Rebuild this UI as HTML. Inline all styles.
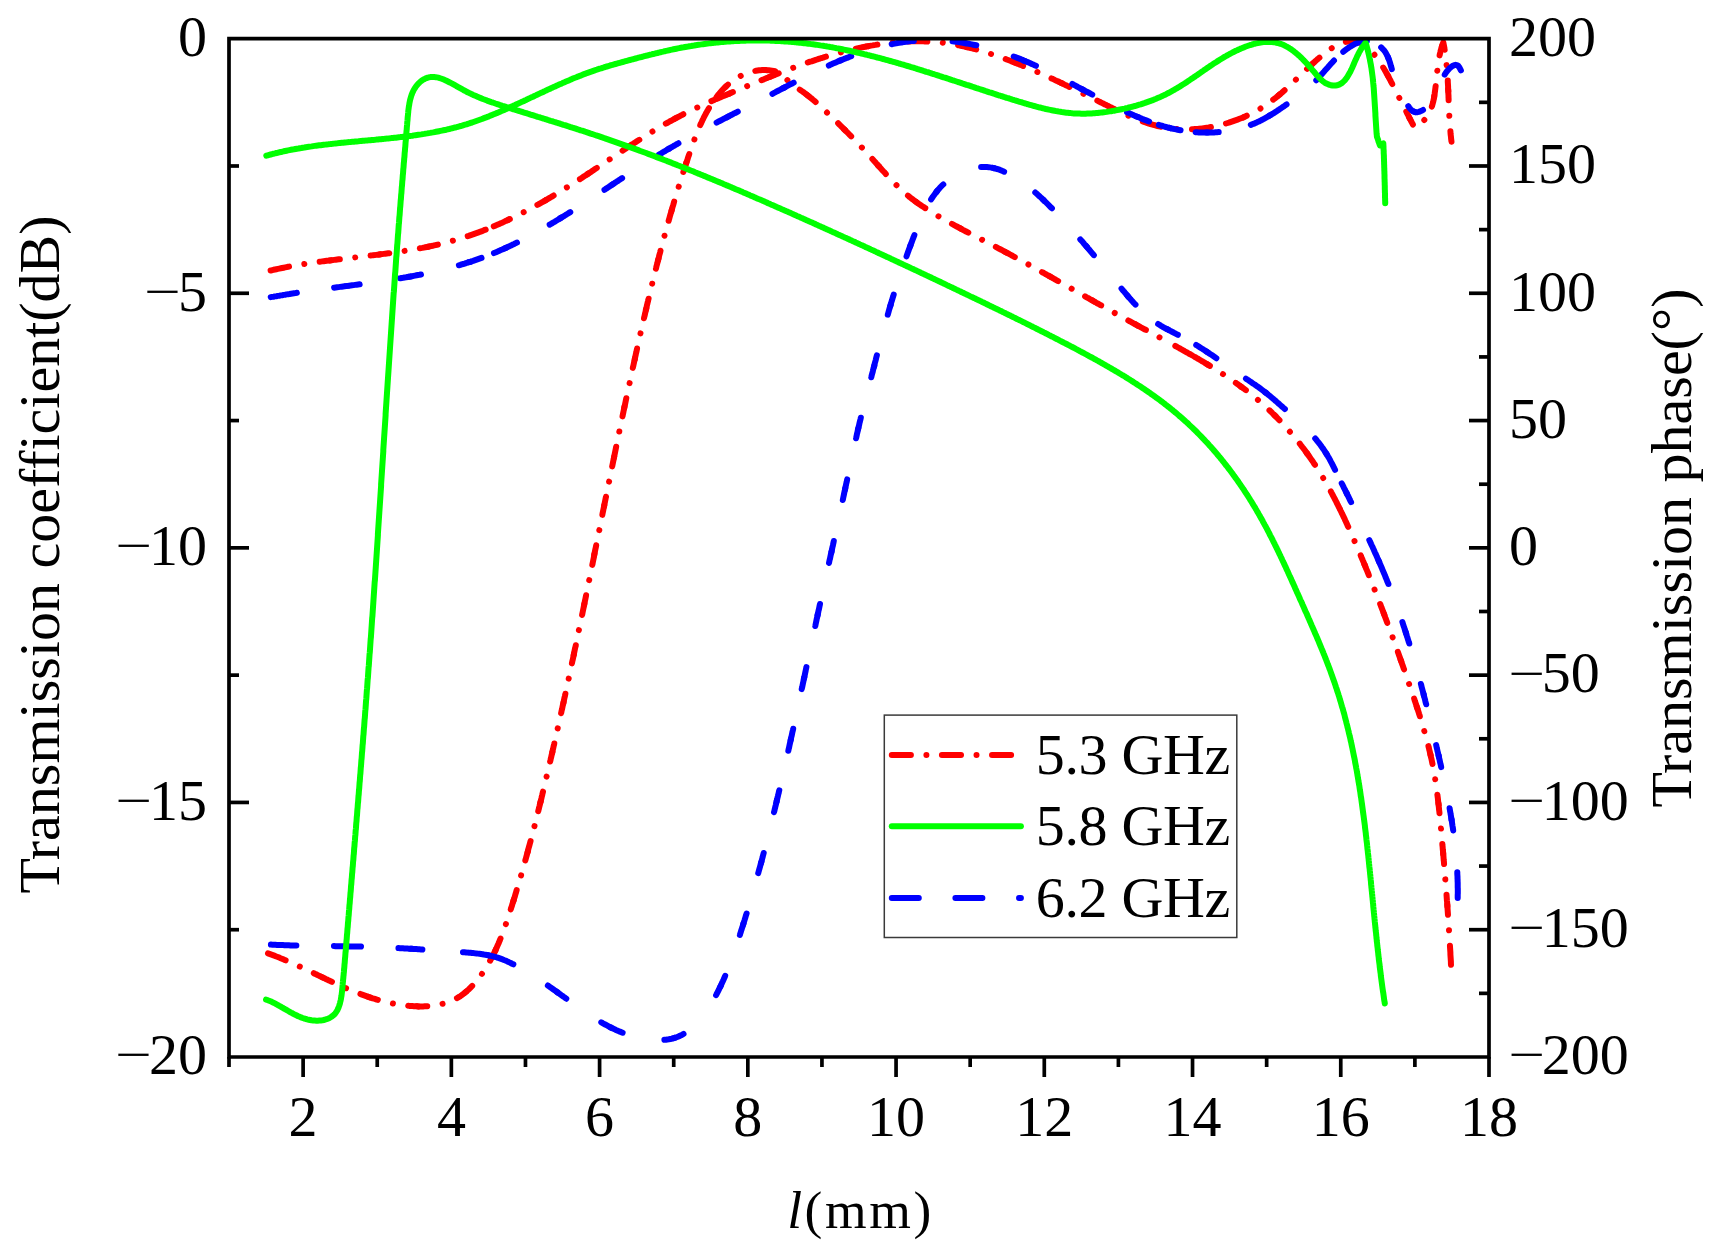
<!DOCTYPE html>
<html><head><meta charset="utf-8"><title>Transmission</title>
<style>html,body{margin:0;padding:0;background:#fff;}svg{display:block;}</style>
</head><body>
<svg width="1722" height="1257" viewBox="0 0 1722 1257" font-family="'Liberation Serif','Times New Roman',serif">
<rect width="1722" height="1257" fill="#fff"/>
<g fill="none" stroke-width="6" stroke-linecap="round" stroke-linejoin="round">
<path d="M270.6,270.5 L272.0,270.2 L273.5,269.8 L275.0,269.5 L276.4,269.2 L277.9,268.9 L279.3,268.6 L280.8,268.3 L282.2,268.0 L283.7,267.7 L285.2,267.4 L286.6,267.1 L288.1,266.8 L289.6,266.5 L291.0,266.3 L292.5,266.0 L294.0,265.7 L295.5,265.5 L296.9,265.2 L298.4,265.0 L299.9,264.7 L301.4,264.5 L302.9,264.2 L304.3,264.0 L305.8,263.8 L307.3,263.5 L308.8,263.3 L310.3,263.1 L311.8,262.9 L313.2,262.7 L314.7,262.4 L316.2,262.2 L317.7,262.0 L319.2,261.8 L320.7,261.6 L322.2,261.4 L323.7,261.2 L325.2,261.0 L326.7,260.8 L328.2,260.6 L329.7,260.4 L331.2,260.3" stroke="#ff0000" stroke-dasharray="19.1 15.5 0.01 15.5" stroke-dashoffset="0.24"/>
<path d="M329.7,260.4 L331.2,260.3 L332.7,260.1 L334.2,259.9 L335.7,259.7 L337.2,259.5 L338.7,259.3 L340.2,259.2 L341.7,259.0 L343.2,258.8 L344.7,258.6 L346.2,258.4 L347.7,258.3 L349.2,258.1 L350.7,257.9 L352.2,257.7 L353.7,257.6 L355.2,257.4 L356.7,257.2 L358.2,257.0 L359.7,256.9 L361.2,256.7 L362.7,256.5 L364.2,256.3 L365.7,256.1 L367.2,256.0 L368.7,255.8 L370.2,255.6 L371.7,255.4 L373.2,255.2 L374.7,255.1 L376.2,254.9 L377.7,254.7 L379.2,254.5 L380.7,254.3" stroke="#ff0000" stroke-dasharray="19.1 15.5 0.01 15.5" stroke-dashoffset="8.92"/>
<path d="M379.2,254.5 L380.7,254.3 L382.2,254.1 L383.7,253.9 L385.2,253.7 L386.7,253.5 L388.2,253.3 L389.7,253.1 L391.2,252.9 L392.7,252.7 L394.1,252.5 L395.6,252.3 L397.1,252.1 L398.6,251.8 L400.1,251.6 L401.6,251.4 L403.1,251.2 L404.6,250.9 L406.1,250.7 L407.5,250.5 L409.0,250.2 L410.5,250.0 L412.0,249.7 L413.5,249.5 L415.0,249.2 L416.4,248.9 L417.9,248.7 L419.4,248.4 L420.9,248.1 L422.3,247.9 L423.8,247.6 L425.3,247.3 L426.8,247.0 L428.2,246.7 L429.7,246.4" stroke="#ff0000" stroke-dasharray="19.1 15.5 0.01 15.5" stroke-dashoffset="8.96"/>
<path d="M428.2,246.7 L429.7,246.4 L431.2,246.1 L432.6,245.8 L434.1,245.4 L435.5,245.1 L437.0,244.8 L438.5,244.4 L439.9,244.1 L441.4,243.7 L442.8,243.4 L444.3,243.0 L445.7,242.7 L447.2,242.3 L448.6,241.9 L450.1,241.5 L451.5,241.1 L452.9,240.7 L454.4,240.3 L455.8,239.9 L457.2,239.5 L458.7,239.0 L460.1,238.6 L461.5,238.2 L462.9,237.7 L464.4,237.3 L465.8,236.8 L467.2,236.3 L468.6,235.9 L470.0,235.4 L471.5,234.9 L472.9,234.4 L474.3,233.9 L475.7,233.4 L477.1,232.9 L478.5,232.4 L479.9,231.8 L481.3,231.3 L482.7,230.8 L484.1,230.2 L485.5,229.7 L486.9,229.1 L488.3,228.6 L489.6,228.0 L491.0,227.4" stroke="#ff0000" stroke-dasharray="19.1 15.5 0.01 15.5" stroke-dashoffset="9.18"/>
<path d="M489.6,228.0 L491.0,227.4 L492.4,226.9 L493.8,226.3 L495.2,225.7 L496.6,225.1 L497.9,224.5 L499.3,223.9 L500.7,223.3 L502.1,222.7 L503.4,222.1 L504.8,221.4 L506.1,220.8 L507.5,220.2 L508.9,219.5" stroke="#ff0000" stroke-dasharray="19.1 15.5 0.01 15.5" stroke-dashoffset="45.60"/>
<path d="M507.5,220.2 L508.9,219.5 L510.2,218.9 L511.6,218.2 L512.9,217.6 L514.3,216.9 L515.6,216.3 L517.0,215.6 L518.3,214.9 L519.7,214.3 L521.0,213.6 L522.4,212.9 L523.7,212.2 L525.1,211.5 L526.4,210.8 L527.7,210.1 L529.1,209.4 L530.4,208.7 L531.7,208.0 L533.0,207.3 L534.4,206.6 L535.7,205.8 L537.0,205.1 L538.3,204.4 L539.7,203.6 L541.0,202.9 L542.3,202.2 L543.6,201.4 L544.9,200.7 L546.2,199.9" stroke="#ff0000" stroke-dasharray="19.1 15.5 0.01 15.5" stroke-dashoffset="16.54"/>
<path d="M544.9,200.7 L546.2,199.9 L547.5,199.2 L548.8,198.4 L550.1,197.6 L551.4,196.9 L552.7,196.1 L554.0,195.3 L555.3,194.5 L556.6,193.8 L557.9,193.0 L559.2,192.2 L560.5,191.4 L561.8,190.6 L563.1,189.8 L564.3,189.0 L565.6,188.2 L566.9,187.4 L568.2,186.6 L569.5,185.8 L570.7,185.0 L572.0,184.2 L573.3,183.4 L574.5,182.6 L575.8,181.8 L577.1,181.0 L578.3,180.1 L579.6,179.3 L580.9,178.5 L582.1,177.7 L583.4,176.8 L584.6,176.0 L585.9,175.2 L587.2,174.4 L588.4,173.5" stroke="#ff0000" stroke-dasharray="19.1 15.5 0.01 15.5" stroke-dashoffset="8.93"/>
<path d="M587.2,174.4 L588.4,173.5 L589.7,172.7 L590.9,171.9 L592.2,171.0 L593.4,170.2 L594.7,169.3 L595.9,168.5 L597.2,167.7 L598.4,166.8 L599.7,166.0 L600.9,165.2 L602.2,164.3 L603.4,163.5 L604.7,162.6 L605.9,161.8 L607.2,161.0 L608.4,160.1 L609.7,159.3 L610.9,158.4 L612.2,157.6 L613.4,156.8 L614.7,155.9 L615.9,155.1 L617.2,154.3 L618.4,153.4 L619.7,152.6 L620.9,151.8 L622.2,150.9 L623.4,150.1 L624.7,149.3 L625.9,148.5 L627.2,147.6 L628.4,146.8 L629.7,146.0 L630.9,145.2" stroke="#ff0000" stroke-dasharray="19.1 15.5 0.01 15.5" stroke-dashoffset="7.51"/>
<path d="M629.7,146.0 L630.9,145.2 L632.2,144.3 L633.5,143.5 L634.7,142.7 L636.0,141.9 L637.2,141.1 L638.5,140.3 L639.8,139.5 L641.0,138.7 L642.3,137.9 L643.6,137.1 L644.8,136.3 L646.1,135.5 L647.4,134.7 L648.6,133.9 L649.9,133.1 L651.2,132.3 L652.5,131.5 L653.7,130.8 L655.0,130.0 L656.3,129.2 L657.6,128.5 L658.9,127.7 L660.2,126.9 L661.5,126.2 L662.8,125.4 L664.1,124.7 L665.3,123.9 L666.6,123.2 L668.0,122.5 L669.3,121.7 L670.6,121.0 L671.9,120.3 L673.2,119.6 L674.5,118.9 L675.8,118.2" stroke="#ff0000" stroke-dasharray="19.1 15.5 0.01 15.5" stroke-dashoffset="7.63"/>
<path d="M674.5,118.9 L675.8,118.2 L677.1,117.5 L678.5,116.8 L679.8,116.1 L681.1,115.4 L682.5,114.7 L683.8,114.0 L685.1,113.3 L686.5,112.7 L687.8,112.0 L689.2,111.3 L690.5,110.7 L691.9,110.0 L693.2,109.4 L694.6,108.8 L695.9,108.1 L697.3,107.5 L698.7,106.9 L700.0,106.2 L701.4,105.6 L702.8,105.0 L704.1,104.4 L705.5,103.8 L706.9,103.2 L708.3,102.6 L709.6,102.0 L711.0,101.3 L712.4,100.7 L713.8,100.2" stroke="#ff0000" stroke-dasharray="19.1 15.5 0.01 15.5" stroke-dashoffset="9.12"/>
<path d="M712.4,100.7 L713.8,100.2 L715.2,99.6 L716.6,99.0 L717.9,98.4 L719.3,97.8 L720.7,97.2 L722.1,96.6 L723.5,96.0 L724.9,95.4 L726.3,94.9 L727.7,94.3 L729.1,93.7 L730.4,93.1" stroke="#ff0000" stroke-dasharray="19.1 15.5 0.01 15.5" stroke-dashoffset="45.59"/>
<path d="M729.1,93.7 L730.4,93.1 L731.8,92.5 L733.2,91.9 L734.6,91.4 L736.0,90.8 L737.4,90.2 L738.8,89.6 L740.2,89.0 L741.6,88.5 L743.0,87.9 L744.3,87.3 L745.7,86.7 L747.1,86.1 L748.5,85.6 L749.9,85.0 L751.3,84.4 L752.7,83.8 L754.1,83.3 L755.5,82.7 L756.9,82.1 L758.3,81.5 L759.6,81.0 L761.0,80.4 L762.4,79.8 L763.8,79.3 L765.2,78.7 L766.6,78.1 L768.0,77.6 L769.4,77.0 L770.8,76.4" stroke="#ff0000" stroke-dasharray="19.1 15.5 0.01 15.5" stroke-dashoffset="15.01"/>
<path d="M769.4,77.0 L770.8,76.4 L772.2,75.9 L773.6,75.3 L775.0,74.8 L776.4,74.2 L777.8,73.7 L779.2,73.1 L780.6,72.6 L782.0,72.0 L783.4,71.5 L784.8,71.0 L786.2,70.4 L787.6,69.9 L789.0,69.4 L790.4,68.8 L791.8,68.3 L793.2,67.8 L794.6,67.3 L796.0,66.7 L797.4,66.2 L798.8,65.7 L800.2,65.2 L801.7,64.7 L803.1,64.2 L804.5,63.7 L805.9,63.2 L807.3,62.7 L808.7,62.2 L810.1,61.7 L811.6,61.3 L813.0,60.8 L814.4,60.3 L815.8,59.8 L817.3,59.4 L818.7,58.9 L820.1,58.5 L821.5,58.0 L823.0,57.6 L824.4,57.1 L825.8,56.7 L827.3,56.2 L828.7,55.8 L830.1,55.4 L831.6,55.0 L833.0,54.5 L834.5,54.1 L835.9,53.7 L837.4,53.3 L838.8,52.9 L840.3,52.5 L841.7,52.2 L843.2,51.8 L844.6,51.4 L846.1,51.0 L847.5,50.7 L849.0,50.3 L850.4,49.9 L851.9,49.6 L853.4,49.3 L854.8,48.9 L856.3,48.6 L857.8,48.3 L859.3,47.9 L860.7,47.6 L862.2,47.3 L863.7,47.0 L865.2,46.7 L866.6,46.4 L868.1,46.2" stroke="#ff0000" stroke-dasharray="19.1 15.5 0.01 15.5" stroke-dashoffset="9.07"/>
<path d="M866.6,46.4 L868.1,46.2 L869.6,45.9 L871.1,45.6 L872.6,45.4 L874.1,45.1 L875.5,44.9 L877.0,44.6 L878.5,44.4 L880.0,44.2 L881.5,43.9 L883.0,43.7 L884.5,43.5 L886.0,43.3 L887.5,43.2 L889.0,43.0 L890.5,42.8 L892.0,42.7 L893.5,42.5 L895.0,42.4 L896.5,42.2 L898.0,42.1 L899.5,42.0 L901.0,41.9 L902.5,41.8 L904.0,41.7 L905.5,41.6 L907.0,41.5 L908.5,41.4 L910.0,41.4 L911.5,41.3 L913.0,41.3 L914.5,41.3 L916.0,41.3 L917.5,41.3 L919.0,41.3 L920.5,41.3 L921.9,41.3 L923.4,41.3 L924.9,41.4 L926.4,41.4 L927.9,41.5 L929.4,41.6 L930.9,41.7 L932.4,41.8 L933.9,41.9 L935.4,42.0 L936.9,42.1 L938.4,42.2 L939.9,42.4 L941.4,42.6 L942.8,42.7 L944.3,42.9 L945.8,43.1 L947.3,43.3 L948.8,43.5 L950.2,43.8 L951.7,44.0 L953.2,44.3 L954.7,44.5 L956.2,44.8 L957.6,45.1 L959.1,45.4 L960.6,45.7 L962.0,46.0 L963.5,46.3 L965.0,46.6 L966.4,47.0 L967.9,47.3" stroke="#ff0000" stroke-dasharray="19.1 15.5 0.01 15.5" stroke-dashoffset="8.10"/>
<path d="M966.4,47.0 L967.9,47.3 L969.4,47.7 L970.8,48.0 L972.3,48.4 L973.7,48.8 L975.2,49.2 L976.6,49.6 L978.1,50.0 L979.5,50.4 L981.0,50.8 L982.4,51.2 L983.9,51.7 L985.3,52.1 L986.8,52.6 L988.2,53.0 L989.6,53.5 L991.1,54.0 L992.5,54.4 L993.9,54.9 L995.4,55.4 L996.8,55.9 L998.2,56.4 L999.6,56.9 L1001.1,57.4 L1002.5,57.9 L1003.9,58.4 L1005.3,58.9 L1006.7,59.5 L1008.1,60.0 L1009.6,60.5 L1011.0,61.1 L1012.4,61.6 L1013.8,62.2 L1015.2,62.7" stroke="#ff0000" stroke-dasharray="19.1 15.5 0.01 15.5" stroke-dashoffset="8.98"/>
<path d="M1013.8,62.2 L1015.2,62.7 L1016.6,63.3 L1018.0,63.8 L1019.4,64.4 L1020.8,65.0 L1022.2,65.5 L1023.5,66.1 L1024.9,66.7 L1026.3,67.3 L1027.7,67.8 L1029.1,68.4 L1030.5,69.0 L1031.8,69.6 L1033.2,70.2 L1034.6,70.8 L1036.0,71.4 L1037.4,72.0 L1038.7,72.6 L1040.1,73.2 L1041.5,73.8 L1042.8,74.4 L1044.2,75.1 L1045.6,75.7 L1046.9,76.3 L1048.3,76.9 L1049.7,77.5 L1051.0,78.2 L1052.4,78.8 L1053.7,79.4 L1055.1,80.1 L1056.4,80.7 L1057.8,81.3 L1059.2,82.0 L1060.5,82.6 L1061.9,83.3" stroke="#ff0000" stroke-dasharray="19.1 15.5 0.01 15.5" stroke-dashoffset="9.05"/>
<path d="M1060.5,82.6 L1061.9,83.3 L1063.2,83.9 L1064.6,84.6 L1065.9,85.2 L1067.3,85.9 L1068.6,86.5 L1070.0,87.2 L1071.3,87.8 L1072.7,88.5 L1074.0,89.1 L1075.4,89.8 L1076.7,90.4 L1078.1,91.1 L1079.4,91.8 L1080.8,92.4 L1082.1,93.1 L1083.4,93.8 L1084.8,94.4 L1086.1,95.1 L1087.5,95.8 L1088.8,96.4 L1090.2,97.1 L1091.5,97.8 L1092.9,98.4 L1094.2,99.1 L1095.6,99.8 L1096.9,100.4 L1098.3,101.1 L1099.6,101.8 L1101.0,102.5 L1102.3,103.1 L1103.7,103.8 L1105.0,104.5 L1106.4,105.1 L1107.7,105.8 L1109.1,106.5 L1110.4,107.1 L1111.8,107.8 L1113.1,108.5 L1114.5,109.1 L1115.8,109.8 L1117.2,110.5 L1118.5,111.1 L1119.9,111.8 L1121.3,112.4 L1122.6,113.0 L1124.0,113.7 L1125.4,114.3 L1126.7,114.9 L1128.1,115.5 L1129.5,116.1 L1130.8,116.7 L1132.2,117.3 L1133.6,117.9 L1135.0,118.5 L1136.4,119.0 L1137.8,119.6 L1139.2,120.1 L1140.6,120.6 L1141.9,121.2 L1143.3,121.7 L1144.8,122.2 L1146.2,122.6 L1147.6,123.1 L1149.0,123.6 L1150.4,124.0 L1151.8,124.4 L1153.3,124.8 L1154.7,125.2 L1156.1,125.6 L1157.6,126.0 L1159.0,126.3 L1160.5,126.6 L1161.9,126.9 L1163.4,127.2 L1164.8,127.5 L1166.3,127.7 L1167.8,128.0 L1169.2,128.2 L1170.7,128.4 L1172.2,128.5 L1173.7,128.7 L1175.2,128.8 L1176.7,129.0 L1178.1,129.1 L1179.6,129.2 L1181.1,129.2 L1182.6,129.3 L1184.1,129.3 L1185.6,129.3 L1187.1,129.3 L1188.7,129.3 L1190.2,129.3 L1191.7,129.2 L1193.2,129.2 L1194.7,129.1 L1196.2,129.0 L1197.7,128.9 L1199.2,128.7 L1200.7,128.6 L1202.2,128.4 L1203.7,128.2 L1205.2,128.0 L1206.7,127.8 L1208.2,127.6 L1209.7,127.3 L1211.2,127.0 L1212.7,126.8 L1214.2,126.5 L1215.7,126.2 L1217.2,125.8 L1218.6,125.5 L1220.1,125.1 L1221.6,124.8 L1223.1,124.4 L1224.5,124.0 L1226.0,123.5" stroke="#ff0000" stroke-dasharray="19.1 15.5 0.01 15.5" stroke-dashoffset="9.10"/>
<path d="M1224.5,124.0 L1226.0,123.5 L1227.4,123.1 L1228.9,122.7 L1230.3,122.2 L1231.8,121.7 L1233.2,121.2 L1234.6,120.7 L1236.1,120.2 L1237.5,119.7 L1238.9,119.1 L1240.3,118.5 L1241.7,118.0 L1243.1,117.4 L1244.5,116.8" stroke="#ff0000" stroke-dasharray="19.1 15.5 0.01 15.5" stroke-dashoffset="45.58"/>
<path d="M1243.1,117.4 L1244.5,116.8 L1245.9,116.2 L1247.2,115.5 L1248.6,114.9 L1249.9,114.2 L1251.3,113.5 L1252.6,112.8 L1254.0,112.1 L1255.3,111.4 L1256.6,110.7 L1257.9,110.0 L1259.2,109.2 L1260.5,108.5 L1261.7,107.7 L1263.0,106.9 L1264.2,106.1 L1265.5,105.3 L1266.7,104.4 L1267.9,103.6 L1269.1,102.7 L1270.3,101.9 L1271.5,101.0 L1272.7,100.1 L1273.8,99.2 L1275.0,98.3 L1276.2,97.4 L1277.3,96.5 L1278.4,95.5 L1279.5,94.6" stroke="#ff0000" stroke-dasharray="19.1 15.5 0.01 15.5" stroke-dashoffset="15.07"/>
<path d="M1278.4,95.5 L1279.5,94.6 L1280.7,93.6 L1281.8,92.7 L1282.9,91.7 L1284.0,90.7 L1285.1,89.7 L1286.2,88.8 L1287.3,87.8 L1288.4,86.8 L1289.4,85.7 L1290.5,84.7 L1291.6,83.7 L1292.7,82.7 L1293.8,81.7 L1294.8,80.6 L1295.9,79.6 L1297.0,78.6 L1298.1,77.5 L1299.1,76.5 L1300.2,75.4 L1301.3,74.4 L1302.4,73.3 L1303.5,72.3 L1304.6,71.2 L1305.7,70.2 L1306.8,69.1 L1307.9,68.1 L1309.0,67.0 L1310.1,66.0 L1311.2,64.9 L1312.4,63.9 L1313.5,62.9" stroke="#ff0000" stroke-dasharray="19.1 15.5 0.01 15.5" stroke-dashoffset="10.94"/>
<path d="M1312.4,63.9 L1313.5,62.9 L1314.7,61.8 L1315.8,60.8 L1317.0,59.8 L1318.1,58.7 L1319.3,57.7 L1320.5,56.7 L1321.7,55.7 L1322.9,54.7 L1324.2,53.7 L1325.4,52.7 L1326.7,51.8 L1327.9,50.8 L1329.2,49.9 L1330.4,49.1 L1331.7,48.2 L1333.0,47.4 L1334.3,46.6 L1335.6,45.9 L1336.9,45.2 L1338.2,44.6 L1339.5,44.0 L1340.9,43.4 L1342.2,42.9 L1343.6,42.5 L1344.9,42.1 L1346.3,41.8 L1347.6,41.5 L1349.0,41.3 L1350.4,41.2 L1351.7,41.2 L1353.1,41.2 L1354.5,41.4 L1355.9,41.6" stroke="#ff0000" stroke-dasharray="19.1 15.5 0.01 15.5" stroke-dashoffset="9.66"/>
<path d="M1354.5,41.4 L1355.9,41.6 L1357.3,41.9 L1358.6,42.2 L1360.0,42.7 L1361.3,43.2 L1362.6,43.8 L1363.8,44.5 L1365.0,45.3 L1366.2,46.2 L1367.3,47.1 L1368.4,48.0 L1369.5,49.1 L1370.5,50.2 L1371.6,51.3 L1372.5,52.4 L1373.5,53.6 L1374.5,54.8 L1375.4,55.9 L1376.3,57.2 L1377.2,58.4 L1378.1,59.6 L1378.9,60.9 L1379.8,62.1 L1380.6,63.4 L1381.4,64.7 L1382.2,65.9 L1383.0,67.2 L1383.8,68.5 L1384.6,69.8 L1385.3,71.1 L1386.1,72.5 L1386.8,73.8 L1387.6,75.1 L1388.3,76.4" stroke="#ff0000" stroke-dasharray="19.1 15.5 0.01 15.5" stroke-dashoffset="9.84"/>
<path d="M1387.6,75.1 L1388.3,76.4 L1389.0,77.8 L1389.7,79.1 L1390.4,80.4 L1391.1,81.8 L1391.8,83.1 L1392.5,84.5 L1393.2,85.8 L1393.9,87.1 L1394.6,88.5 L1395.3,89.8 L1395.9,91.1 L1396.6,92.5 L1397.3,93.8 L1398.0,95.1 L1398.6,96.5 L1399.3,97.8 L1400.0,99.1 L1400.7,100.5 L1401.3,101.8 L1402.0,103.1 L1402.7,104.4 L1403.3,105.8 L1404.0,107.1 L1404.7,108.4 L1405.4,109.8 L1406.0,111.1 L1406.7,112.4 L1407.4,113.8 L1408.1,115.1 L1408.7,116.4 L1409.4,117.8 L1410.1,119.1" stroke="#ff0000" stroke-dasharray="19.1 15.5 0.01 15.5" stroke-dashoffset="9.05"/>
<path d="M1409.4,117.8 L1410.1,119.1 L1410.8,120.5 L1411.5,121.8 L1412.2,123.2 L1412.9,124.5 L1413.6,125.8 L1414.3,127.2 L1415.8,126.5 L1417.2,125.7 L1418.6,124.8 L1419.9,124.0 L1421.1,123.0 L1422.3,122.1 L1423.3,121.1 L1424.3,120.0 L1425.3,118.9 L1426.2,117.8 L1427.0,116.6 L1427.8,115.4 L1428.5,114.2 L1429.2,112.9 L1429.9,111.6 L1430.4,110.3 L1431.0,108.9 L1431.5,107.5 L1432.0,106.1 L1432.4,104.7 L1432.8,103.3 L1433.2,101.8 L1433.5,100.3 L1433.8,98.8 L1434.1,97.3 L1434.3,95.8" stroke="#ff0000" stroke-dasharray="19.1 15.5 0.01 15.5" stroke-dashoffset="11.55"/>
<path d="M1434.1,97.3 L1434.3,95.8 L1434.6,94.2 L1434.8,92.7 L1435.0,91.1 L1435.2,89.6 L1435.4,88.0 L1435.6,86.4 L1435.8,84.9 L1435.9,83.3 L1436.1,81.7 L1436.3,80.1 L1436.4,78.6 L1436.6,77.0 L1436.8,75.4 L1436.9,73.8 L1437.1,72.3 L1437.3,70.7 L1437.5,69.1 L1437.7,67.6 L1437.9,66.0 L1438.1,64.5 L1438.3,63.0 L1438.5,61.4 L1438.8,59.9 L1439.0,58.4 L1439.3,56.9 L1439.6,55.4 L1439.9,53.9 L1440.3,52.4 L1440.6,50.9 L1441.0,49.5 L1441.4,48.0 L1441.9,46.6 L1442.3,45.2" stroke="#ff0000" stroke-dasharray="19.1 15.5 0.01 15.5" stroke-dashoffset="7.81"/>
<path d="M1441.9,46.6 L1442.3,45.2 L1442.8,43.8 L1443.3,42.4 L1443.6,43.9 L1443.9,45.4 L1444.2,46.9 L1444.4,48.4 L1444.7,49.9 L1444.9,51.4 L1445.1,53.0 L1445.4,54.5 L1445.6,56.0 L1445.8,57.5 L1446.0,59.0 L1446.1,60.5 L1446.3,62.1 L1446.5,63.6 L1446.6,65.1 L1446.8,66.6 L1446.9,68.2 L1447.0,69.7 L1447.1,71.2 L1447.3,72.7 L1447.4,74.3 L1447.5,75.8 L1447.6,77.3 L1447.7,78.9 L1447.8,80.4 L1447.8,81.9 L1447.9,83.5 L1448.0,85.0 L1448.1,86.5 L1448.1,88.1 L1448.2,89.6 L1448.3,91.1" stroke="#ff0000" stroke-dasharray="19.1 15.5 0.01 15.5" stroke-dashoffset="7.20"/>
<path d="M1448.2,89.6 L1448.3,91.1 L1448.3,92.7 L1448.4,94.2 L1448.5,95.7 L1448.5,97.3 L1448.6,98.8 L1448.6,100.4 L1448.7,101.9 L1448.8,103.4 L1448.8,105.0 L1448.9,106.5 L1448.9,108.0 L1449.0,109.6 L1449.1,111.1 L1449.2,112.6 L1449.2,114.2 L1449.3,115.7 L1449.4,117.3 L1449.5,118.8 L1449.6,120.3 L1449.7,121.9 L1449.8,123.4 L1449.9,124.9 L1450.0,126.4 L1450.1,128.0 L1450.2,129.5 L1450.4,131.0 L1450.5,132.6 L1450.6,134.1 L1450.8,135.6 L1451.0,137.1 L1451.1,138.7 L1451.3,140.2 L1451.5,141.7" stroke="#ff0000" stroke-dasharray="19.1 15.5 0.01 15.5" stroke-dashoffset="8.46"/>
<path d="M268.0,953.3 L269.4,953.8 L270.8,954.3 L272.2,954.9 L273.6,955.4 L275.0,955.9 L276.4,956.5 L277.8,957.0 L279.2,957.6 L280.6,958.2 L281.9,958.7 L283.3,959.3 L284.7,959.9 L286.1,960.5 L287.5,961.1 L288.8,961.7 L290.2,962.3 L291.6,962.9 L292.9,963.5 L294.3,964.1 L295.7,964.7 L297.0,965.4 L298.4,966.0 L299.8,966.6 L301.1,967.3 L302.5,967.9 L303.9,968.5 L305.2,969.2 L306.6,969.8 L308.0,970.5 L309.3,971.1 L310.7,971.8 L312.0,972.4 L313.4,973.0 L314.8,973.7 L316.1,974.3 L317.5,975.0 L318.8,975.6 L320.2,976.3 L321.5,976.9 L322.9,977.6" stroke="#ff0000" stroke-dasharray="19.1 15.5 0.01 15.5" stroke-dashoffset="0.13"/>
<path d="M321.5,976.9 L322.9,977.6 L324.3,978.2 L325.6,978.9 L327.0,979.5 L328.3,980.2 L329.7,980.8 L331.1,981.4 L332.4,982.1 L333.8,982.7 L335.2,983.3 L336.5,983.9 L337.9,984.6 L339.3,985.2 L340.6,985.8 L342.0,986.4 L343.4,987.0 L344.8,987.6 L346.1,988.2 L347.5,988.8 L348.9,989.4 L350.3,990.0 L351.6,990.5 L353.0,991.1 L354.4,991.7 L355.8,992.2 L357.2,992.8 L358.6,993.3 L360.0,993.8 L361.4,994.4 L362.8,994.9 L364.2,995.4 L365.6,995.9 L367.0,996.4 L368.4,996.9 L369.8,997.3" stroke="#ff0000" stroke-dasharray="19.1 15.5 0.01 15.5" stroke-dashoffset="7.56"/>
<path d="M368.4,996.9 L369.8,997.3 L371.2,997.8 L372.7,998.3 L374.1,998.7 L375.5,999.1 L376.9,999.6 L378.4,1000.0 L379.8,1000.4 L381.2,1000.8 L382.7,1001.2 L384.1,1001.5 L385.6,1001.9 L387.0,1002.2 L388.5,1002.6 L390.0,1002.9 L391.4,1003.2 L392.9,1003.5 L394.4,1003.8 L395.8,1004.1 L397.3,1004.3 L398.8,1004.6 L400.3,1004.8 L401.8,1005.0 L403.3,1005.2 L404.8,1005.4 L406.3,1005.6 L407.8,1005.7 L409.3,1005.9 L410.9,1006.0 L412.4,1006.1 L413.9,1006.2 L415.5,1006.3 L417.0,1006.3 L418.5,1006.4" stroke="#ff0000" stroke-dasharray="19.1 15.5 0.01 15.5" stroke-dashoffset="9.21"/>
<path d="M417.0,1006.3 L418.5,1006.4 L420.1,1006.4 L421.6,1006.4 L423.1,1006.4 L424.7,1006.3 L426.2,1006.3 L427.7,1006.2 L429.2,1006.0 L430.7,1005.9 L432.2,1005.7 L433.7,1005.5 L435.2,1005.3 L436.7,1005.1 L438.2,1004.8 L439.7,1004.5 L441.1,1004.2 L442.6,1003.8 L444.0,1003.4 L445.4,1003.0 L446.8,1002.6 L448.2,1002.1 L449.6,1001.6 L451.0,1001.0 L452.3,1000.5 L453.7,999.9 L455.0,999.2 L456.3,998.5 L457.6,997.8 L458.8,997.0 L460.1,996.3 L461.3,995.4 L462.5,994.6 L463.7,993.7 L464.8,992.8 L466.0,991.8" stroke="#ff0000" stroke-dasharray="19.1 15.5 0.01 15.5" stroke-dashoffset="8.81"/>
<path d="M464.8,992.8 L466.0,991.8 L467.1,990.9 L468.2,989.9 L469.3,988.8 L470.4,987.8 L471.4,986.7 L472.5,985.6 L473.5,984.5 L474.5,983.4 L475.5,982.2 L476.5,981.1 L477.4,979.9 L478.4,978.7 L479.3,977.5 L480.2,976.3 L481.1,975.1 L482.0,973.8 L482.8,972.6 L483.7,971.4 L484.5,970.1 L485.3,968.8 L486.1,967.6 L486.9,966.3 L487.7,965.0 L488.4,963.7 L489.2,962.4 L489.9,961.1 L490.6,959.8 L491.4,958.5 L492.1,957.2 L492.7,955.8 L493.4,954.5 L494.1,953.2 L494.7,951.8 L495.4,950.5 L496.0,949.1" stroke="#ff0000" stroke-dasharray="19.1 15.5 0.01 15.5" stroke-dashoffset="8.98"/>
<path d="M495.4,950.5 L496.0,949.1 L496.6,947.8 L497.2,946.4 L497.8,945.0 L498.4,943.7 L499.0,942.3 L499.6,940.9 L500.1,939.5 L500.7,938.1 L501.3,936.7 L501.8,935.3 L502.3,933.9 L502.9,932.5 L503.4,931.1 L503.9,929.7 L504.4,928.3 L504.9,926.9 L505.4,925.5 L505.9,924.1 L506.4,922.6 L506.9,921.2 L507.4,919.8 L507.8,918.4 L508.3,916.9 L508.8,915.5 L509.2,914.1 L509.7,912.6 L510.2,911.2 L510.6,909.8 L511.1,908.3 L511.5,906.9 L512.0,905.5 L512.4,904.0 L512.9,902.6 L513.3,901.2 L513.8,899.7" stroke="#ff0000" stroke-dasharray="19.1 15.5 0.01 15.5" stroke-dashoffset="6.14"/>
<path d="M513.3,901.2 L513.8,899.7 L514.2,898.3 L514.7,896.9 L515.1,895.4 L515.5,894.0 L516.0,892.6 L516.4,891.1 L516.8,889.7 L517.3,888.2 L517.7,886.8 L518.1,885.4 L518.6,883.9 L519.0,882.5 L519.4,881.0 L519.8,879.6 L520.2,878.2 L520.7,876.7 L521.1,875.3 L521.5,873.8 L521.9,872.4 L522.3,871.0 L522.7,869.5 L523.1,868.1 L523.5,866.6 L524.0,865.2 L524.4,863.7 L524.8,862.3 L525.2,860.8 L525.6,859.4 L526.0,858.0 L526.4,856.5 L526.8,855.1 L527.2,853.6 L527.6,852.2 L528.0,850.7" stroke="#ff0000" stroke-dasharray="19.1 15.5 0.01 15.5" stroke-dashoffset="7.57"/>
<path d="M527.6,852.2 L528.0,850.7 L528.3,849.3 L528.7,847.8 L529.1,846.4 L529.5,844.9 L529.9,843.5 L530.3,842.0 L530.7,840.6 L531.1,839.1 L531.4,837.7 L531.8,836.2 L532.2,834.8 L532.6,833.3 L533.0,831.9 L533.3,830.4 L533.7,829.0 L534.1,827.5 L534.5,826.1 L534.8,824.6 L535.2,823.2 L535.6,821.7 L535.9,820.3 L536.3,818.8 L536.7,817.4 L537.0,815.9 L537.4,814.4 L537.8,813.0 L538.1,811.5 L538.5,810.1 L538.9,808.6 L539.2,807.2 L539.6,805.7 L539.9,804.3 L540.3,802.8 L540.7,801.4" stroke="#ff0000" stroke-dasharray="19.1 15.5 0.01 15.5" stroke-dashoffset="7.61"/>
<path d="M540.3,802.8 L540.7,801.4 L541.0,799.9 L541.4,798.4 L541.7,797.0 L542.1,795.5 L542.4,794.1 L542.8,792.6 L543.1,791.2 L543.5,789.7 L543.8,788.2 L544.2,786.8 L544.5,785.3 L544.9,783.9 L545.2,782.4 L545.6,781.0 L545.9,779.5 L546.3,778.0 L546.6,776.6 L547.0,775.1 L547.3,773.7 L547.7,772.2 L548.0,770.7 L548.3,769.3 L548.7,767.8 L549.0,766.4 L549.4,764.9 L549.7,763.4 L550.0,762.0 L550.4,760.5 L550.7,759.1 L551.1,757.6 L551.4,756.1 L551.7,754.7 L552.1,753.2 L552.4,751.8" stroke="#ff0000" stroke-dasharray="19.1 15.5 0.01 15.5" stroke-dashoffset="7.62"/>
<path d="M552.1,753.2 L552.4,751.8 L552.7,750.3 L553.1,748.8 L553.4,747.4 L553.7,745.9 L554.1,744.4 L554.4,743.0 L554.7,741.5 L555.1,740.1 L555.4,738.6 L555.7,737.1 L556.1,735.7 L556.4,734.2 L556.7,732.8 L557.1,731.3 L557.4,729.8 L557.7,728.4 L558.1,726.9 L558.4,725.4 L558.7,724.0 L559.0,722.5 L559.4,721.0 L559.7,719.6 L560.0,718.1 L560.3,716.7 L560.7,715.2 L561.0,713.7 L561.3,712.3 L561.6,710.8 L562.0,709.3 L562.3,707.9 L562.6,706.4 L562.9,704.9 L563.3,703.5 L563.6,702.0" stroke="#ff0000" stroke-dasharray="19.1 15.5 0.01 15.5" stroke-dashoffset="9.11"/>
<path d="M563.3,703.5 L563.6,702.0 L563.9,700.5 L564.2,699.1 L564.5,697.6 L564.9,696.2 L565.2,694.7 L565.5,693.2 L565.8,691.8 L566.1,690.3 L566.5,688.8 L566.8,687.4 L567.1,685.9 L567.4,684.4 L567.7,683.0 L568.0,681.5 L568.4,680.0 L568.7,678.6 L569.0,677.1 L569.3,675.6 L569.6,674.2 L569.9,672.7 L570.3,671.2 L570.6,669.8 L570.9,668.3 L571.2,666.8 L571.5,665.4 L571.8,663.9 L572.1,662.4 L572.4,661.0 L572.8,659.5 L573.1,658.0 L573.4,656.6 L573.7,655.1 L574.0,653.6" stroke="#ff0000" stroke-dasharray="19.1 15.5 0.01 15.5" stroke-dashoffset="9.10"/>
<path d="M573.7,655.1 L574.0,653.6 L574.3,652.2 L574.6,650.7 L574.9,649.2 L575.2,647.7 L575.6,646.3 L575.9,644.8 L576.2,643.3 L576.5,641.9 L576.8,640.4 L577.1,638.9 L577.4,637.5 L577.7,636.0 L578.0,634.5 L578.3,633.1 L578.6,631.6 L578.9,630.1 L579.2,628.7 L579.5,627.2 L579.8,625.7 L580.2,624.2 L580.5,622.8 L580.8,621.3 L581.1,619.8 L581.4,618.4 L581.7,616.9 L582.0,615.4 L582.3,614.0 L582.6,612.5 L582.9,611.0 L583.2,609.5 L583.5,608.1 L583.8,606.6 L584.1,605.1 L584.4,603.7" stroke="#ff0000" stroke-dasharray="19.1 15.5 0.01 15.5" stroke-dashoffset="9.09"/>
<path d="M584.1,605.1 L584.4,603.7 L584.7,602.2 L585.0,600.7 L585.3,599.3 L585.6,597.8 L585.9,596.3 L586.2,594.8 L586.5,593.4 L586.8,591.9 L587.1,590.4 L587.4,589.0 L587.7,587.5 L588.0,586.0 L588.3,584.5 L588.6,583.1 L588.9,581.6 L589.2,580.1 L589.5,578.7 L589.8,577.2 L590.1,575.7 L590.4,574.3 L590.7,572.8 L591.0,571.3 L591.3,569.8 L591.6,568.4 L591.9,566.9 L592.2,565.4 L592.5,564.0 L592.8,562.5 L593.1,561.0 L593.4,559.5 L593.7,558.1 L594.0,556.6 L594.2,555.1 L594.5,553.7" stroke="#ff0000" stroke-dasharray="19.1 15.5 0.01 15.5" stroke-dashoffset="9.08"/>
<path d="M594.2,555.1 L594.5,553.7 L594.8,552.2 L595.1,550.7 L595.4,549.2 L595.7,547.8 L596.0,546.3 L596.3,544.8 L596.6,543.3 L596.9,541.9 L597.2,540.4 L597.5,538.9 L597.8,537.5 L598.1,536.0 L598.4,534.5 L598.7,533.0 L599.0,531.6 L599.3,530.1 L599.6,528.6 L599.9,527.2 L600.2,525.7 L600.5,524.2 L600.8,522.7 L601.1,521.3 L601.4,519.8 L601.7,518.3 L602.0,516.9 L602.3,515.4 L602.5,513.9 L602.8,512.4 L603.1,511.0 L603.4,509.5 L603.7,508.0 L604.0,506.6 L604.3,505.1" stroke="#ff0000" stroke-dasharray="19.1 15.5 0.01 15.5" stroke-dashoffset="9.08"/>
<path d="M604.0,506.6 L604.3,505.1 L604.6,503.6 L604.9,502.1 L605.2,500.7 L605.5,499.2 L605.8,497.7 L606.1,496.3 L606.4,494.8 L606.7,493.3 L607.0,491.8 L607.3,490.4 L607.6,488.9 L607.9,487.4 L608.2,486.0 L608.5,484.5 L608.8,483.0 L609.1,481.5 L609.4,480.1 L609.7,478.6 L610.0,477.1 L610.3,475.7 L610.6,474.2 L610.9,472.7 L611.2,471.2 L611.5,469.8 L611.8,468.3 L612.1,466.8 L612.4,465.4 L612.7,463.9 L613.0,462.4 L613.3,460.9 L613.6,459.5 L613.9,458.0 L614.2,456.5" stroke="#ff0000" stroke-dasharray="19.1 15.5 0.01 15.5" stroke-dashoffset="9.08"/>
<path d="M613.9,458.0 L614.2,456.5 L614.5,455.1 L614.8,453.6 L615.1,452.1 L615.4,450.7 L615.7,449.2 L616.0,447.7 L616.3,446.2 L616.6,444.8 L616.9,443.3 L617.2,441.8 L617.5,440.4 L617.8,438.9 L618.1,437.4 L618.4,436.0 L618.7,434.5 L619.0,433.0 L619.3,431.5 L619.6,430.1 L619.9,428.6 L620.2,427.1 L620.5,425.7 L620.9,424.2 L621.2,422.7 L621.5,421.3 L621.8,419.8 L622.1,418.3 L622.4,416.9 L622.7,415.4 L623.0,413.9 L623.3,412.5 L623.6,411.0 L623.9,409.5 L624.2,408.0 L624.5,406.6" stroke="#ff0000" stroke-dasharray="19.1 15.5 0.01 15.5" stroke-dashoffset="7.58"/>
<path d="M624.2,408.0 L624.5,406.6 L624.9,405.1 L625.2,403.6 L625.5,402.2 L625.8,400.7 L626.1,399.2 L626.4,397.8 L626.7,396.3 L627.0,394.8 L627.4,393.4 L627.7,391.9 L628.0,390.4 L628.3,389.0 L628.6,387.5 L628.9,386.0 L629.2,384.6 L629.6,383.1 L629.9,381.6 L630.2,380.2 L630.5,378.7 L630.8,377.2 L631.1,375.8 L631.5,374.3 L631.8,372.8 L632.1,371.4 L632.4,369.9 L632.7,368.4 L633.0,367.0 L633.4,365.5 L633.7,364.0 L634.0,362.6 L634.3,361.1 L634.7,359.7 L635.0,358.2" stroke="#ff0000" stroke-dasharray="19.1 15.5 0.01 15.5" stroke-dashoffset="9.10"/>
<path d="M634.7,359.7 L635.0,358.2 L635.3,356.7 L635.6,355.3 L635.9,353.8 L636.3,352.3 L636.6,350.9 L636.9,349.4 L637.2,347.9 L637.6,346.5 L637.9,345.0 L638.2,343.6 L638.6,342.1 L638.9,340.6 L639.2,339.2 L639.5,337.7 L639.9,336.2 L640.2,334.8 L640.5,333.3 L640.9,331.9 L641.2,330.4 L641.5,328.9 L641.9,327.5 L642.2,326.0 L642.5,324.5 L642.9,323.1 L643.2,321.6 L643.5,320.2 L643.9,318.7 L644.2,317.2 L644.6,315.8 L644.9,314.3 L645.2,312.9 L645.6,311.4 L645.9,309.9 L646.3,308.5" stroke="#ff0000" stroke-dasharray="19.1 15.5 0.01 15.5" stroke-dashoffset="7.61"/>
<path d="M645.9,309.9 L646.3,308.5 L646.6,307.0 L646.9,305.6 L647.3,304.1 L647.6,302.6 L648.0,301.2 L648.3,299.7 L648.7,298.3 L649.0,296.8 L649.4,295.4 L649.7,293.9 L650.1,292.4 L650.4,291.0 L650.8,289.5 L651.1,288.1 L651.5,286.6 L651.8,285.2 L652.2,283.7 L652.5,282.2 L652.9,280.8 L653.3,279.3 L653.6,277.9 L654.0,276.4 L654.3,275.0 L654.7,273.5 L655.1,272.1 L655.4,270.6 L655.8,269.1 L656.2,267.7 L656.5,266.2 L656.9,264.8 L657.3,263.3 L657.6,261.9 L658.0,260.4 L658.4,259.0" stroke="#ff0000" stroke-dasharray="19.1 15.5 0.01 15.5" stroke-dashoffset="7.62"/>
<path d="M658.0,260.4 L658.4,259.0 L658.8,257.5 L659.1,256.1 L659.5,254.6 L659.9,253.2 L660.3,251.7 L660.6,250.3 L661.0,248.8 L661.4,247.4 L661.8,245.9 L662.2,244.5 L662.6,243.0 L662.9,241.6 L663.3,240.1 L663.7,238.7 L664.1,237.2 L664.5,235.8 L664.9,234.3 L665.3,232.9 L665.7,231.4 L666.1,230.0 L666.5,228.5 L666.9,227.1 L667.3,225.6 L667.7,224.2 L668.1,222.8 L668.5,221.3 L668.9,219.9 L669.3,218.4 L669.7,217.0 L670.1,215.5 L670.5,214.1 L671.0,212.6 L671.4,211.2 L671.8,209.8" stroke="#ff0000" stroke-dasharray="19.1 15.5 0.01 15.5" stroke-dashoffset="9.10"/>
<path d="M671.4,211.2 L671.8,209.8 L672.2,208.3 L672.6,206.9 L673.1,205.4 L673.5,204.0 L673.9,202.5 L674.3,201.1 L674.8,199.7 L675.2,198.2 L675.6,196.8 L676.1,195.3 L676.5,193.9 L676.9,192.5 L677.4,191.0 L677.8,189.6 L678.2,188.1 L678.7,186.7 L679.1,185.3 L679.6,183.8 L680.0,182.4 L680.5,181.0 L680.9,179.5 L681.4,178.1 L681.8,176.7 L682.3,175.2 L682.8,173.8 L683.2,172.3 L683.7,170.9 L684.1,169.5 L684.6,168.0 L685.1,166.6 L685.6,165.2 L686.0,163.7 L686.5,162.3" stroke="#ff0000" stroke-dasharray="19.1 15.5 0.01 15.5" stroke-dashoffset="9.04"/>
<path d="M686.0,163.7 L686.5,162.3 L687.0,160.9 L687.5,159.5 L687.9,158.0 L688.4,156.6 L688.9,155.2 L689.4,153.7 L689.9,152.3 L690.4,150.9 L690.9,149.4 L691.3,148.0 L691.8,146.6 L692.4,145.2 L692.9,143.8 L693.4,142.3 L693.9,140.9 L694.4,139.5 L694.9,138.1 L695.5,136.7 L696.0,135.3 L696.6,133.9 L697.1,132.5 L697.7,131.1 L698.3,129.7 L698.8,128.3 L699.4,126.9 L700.0,125.6 L700.6,124.2 L701.3,122.8 L701.9,121.5 L702.5,120.1 L703.2,118.8 L703.8,117.5 L704.5,116.1 L705.2,114.8 L705.9,113.5 L706.6,112.2 L707.4,110.9 L708.1,109.6 L708.9,108.3 L709.6,107.0 L710.4,105.8 L711.2,104.5 L712.0,103.3 L712.9,102.0 L713.7,100.8 L714.6,99.6" stroke="#ff0000" stroke-dasharray="19.1 15.5 0.01 15.5" stroke-dashoffset="8.94"/>
<path d="M713.7,100.8 L714.6,99.6 L715.5,98.4 L716.4,97.2 L717.3,96.0 L718.2,94.8 L719.2,93.7 L720.1,92.6 L721.1,91.4 L722.1,90.3 L723.2,89.2 L724.2,88.2 L725.3,87.1 L726.3,86.1" stroke="#ff0000" stroke-dasharray="19.1 15.5 0.01 15.5" stroke-dashoffset="45.61"/>
<path d="M725.3,87.1 L726.3,86.1 L727.4,85.1 L728.5,84.1 L729.7,83.2 L730.8,82.3 L732.0,81.4 L733.2,80.5 L734.4,79.6 L735.6,78.8 L736.8,78.0 L738.1,77.3 L739.4,76.6 L740.7,75.9 L742.0,75.2 L743.3,74.6 L744.6,74.0 L746.0,73.5 L747.4,72.9 L748.8,72.5 L750.2,72.0 L751.6,71.6 L753.1,71.3 L754.6,71.0 L756.1,70.7 L757.6,70.5 L759.1,70.3 L760.7,70.2 L762.2,70.1 L763.8,70.1 L765.4,70.1" stroke="#ff0000" stroke-dasharray="19.1 15.5 0.01 15.5" stroke-dashoffset="15.46"/>
<path d="M763.8,70.1 L765.4,70.1 L767.1,70.2 L768.7,70.3 L770.4,70.5 L772.0,70.7 L773.6,71.0 L775.2,71.3 L776.8,71.8 L778.2,72.3 L779.6,72.9 L780.9,73.6 L782.0,74.4 L783.0,75.2 L784.0,76.2 L784.8,77.2 L785.7,78.2 L786.5,79.2 L787.4,80.2 L788.4,81.2 L789.4,82.2 L790.5,83.1 L791.7,84.0 L792.9,84.9 L794.2,85.8 L795.5,86.7 L796.7,87.6 L798.0,88.4 L799.3,89.3 L800.6,90.2 L801.9,91.1 L803.2,92.0 L804.4,92.9 L805.6,93.8 L806.8,94.7 L808.0,95.7" stroke="#ff0000" stroke-dasharray="19.1 15.5 0.01 15.5" stroke-dashoffset="7.62"/>
<path d="M806.8,94.7 L808.0,95.7 L809.2,96.6 L810.4,97.6 L811.6,98.5 L812.7,99.5 L813.9,100.5 L815.0,101.4 L816.1,102.4 L817.2,103.4 L818.3,104.4 L819.4,105.4 L820.5,106.4 L821.6,107.4 L822.7,108.5 L823.8,109.5 L824.9,110.5 L826.0,111.5 L827.0,112.5 L828.1,113.6 L829.2,114.6 L830.3,115.6 L831.3,116.7 L832.4,117.7 L833.5,118.8 L834.6,119.8 L835.6,120.8 L836.7,121.9 L837.8,122.9 L838.8,124.0 L839.9,125.0 L841.0,126.1 L842.0,127.1 L843.1,128.2 L844.1,129.3 L845.2,130.3" stroke="#ff0000" stroke-dasharray="19.1 15.5 0.01 15.5" stroke-dashoffset="7.65"/>
<path d="M844.1,129.3 L845.2,130.3 L846.2,131.4 L847.3,132.4 L848.4,133.5 L849.4,134.6 L850.5,135.7 L851.5,136.7 L852.5,137.8 L853.6,138.9 L854.6,140.0 L855.7,141.1 L856.7,142.1 L857.8,143.2 L858.8,144.3 L859.8,145.4 L860.9,146.5 L861.9,147.6 L862.9,148.7 L863.9,149.8 L865.0,150.9 L866.0,152.0 L867.0,153.1 L868.0,154.2 L869.0,155.3 L870.1,156.4 L871.1,157.6 L872.1,158.7 L873.1,159.8 L874.1,160.9 L875.1,162.0 L876.1,163.2 L877.1,164.3 L878.1,165.4 L879.1,166.5" stroke="#ff0000" stroke-dasharray="19.1 15.5 0.01 15.5" stroke-dashoffset="9.08"/>
<path d="M878.1,165.4 L879.1,166.5 L880.1,167.7 L881.1,168.8 L882.1,169.9 L883.1,171.0 L884.2,172.1 L885.2,173.2 L886.2,174.4 L887.2,175.5 L888.2,176.6 L889.2,177.7 L890.3,178.8 L891.3,179.9 L892.3,180.9 L893.4,182.0 L894.4,183.1 L895.5,184.1 L896.5,185.2 L897.6,186.3 L898.7,187.3 L899.7,188.3 L900.8,189.4 L901.9,190.4 L903.0,191.4 L904.1,192.4 L905.3,193.3 L906.4,194.3 L907.5,195.3 L908.7,196.2 L909.8,197.2 L911.0,198.1 L912.2,199.0 L913.4,199.9 L914.6,200.8 L915.8,201.7 L917.0,202.6" stroke="#ff0000" stroke-dasharray="19.1 15.5 0.01 15.5" stroke-dashoffset="7.56"/>
<path d="M915.8,201.7 L917.0,202.6 L918.2,203.4 L919.4,204.3 L920.7,205.1 L921.9,206.0 L923.2,206.8 L924.4,207.6 L925.7,208.4 L926.9,209.3 L928.2,210.1 L929.5,210.9 L930.7,211.6 L932.0,212.4 L933.3,213.2 L934.6,214.0 L935.9,214.7 L937.2,215.5 L938.5,216.3 L939.8,217.0 L941.1,217.8 L942.4,218.5 L943.7,219.3 L945.0,220.0 L946.3,220.7 L947.6,221.5 L948.9,222.2 L950.2,222.9 L951.5,223.7 L952.9,224.4 L954.2,225.1 L955.5,225.8 L956.8,226.5 L958.1,227.2 L959.5,227.9 L960.8,228.6" stroke="#ff0000" stroke-dasharray="19.1 15.5 0.01 15.5" stroke-dashoffset="7.62"/>
<path d="M959.5,227.9 L960.8,228.6 L962.1,229.4 L963.4,230.1 L964.8,230.8 L966.1,231.5 L967.4,232.2 L968.7,232.9 L970.1,233.5 L971.4,234.2 L972.7,234.9 L974.1,235.6 L975.4,236.3 L976.7,237.0 L978.1,237.7 L979.4,238.4 L980.7,239.1 L982.1,239.8 L983.4,240.5 L984.7,241.2 L986.0,241.8 L987.4,242.5 L988.7,243.2 L990.0,243.9 L991.4,244.6 L992.7,245.3 L994.0,246.0 L995.4,246.7 L996.7,247.4 L998.0,248.1 L999.3,248.8 L1000.7,249.5 L1002.0,250.2 L1003.3,250.9 L1004.7,251.6 L1006.0,252.3" stroke="#ff0000" stroke-dasharray="19.1 15.5 0.01 15.5" stroke-dashoffset="9.09"/>
<path d="M1004.7,251.6 L1006.0,252.3 L1007.3,253.0 L1008.6,253.7 L1009.9,254.4 L1011.3,255.1 L1012.6,255.9 L1013.9,256.6 L1015.2,257.3 L1016.5,258.0 L1017.9,258.7 L1019.2,259.4 L1020.5,260.2 L1021.8,260.9 L1023.1,261.6 L1024.4,262.3 L1025.8,263.0 L1027.1,263.8 L1028.4,264.5 L1029.7,265.2 L1031.0,265.9 L1032.3,266.7 L1033.6,267.4 L1035.0,268.1 L1036.3,268.8 L1037.6,269.6 L1038.9,270.3 L1040.2,271.0 L1041.5,271.8 L1042.8,272.5 L1044.1,273.2 L1045.4,274.0 L1046.7,274.7 L1048.1,275.4 L1049.4,276.2 L1050.7,276.9" stroke="#ff0000" stroke-dasharray="19.1 15.5 0.01 15.5" stroke-dashoffset="7.59"/>
<path d="M1049.4,276.2 L1050.7,276.9 L1052.0,277.6 L1053.3,278.4 L1054.6,279.1 L1055.9,279.9 L1057.2,280.6 L1058.5,281.3 L1059.8,282.1 L1061.1,282.8 L1062.4,283.5 L1063.7,284.3 L1065.0,285.0 L1066.4,285.8 L1067.7,286.5 L1069.0,287.2 L1070.3,288.0 L1071.6,288.7 L1072.9,289.5 L1074.2,290.2 L1075.5,290.9 L1076.8,291.7 L1078.1,292.4 L1079.4,293.2 L1080.7,293.9 L1082.0,294.6 L1083.3,295.4 L1084.6,296.1 L1085.9,296.9 L1087.2,297.6 L1088.6,298.3 L1089.9,299.1 L1091.2,299.8 L1092.5,300.5 L1093.8,301.3" stroke="#ff0000" stroke-dasharray="19.1 15.5 0.01 15.5" stroke-dashoffset="9.09"/>
<path d="M1092.5,300.5 L1093.8,301.3 L1095.1,302.0 L1096.4,302.8 L1097.7,303.5 L1099.0,304.2 L1100.3,305.0 L1101.6,305.7 L1102.9,306.4 L1104.2,307.2 L1105.5,307.9 L1106.9,308.6 L1108.2,309.4 L1109.5,310.1 L1110.8,310.8 L1112.1,311.5 L1113.4,312.3 L1114.7,313.0 L1116.0,313.7 L1117.3,314.5 L1118.7,315.2 L1120.0,315.9 L1121.3,316.6 L1122.6,317.4 L1123.9,318.1 L1125.2,318.8 L1126.5,319.5 L1127.9,320.2 L1129.2,321.0 L1130.5,321.7 L1131.8,322.4 L1133.1,323.1 L1134.4,323.8 L1135.8,324.5 L1137.1,325.3" stroke="#ff0000" stroke-dasharray="19.1 15.5 0.01 15.5" stroke-dashoffset="9.10"/>
<path d="M1135.8,324.5 L1137.1,325.3 L1138.4,326.0 L1139.7,326.7 L1141.0,327.4 L1142.4,328.1 L1143.7,328.8 L1145.0,329.5 L1146.3,330.2 L1147.6,331.0 L1149.0,331.7 L1150.3,332.4 L1151.6,333.1 L1152.9,333.8 L1154.2,334.5 L1155.6,335.2 L1156.9,335.9 L1158.2,336.6 L1159.5,337.4 L1160.8,338.1 L1162.2,338.8 L1163.5,339.5 L1164.8,340.2 L1166.1,340.9" stroke="#ff0000" stroke-dasharray="19.1 15.5 0.01 15.5" stroke-dashoffset="7.61"/>
<path d="M1164.8,340.2 L1166.1,340.9 L1167.4,341.6 L1168.7,342.4 L1170.1,343.1 L1171.4,343.8 L1172.7,344.5 L1174.0,345.2 L1175.3,346.0 L1176.6,346.7 L1177.9,347.4 L1179.3,348.1 L1180.6,348.9 L1181.9,349.6 L1183.2,350.3 L1184.5,351.1 L1185.8,351.8 L1187.1,352.5 L1188.4,353.3 L1189.7,354.0 L1191.0,354.7 L1192.3,355.5" stroke="#ff0000" stroke-dasharray="19.1 15.5 0.01 15.5" stroke-dashoffset="38.10"/>
<path d="M1191.0,354.7 L1192.3,355.5 L1193.6,356.2 L1194.9,357.0 L1196.2,357.7 L1197.5,358.5 L1198.8,359.2 L1200.1,360.0 L1201.4,360.8 L1202.7,361.5 L1204.0,362.3 L1205.3,363.1 L1206.5,363.8 L1207.8,364.6" stroke="#ff0000" stroke-dasharray="19.1 15.5 0.01 15.5" stroke-dashoffset="45.60"/>
<path d="M1206.5,363.8 L1207.8,364.6 L1209.1,365.4 L1210.4,366.2 L1211.7,366.9 L1212.9,367.7 L1214.2,368.5 L1215.5,369.3 L1216.8,370.1 L1218.0,370.9 L1219.3,371.7 L1220.5,372.5 L1221.8,373.3 L1223.1,374.2 L1224.3,375.0 L1225.6,375.8 L1226.8,376.6 L1228.0,377.5 L1229.3,378.3 L1230.5,379.2 L1231.7,380.0 L1233.0,380.9 L1234.2,381.7 L1235.4,382.6 L1236.6,383.4 L1237.9,384.3 L1239.1,385.2 L1240.3,386.1 L1241.5,387.0" stroke="#ff0000" stroke-dasharray="19.1 15.5 0.01 15.5" stroke-dashoffset="15.13"/>
<path d="M1240.3,386.1 L1241.5,387.0 L1242.7,387.8 L1243.9,388.7 L1245.1,389.6 L1246.3,390.5 L1247.5,391.5 L1248.6,392.4 L1249.8,393.3 L1251.0,394.2 L1252.1,395.2 L1253.3,396.1 L1254.5,397.1 L1255.6,398.0 L1256.8,399.0 L1257.9,399.9 L1259.1,400.9 L1260.2,401.9 L1261.3,402.9 L1262.4,403.9 L1263.6,404.9 L1264.7,405.9 L1265.8,406.9 L1266.9,407.9 L1268.0,408.9 L1269.1,410.0 L1270.2,411.0 L1271.3,412.0 L1272.3,413.1 L1273.4,414.1 L1274.5,415.2 L1275.6,416.2" stroke="#ff0000" stroke-dasharray="19.1 15.5 0.01 15.5" stroke-dashoffset="12.16"/>
<path d="M1274.5,415.2 L1275.6,416.2 L1276.6,417.3 L1277.7,418.4 L1278.7,419.5 L1279.8,420.5 L1280.8,421.6 L1281.8,422.7 L1282.9,423.8 L1283.9,424.9 L1284.9,426.0 L1285.9,427.2 L1286.9,428.3 L1287.9,429.4 L1288.9,430.5 L1289.9,431.7 L1290.9,432.8 L1291.9,434.0 L1292.8,435.1 L1293.8,436.3 L1294.8,437.4 L1295.7,438.6 L1296.7,439.8 L1297.6,440.9 L1298.5,442.1 L1299.5,443.3 L1300.4,444.5 L1301.3,445.7 L1302.2,446.9 L1303.2,448.1 L1304.1,449.3 L1305.0,450.5 L1305.8,451.7 L1306.7,452.9 L1307.6,454.1" stroke="#ff0000" stroke-dasharray="19.1 15.5 0.01 15.5" stroke-dashoffset="12.02"/>
<path d="M1306.7,452.9 L1307.6,454.1 L1308.5,455.4 L1309.4,456.6 L1310.2,457.8 L1311.1,459.1 L1311.9,460.3 L1312.8,461.5 L1313.6,462.8 L1314.4,464.0 L1315.3,465.3 L1316.1,466.5 L1316.9,467.8 L1317.7,469.1 L1318.5,470.3 L1319.3,471.6 L1320.1,472.9 L1320.9,474.2 L1321.6,475.4 L1322.4,476.7 L1323.2,478.0 L1323.9,479.3 L1324.7,480.6 L1325.5,481.9 L1326.2,483.2 L1326.9,484.5 L1327.7,485.8 L1328.4,487.1 L1329.1,488.4 L1329.9,489.7 L1330.6,491.0 L1331.3,492.4 L1332.0,493.7 L1332.7,495.0 L1333.4,496.3 L1334.1,497.6 L1334.8,499.0 L1335.5,500.3 L1336.2,501.6 L1336.8,503.0 L1337.5,504.3 L1338.2,505.7 L1338.8,507.0 L1339.5,508.3 L1340.2,509.7" stroke="#ff0000" stroke-dasharray="19.1 15.5 0.01 15.5" stroke-dashoffset="4.58"/>
<path d="M1339.5,508.3 L1340.2,509.7 L1340.8,511.0 L1341.5,512.4 L1342.1,513.7 L1342.8,515.1 L1343.4,516.4 L1344.1,517.8 L1344.7,519.1 L1345.3,520.5 L1346.0,521.9 L1346.6,523.2 L1347.2,524.6 L1347.8,526.0 L1348.5,527.3 L1349.1,528.7 L1349.7,530.1 L1350.3,531.4 L1350.9,532.8 L1351.5,534.2 L1352.1,535.5 L1352.7,536.9 L1353.3,538.3 L1353.9,539.7 L1354.5,541.0 L1355.1,542.4 L1355.7,543.8 L1356.3,545.2 L1356.9,546.5 L1357.5,547.9 L1358.1,549.3 L1358.7,550.7 L1359.3,552.1 L1359.9,553.4 L1360.5,554.8 L1361.0,556.2 L1361.6,557.6 L1362.2,559.0 L1362.8,560.4 L1363.4,561.7 L1363.9,563.1 L1364.5,564.5 L1365.1,565.9" stroke="#ff0000" stroke-dasharray="19.1 15.5 0.01 15.5" stroke-dashoffset="48.71"/>
<path d="M1364.5,564.5 L1365.1,565.9 L1365.6,567.3 L1366.2,568.7 L1366.8,570.1 L1367.4,571.5 L1367.9,572.8 L1368.5,574.2 L1369.0,575.6 L1369.6,577.0 L1370.2,578.4 L1370.7,579.8 L1371.3,581.2 L1371.8,582.6 L1372.4,584.0 L1372.9,585.4 L1373.5,586.8 L1374.0,588.2 L1374.6,589.6 L1375.1,591.0 L1375.7,592.4 L1376.2,593.8 L1376.8,595.2 L1377.3,596.6 L1377.9,598.0 L1378.4,599.4 L1379.0,600.8 L1379.5,602.2 L1380.0,603.6 L1380.6,605.0 L1381.1,606.4 L1381.6,607.8 L1382.2,609.2 L1382.7,610.6 L1383.2,612.0 L1383.8,613.4 L1384.3,614.8" stroke="#ff0000" stroke-dasharray="19.1 15.5 0.01 15.5" stroke-dashoffset="7.59"/>
<path d="M1383.8,613.4 L1384.3,614.8 L1384.8,616.2 L1385.3,617.6 L1385.9,619.0 L1386.4,620.4 L1386.9,621.8 L1387.4,623.2 L1388.0,624.6 L1388.5,626.0 L1389.0,627.5 L1389.5,628.9 L1390.0,630.3 L1390.6,631.7 L1391.1,633.1 L1391.6,634.5 L1392.1,635.9 L1392.6,637.3 L1393.1,638.7 L1393.6,640.1 L1394.1,641.6 L1394.7,643.0 L1395.2,644.4 L1395.7,645.8 L1396.2,647.2 L1396.7,648.6 L1397.2,650.0 L1397.7,651.4 L1398.2,652.9 L1398.7,654.3 L1399.2,655.7 L1399.7,657.1 L1400.2,658.5 L1400.7,659.9 L1401.2,661.3" stroke="#ff0000" stroke-dasharray="19.1 15.5 0.01 15.5" stroke-dashoffset="9.08"/>
<path d="M1400.7,659.9 L1401.2,661.3 L1401.7,662.8 L1402.2,664.2 L1402.7,665.6 L1403.2,667.0 L1403.7,668.4 L1404.2,669.8 L1404.7,671.3 L1405.2,672.7 L1405.7,674.1 L1406.2,675.5 L1406.7,676.9 L1407.2,678.4 L1407.7,679.8 L1408.1,681.2 L1408.6,682.6 L1409.1,684.0 L1409.6,685.4 L1410.1,686.9 L1410.6,688.3 L1411.1,689.7 L1411.6,691.1 L1412.0,692.5 L1412.5,694.0 L1413.0,695.4 L1413.5,696.8 L1414.0,698.2 L1414.5,699.7 L1414.9,701.1 L1415.4,702.5 L1415.9,703.9 L1416.3,705.3 L1416.8,706.8 L1417.3,708.2" stroke="#ff0000" stroke-dasharray="19.1 15.5 0.01 15.5" stroke-dashoffset="9.08"/>
<path d="M1416.8,706.8 L1417.3,708.2 L1417.7,709.6 L1418.2,711.0 L1418.7,712.5 L1419.1,713.9 L1419.6,715.3 L1420.0,716.8 L1420.5,718.2 L1420.9,719.6 L1421.4,721.0 L1421.8,722.5 L1422.2,723.9 L1422.7,725.3 L1423.1,726.8 L1423.5,728.2 L1423.9,729.7 L1424.3,731.1 L1424.8,732.5 L1425.2,734.0 L1425.6,735.4 L1426.0,736.9 L1426.4,738.3 L1426.8,739.7 L1427.1,741.2 L1427.5,742.6 L1427.9,744.1 L1428.3,745.5 L1428.6,747.0 L1429.0,748.4 L1429.3,749.9 L1429.7,751.3 L1430.0,752.8 L1430.4,754.3 L1430.7,755.7" stroke="#ff0000" stroke-dasharray="19.1 15.5 0.01 15.5" stroke-dashoffset="9.13"/>
<path d="M1430.4,754.3 L1430.7,755.7 L1431.0,757.2 L1431.4,758.6 L1431.7,760.1 L1432.0,761.6 L1432.3,763.0 L1432.6,764.5 L1432.9,766.0 L1433.2,767.4 L1433.4,768.9 L1433.7,770.4 L1434.0,771.9 L1434.2,773.3 L1434.5,774.8 L1434.7,776.3 L1435.0,777.8 L1435.2,779.3 L1435.4,780.7 L1435.7,782.2 L1435.9,783.7 L1436.1,785.2 L1436.3,786.7 L1436.5,788.2 L1436.7,789.7 L1436.9,791.1 L1437.1,792.6 L1437.3,794.1 L1437.5,795.6 L1437.7,797.1 L1437.9,798.6 L1438.0,800.1 L1438.2,801.6 L1438.4,803.1 L1438.6,804.6" stroke="#ff0000" stroke-dasharray="19.1 15.5 0.01 15.5" stroke-dashoffset="9.13"/>
<path d="M1438.4,803.1 L1438.6,804.6 L1438.7,806.1 L1438.9,807.6 L1439.0,809.1 L1439.2,810.6 L1439.4,812.1 L1439.5,813.6 L1439.7,815.1 L1439.8,816.6 L1440.0,818.1 L1440.1,819.6 L1440.2,821.1 L1440.4,822.6 L1440.5,824.1 L1440.7,825.6 L1440.8,827.1 L1441.0,828.6 L1441.1,830.1 L1441.2,831.6 L1441.4,833.1 L1441.5,834.6 L1441.6,836.1 L1441.8,837.5 L1441.9,839.0 L1442.0,840.5 L1442.2,842.0 L1442.3,843.5 L1442.4,845.0 L1442.6,846.5 L1442.7,848.0 L1442.8,849.5 L1443.0,851.0 L1443.1,852.5 L1443.2,854.0" stroke="#ff0000" stroke-dasharray="19.1 15.5 0.01 15.5" stroke-dashoffset="9.00"/>
<path d="M1443.1,852.5 L1443.2,854.0 L1443.4,855.5 L1443.5,857.0 L1443.6,858.5 L1443.7,860.0 L1443.9,861.5 L1444.0,863.0 L1444.1,864.5 L1444.2,865.9 L1444.4,867.4 L1444.5,868.9 L1444.6,870.4 L1444.7,871.9 L1444.9,873.4 L1445.0,874.9 L1445.1,876.4 L1445.2,877.9 L1445.3,879.4 L1445.5,880.9 L1445.6,882.4 L1445.7,883.9 L1445.8,885.4 L1445.9,886.9 L1446.0,888.3 L1446.2,889.8 L1446.3,891.3 L1446.4,892.8 L1446.5,894.3 L1446.6,895.8 L1446.7,897.3 L1446.8,898.8 L1446.9,900.3 L1447.1,901.8 L1447.2,903.3 L1447.3,904.8 L1447.4,906.3" stroke="#ff0000" stroke-dasharray="19.1 15.5 0.01 15.5" stroke-dashoffset="7.62"/>
<path d="M1447.3,904.8 L1447.4,906.3 L1447.5,907.8 L1447.6,909.3 L1447.7,910.7 L1447.8,912.2 L1447.9,913.7 L1448.0,915.2 L1448.1,916.7 L1448.2,918.2 L1448.3,919.7 L1448.4,921.2 L1448.5,922.7 L1448.6,924.2 L1448.7,925.7 L1448.8,927.2 L1448.9,928.7 L1449.0,930.2 L1449.1,931.7 L1449.2,933.2 L1449.3,934.7 L1449.4,936.2 L1449.5,937.7 L1449.6,939.2 L1449.7,940.7 L1449.7,942.2 L1449.8,943.7 L1449.9,945.2 L1450.0,946.7 L1450.1,948.2 L1450.2,949.7 L1450.3,951.2 L1450.4,952.7 L1450.4,954.2 L1450.5,955.7 L1450.6,957.2 L1450.7,958.7 L1450.8,960.2 L1450.9,961.7 L1450.9,963.2 L1451.0,964.7 L1451.1,966.2" stroke="#ff0000" stroke-dasharray="19.1 15.5 0.01 15.5" stroke-dashoffset="9.12"/>
<path d="M270.6,297.2 L272.0,296.9 L273.5,296.7 L274.9,296.4 L276.4,296.2 L277.8,295.9 L279.3,295.7 L280.8,295.4 L282.2,295.2 L283.7,294.9 L285.1,294.7 L286.6,294.4 L288.1,294.2 L289.5,294.0 L291.0,293.7 L292.5,293.5 L293.9,293.3 L295.4,293.1 L296.9,292.8 L298.4,292.6 L299.8,292.4 L301.3,292.2 L302.8,292.0 L304.3,291.7 L305.8,291.5 L307.2,291.3 L308.7,291.1 L310.2,290.9 L311.7,290.7 L313.2,290.5 L314.7,290.3 L316.2,290.1" stroke="#0000ff" stroke-dasharray="26.5 37" stroke-dashoffset="63.36"/>
<path d="M314.7,290.3 L316.2,290.1 L317.7,289.9 L319.1,289.7 L320.6,289.5 L322.1,289.3 L323.6,289.1 L325.1,288.9 L326.6,288.7 L328.1,288.5 L329.6,288.3 L331.1,288.1 L332.6,287.9 L334.1,287.7 L335.6,287.5 L337.1,287.3 L338.6,287.1 L340.1,286.9 L341.6,286.7 L343.1,286.5 L344.6,286.3 L346.1,286.1 L347.6,285.9" stroke="#0000ff" stroke-dasharray="26.5 37" stroke-dashoffset="43.92"/>
<path d="M346.1,286.1 L347.6,285.9 L349.1,285.7 L350.6,285.5 L352.1,285.3 L353.6,285.1 L355.1,284.9 L356.6,284.7 L358.1,284.5 L359.6,284.3 L361.1,284.1 L362.7,283.9 L364.2,283.7 L365.7,283.5 L367.2,283.3 L368.7,283.1 L370.2,282.9 L371.7,282.7 L373.2,282.5 L374.7,282.2 L376.2,282.0 L377.7,281.8 L379.2,281.6 L380.7,281.4" stroke="#0000ff" stroke-dasharray="26.5 37" stroke-dashoffset="12.81"/>
<path d="M379.2,281.6 L380.7,281.4 L382.2,281.1 L383.7,280.9 L385.2,280.7 L386.7,280.5 L388.2,280.2 L389.7,280.0 L391.2,279.8 L392.7,279.5 L394.2,279.3 L395.7,279.0 L397.2,278.8 L398.7,278.5 L400.2,278.3 L401.7,278.0 L403.1,277.8 L404.6,277.5 L406.1,277.3 L407.6,277.0 L409.1,276.7 L410.6,276.5" stroke="#0000ff" stroke-dasharray="26.5 37" stroke-dashoffset="42.30"/>
<path d="M409.1,276.7 L410.6,276.5 L412.1,276.2 L413.6,275.9 L415.0,275.6 L416.5,275.3 L418.0,275.0 L419.5,274.8 L421.0,274.5 L422.4,274.2 L423.9,273.9 L425.4,273.5 L426.9,273.2 L428.3,272.9 L429.8,272.6 L431.3,272.3 L432.7,272.0 L434.2,271.6 L435.7,271.3 L437.1,271.0 L438.6,270.6 L440.1,270.3" stroke="#0000ff" stroke-dasharray="26.5 37" stroke-dashoffset="14.41"/>
<path d="M438.6,270.6 L440.1,270.3 L441.5,269.9 L443.0,269.5 L444.4,269.2 L445.9,268.8 L447.3,268.4 L448.8,268.1 L450.2,267.7 L451.7,267.3 L453.1,266.9 L454.6,266.5 L456.0,266.1 L457.4,265.7 L458.9,265.3 L460.3,264.9 L461.7,264.4 L463.2,264.0 L464.6,263.6 L466.0,263.1 L467.4,262.7 L468.9,262.2 L470.3,261.8" stroke="#0000ff" stroke-dasharray="26.5 37" stroke-dashoffset="42.53"/>
<path d="M468.9,262.2 L470.3,261.8 L471.7,261.3 L473.1,260.9 L474.5,260.4 L475.9,259.9 L477.3,259.4 L478.7,258.9 L480.1,258.4 L481.5,257.9 L482.9,257.4 L484.3,256.9 L485.7,256.3 L487.1,255.8 L488.5,255.3 L489.8,254.7 L491.2,254.2" stroke="#0000ff" stroke-dasharray="26.5 37" stroke-dashoffset="13.14"/>
<path d="M489.8,254.7 L491.2,254.2 L492.6,253.6 L494.0,253.0 L495.3,252.5 L496.7,251.9 L498.1,251.3 L499.4,250.7 L500.8,250.1 L502.2,249.5 L503.5,248.9 L504.9,248.3 L506.2,247.7" stroke="#0000ff" stroke-dasharray="26.5 37" stroke-dashoffset="59.01"/>
<path d="M504.9,248.3 L506.2,247.7 L507.6,247.1 L508.9,246.4 L510.3,245.8 L511.6,245.2 L512.9,244.5 L514.3,243.9 L515.6,243.2 L517.0,242.6 L518.3,241.9 L519.6,241.2 L520.9,240.5 L522.3,239.9 L523.6,239.2 L524.9,238.5 L526.2,237.8 L527.6,237.1 L528.9,236.4 L530.2,235.7 L531.5,235.0 L532.8,234.3 L534.1,233.6" stroke="#0000ff" stroke-dasharray="26.5 37" stroke-dashoffset="13.13"/>
<path d="M532.8,234.3 L534.1,233.6 L535.4,232.8 L536.7,232.1 L538.1,231.4 L539.4,230.6 L540.7,229.9 L542.0,229.2 L543.3,228.4 L544.6,227.7 L545.9,226.9 L547.2,226.2 L548.4,225.4 L549.7,224.6 L551.0,223.9 L552.3,223.1 L553.6,222.3 L554.9,221.6 L556.2,220.8 L557.5,220.0 L558.8,219.2 L560.0,218.4 L561.3,217.6" stroke="#0000ff" stroke-dasharray="26.5 37" stroke-dashoffset="44.03"/>
<path d="M560.0,218.4 L561.3,217.6 L562.6,216.8 L563.9,216.1 L565.2,215.3 L566.4,214.5 L567.7,213.7 L569.0,212.9 L570.3,212.1 L571.5,211.2 L572.8,210.4 L574.1,209.6 L575.4,208.8 L576.6,208.0 L577.9,207.2 L579.2,206.4 L580.4,205.5 L581.7,204.7 L583.0,203.9 L584.2,203.1 L585.5,202.3 L586.8,201.4 L588.0,200.6" stroke="#0000ff" stroke-dasharray="26.5 37" stroke-dashoffset="14.43"/>
<path d="M586.8,201.4 L588.0,200.6 L589.3,199.8 L590.6,198.9 L591.8,198.1 L593.1,197.3 L594.4,196.5 L595.6,195.6 L596.9,194.8 L598.2,194.0 L599.4,193.1 L600.7,192.3 L601.9,191.4 L603.2,190.6 L604.5,189.8 L605.7,188.9 L607.0,188.1 L608.3,187.3 L609.5,186.4 L610.8,185.6 L612.0,184.8 L613.3,183.9" stroke="#0000ff" stroke-dasharray="26.5 37" stroke-dashoffset="42.34"/>
<path d="M612.0,184.8 L613.3,183.9 L614.6,183.1 L615.8,182.3 L617.1,181.4 L618.4,180.6 L619.6,179.8 L620.9,178.9 L622.2,178.1 L623.4,177.3 L624.7,176.4 L626.0,175.6 L627.2,174.8 L628.5,173.9 L629.7,173.1 L631.0,172.3 L632.3,171.5 L633.6,170.6 L634.8,169.8 L636.1,169.0 L637.4,168.2 L638.6,167.4 L639.9,166.6 L641.2,165.8" stroke="#0000ff" stroke-dasharray="26.5 37" stroke-dashoffset="14.36"/>
<path d="M639.9,166.6 L641.2,165.8 L642.4,164.9 L643.7,164.1 L645.0,163.3 L646.3,162.5 L647.5,161.7 L648.8,160.9 L650.1,160.1 L651.4,159.3 L652.7,158.5 L653.9,157.7 L655.2,157.0 L656.5,156.2 L657.8,155.4 L659.1,154.6 L660.4,153.8 L661.7,153.1 L662.9,152.3 L664.2,151.5 L665.5,150.8 L666.8,150.0 L668.1,149.2 L669.4,148.5" stroke="#0000ff" stroke-dasharray="26.5 37" stroke-dashoffset="40.91"/>
<path d="M668.1,149.2 L669.4,148.5 L670.7,147.7 L672.0,147.0 L673.3,146.2 L674.6,145.5 L675.9,144.7 L677.2,144.0 L678.5,143.2 L679.8,142.5 L681.1,141.8 L682.4,141.0 L683.7,140.3 L685.0,139.6 L686.3,138.9 L687.6,138.1 L688.9,137.4 L690.3,136.7 L691.6,136.0 L692.9,135.2 L694.2,134.5 L695.5,133.8 L696.8,133.1 L698.1,132.4" stroke="#0000ff" stroke-dasharray="26.5 37" stroke-dashoffset="14.52"/>
<path d="M696.8,133.1 L698.1,132.4 L699.4,131.7 L700.8,131.0 L702.1,130.3 L703.4,129.6 L704.7,128.9 L706.0,128.2 L707.3,127.5 L708.7,126.8 L710.0,126.1 L711.3,125.4 L712.6,124.7 L714.0,124.0 L715.3,123.3 L716.6,122.6 L717.9,121.9 L719.2,121.2 L720.6,120.5 L721.9,119.8 L723.2,119.1 L724.5,118.4 L725.9,117.8 L727.2,117.1 L728.5,116.4" stroke="#0000ff" stroke-dasharray="26.5 37" stroke-dashoffset="41.08"/>
<path d="M727.2,117.1 L728.5,116.4 L729.9,115.7 L731.2,115.0 L732.5,114.3 L733.8,113.6 L735.2,113.0 L736.5,112.3 L737.8,111.6 L739.1,110.9 L740.5,110.2 L741.8,109.5 L743.1,108.9 L744.5,108.2 L745.8,107.5 L747.1,106.8 L748.5,106.1 L749.8,105.4 L751.1,104.8 L752.4,104.1 L753.8,103.4 L755.1,102.7 L756.4,102.0" stroke="#0000ff" stroke-dasharray="26.5 37" stroke-dashoffset="14.56"/>
<path d="M755.1,102.7 L756.4,102.0 L757.8,101.3 L759.1,100.7 L760.4,100.0 L761.8,99.3 L763.1,98.6 L764.4,97.9 L765.7,97.2 L767.1,96.5 L768.4,95.8 L769.7,95.2 L771.1,94.5 L772.4,93.8 L773.7,93.1 L775.1,92.4 L776.4,91.7 L777.7,91.0 L779.0,90.3 L780.4,89.6 L781.7,88.9 L783.0,88.2 L784.4,87.5" stroke="#0000ff" stroke-dasharray="26.5 37" stroke-dashoffset="44.03"/>
<path d="M783.0,88.2 L784.4,87.5 L785.7,86.8 L787.0,86.1 L788.4,85.4 L789.7,84.7 L791.0,84.0 L792.4,83.4 L793.7,82.7 L795.0,82.0 L796.4,81.3 L797.7,80.6 L799.0,79.9 L800.4,79.2 L801.7,78.5 L803.1,77.9 L804.4,77.2 L805.8,76.5 L807.1,75.8 L808.4,75.2 L809.8,74.5 L811.1,73.8 L812.5,73.2" stroke="#0000ff" stroke-dasharray="26.5 37" stroke-dashoffset="14.48"/>
<path d="M811.1,73.8 L812.5,73.2 L813.8,72.5 L815.2,71.9 L816.6,71.2 L817.9,70.5 L819.3,69.9 L820.6,69.3 L822.0,68.6 L823.4,68.0 L824.7,67.3 L826.1,66.7 L827.5,66.1 L828.9,65.5 L830.2,64.8 L831.6,64.2 L833.0,63.6 L834.4,63.0 L835.8,62.4 L837.2,61.8 L838.5,61.2 L839.9,60.6 L841.3,60.1" stroke="#0000ff" stroke-dasharray="26.5 37" stroke-dashoffset="43.93"/>
<path d="M839.9,60.6 L841.3,60.1 L842.7,59.5 L844.1,58.9 L845.5,58.4 L847.0,57.8 L848.4,57.3 L849.8,56.7 L851.2,56.2 L852.6,55.6 L854.0,55.1 L855.5,54.6 L856.9,54.1 L858.3,53.6 L859.7,53.1 L861.2,52.6 L862.6,52.1 L864.0,51.6 L865.5,51.2 L866.9,50.7 L868.4,50.2 L869.8,49.8 L871.3,49.4" stroke="#0000ff" stroke-dasharray="26.5 37" stroke-dashoffset="14.36"/>
<path d="M869.8,49.8 L871.3,49.4 L872.7,48.9 L874.2,48.5 L875.6,48.1 L877.1,47.7 L878.5,47.3 L880.0,46.9 L881.4,46.5 L882.9,46.2 L884.4,45.8 L885.8,45.5 L887.3,45.1 L888.7,44.8 L890.2,44.5 L891.7,44.2 L893.2,43.9 L894.6,43.6 L896.1,43.3 L897.6,43.0 L899.1,42.8 L900.5,42.5 L902.0,42.3 L903.5,42.1" stroke="#0000ff" stroke-dasharray="26.5 37" stroke-dashoffset="40.90"/>
<path d="M902.0,42.3 L903.5,42.1 L905.0,41.9 L906.5,41.7 L907.9,41.5 L909.4,41.3 L910.9,41.1 L912.4,41.0 L913.9,40.9 L915.4,40.7 L916.8,40.6 L918.3,40.5 L919.8,40.4 L921.3,40.3 L922.8,40.3 L924.3,40.2 L925.8,40.2 L927.3,40.2 L928.8,40.1 L930.2,40.1 L931.7,40.1 L933.2,40.2 L934.7,40.2" stroke="#0000ff" stroke-dasharray="26.5 37" stroke-dashoffset="14.57"/>
<path d="M933.2,40.2 L934.7,40.2 L936.2,40.2 L937.7,40.3 L939.2,40.3 L940.7,40.4 L942.2,40.5 L943.7,40.6 L945.2,40.7 L946.6,40.8 L948.1,40.9 L949.6,41.1 L951.1,41.2 L952.6,41.4 L954.1,41.6 L955.6,41.7 L957.1,41.9 L958.5,42.1 L960.0,42.3 L961.5,42.6 L963.0,42.8 L964.5,43.0 L965.9,43.3" stroke="#0000ff" stroke-dasharray="26.5 37" stroke-dashoffset="44.08"/>
<path d="M964.5,43.0 L965.9,43.3 L967.4,43.5 L968.9,43.8 L970.4,44.1 L971.8,44.4 L973.3,44.7 L974.8,45.0 L976.3,45.3 L977.7,45.6 L979.2,46.0 L980.7,46.3 L982.1,46.7 L983.6,47.0 L985.0,47.4 L986.5,47.8 L988.0,48.1 L989.4,48.5 L990.9,48.9 L992.3,49.4 L993.8,49.8 L995.2,50.2 L996.6,50.6" stroke="#0000ff" stroke-dasharray="26.5 37" stroke-dashoffset="14.48"/>
<path d="M995.2,50.2 L996.6,50.6 L998.1,51.1 L999.5,51.5 L1001.0,52.0 L1002.4,52.5 L1003.8,53.0 L1005.2,53.4 L1006.7,53.9 L1008.1,54.4 L1009.5,54.9 L1010.9,55.4 L1012.3,56.0 L1013.7,56.5 L1015.2,57.0 L1016.6,57.6 L1018.0,58.1 L1019.4,58.7 L1020.8,59.2 L1022.2,59.8 L1023.5,60.4 L1024.9,61.0" stroke="#0000ff" stroke-dasharray="26.5 37" stroke-dashoffset="43.92"/>
<path d="M1023.5,60.4 L1024.9,61.0 L1026.3,61.6 L1027.7,62.1 L1029.1,62.7 L1030.5,63.3 L1031.8,64.0 L1033.2,64.6 L1034.6,65.2 L1036.0,65.8 L1037.3,66.4 L1038.7,67.1 L1040.0,67.7 L1041.4,68.4 L1042.8,69.0 L1044.1,69.7 L1045.5,70.3 L1046.8,71.0 L1048.2,71.6 L1049.5,72.3 L1050.9,73.0 L1052.2,73.6 L1053.6,74.3 L1054.9,75.0" stroke="#0000ff" stroke-dasharray="26.5 37" stroke-dashoffset="12.95"/>
<path d="M1053.6,74.3 L1054.9,75.0 L1056.3,75.7 L1057.6,76.4 L1059.0,77.0 L1060.3,77.7 L1061.6,78.4 L1063.0,79.1 L1064.3,79.8 L1065.6,80.5 L1067.0,81.2 L1068.3,81.9 L1069.6,82.6 L1071.0,83.3 L1072.3,84.0 L1073.6,84.7 L1075.0,85.4 L1076.3,86.1 L1077.6,86.9 L1079.0,87.6 L1080.3,88.3 L1081.6,89.0 L1083.0,89.7" stroke="#0000ff" stroke-dasharray="26.5 37" stroke-dashoffset="42.42"/>
<path d="M1081.6,89.0 L1083.0,89.7 L1084.3,90.4 L1085.6,91.1 L1086.9,91.8 L1088.3,92.5 L1089.6,93.2 L1090.9,93.9 L1092.3,94.6 L1093.6,95.3 L1094.9,96.1 L1096.2,96.8 L1097.6,97.5 L1098.9,98.2 L1100.2,98.8 L1101.6,99.5 L1102.9,100.2 L1104.2,100.9 L1105.6,101.6 L1106.9,102.3 L1108.2,103.0 L1109.6,103.7" stroke="#0000ff" stroke-dasharray="26.5 37" stroke-dashoffset="14.45"/>
<path d="M1108.2,103.0 L1109.6,103.7 L1110.9,104.3 L1112.2,105.0 L1113.6,105.7 L1114.9,106.4 L1116.3,107.0 L1117.6,107.7 L1118.9,108.3 L1120.3,109.0 L1121.6,109.6 L1123.0,110.3 L1124.3,110.9 L1125.7,111.6 L1127.0,112.2 L1128.4,112.8 L1129.7,113.4 L1131.1,114.1 L1132.5,114.7 L1133.8,115.3 L1135.2,115.9 L1136.6,116.5 L1137.9,117.0" stroke="#0000ff" stroke-dasharray="26.5 37" stroke-dashoffset="42.55"/>
<path d="M1136.6,116.5 L1137.9,117.0 L1139.3,117.6 L1140.7,118.2 L1142.0,118.8 L1143.4,119.3 L1144.8,119.9 L1146.2,120.4 L1147.6,120.9 L1149.0,121.5 L1150.4,122.0 L1151.8,122.5 L1153.2,123.0 L1154.6,123.5 L1156.0,123.9" stroke="#0000ff" stroke-dasharray="26.5 37" stroke-dashoffset="13.14"/>
<path d="M1154.6,123.5 L1156.0,123.9 L1157.4,124.4 L1158.8,124.9 L1160.2,125.3 L1161.6,125.7 L1163.1,126.2 L1164.5,126.6 L1165.9,127.0 L1167.4,127.4 L1168.8,127.7 L1170.3,128.1" stroke="#0000ff" stroke-dasharray="26.5 37" stroke-dashoffset="59.01"/>
<path d="M1168.8,127.7 L1170.3,128.1 L1171.7,128.5 L1173.2,128.8 L1174.7,129.1 L1176.1,129.4 L1177.6,129.7 L1179.1,130.0 L1180.6,130.3 L1182.1,130.5 L1183.6,130.8 L1185.1,131.0 L1186.6,131.2 L1188.1,131.4 L1189.6,131.6" stroke="#0000ff" stroke-dasharray="26.5 37" stroke-dashoffset="14.46"/>
<path d="M1188.1,131.4 L1189.6,131.6 L1191.1,131.8 L1192.6,131.9 L1194.1,132.0 L1195.7,132.2 L1197.2,132.3 L1198.7,132.4 L1200.3,132.4 L1201.8,132.5 L1203.3,132.5 L1204.9,132.6 L1206.4,132.6 L1207.9,132.6" stroke="#0000ff" stroke-dasharray="26.5 37" stroke-dashoffset="55.92"/>
<path d="M1206.4,132.6 L1207.9,132.6 L1209.5,132.5 L1211.0,132.5 L1212.5,132.4 L1214.1,132.4 L1215.6,132.3 L1217.1,132.2 L1218.7,132.1 L1220.2,131.9 L1221.7,131.8 L1223.2,131.6 L1224.7,131.4 L1226.2,131.2 L1227.7,131.0 L1229.2,130.7 L1230.7,130.5 L1232.2,130.2 L1233.7,129.9 L1235.1,129.6" stroke="#0000ff" stroke-dasharray="26.5 37" stroke-dashoffset="14.19"/>
<path d="M1233.7,129.9 L1235.1,129.6 L1236.6,129.2 L1238.0,128.9 L1239.5,128.5 L1240.9,128.1 L1242.4,127.7 L1243.8,127.3 L1245.2,126.9 L1246.6,126.4 L1248.0,125.9 L1249.4,125.4 L1250.7,124.9 L1252.1,124.4 L1253.4,123.8 L1254.8,123.3 L1256.1,122.7 L1257.4,122.1 L1258.8,121.5 L1260.1,120.8 L1261.4,120.2 L1262.7,119.5 L1263.9,118.8 L1265.2,118.1 L1266.5,117.4 L1267.8,116.7 L1269.0,115.9 L1270.3,115.2" stroke="#0000ff" stroke-dasharray="26.5 37" stroke-dashoffset="45.63"/>
<path d="M1269.0,115.9 L1270.3,115.2 L1271.6,114.4 L1272.8,113.7 L1274.1,112.9 L1275.3,112.1 L1276.6,111.3 L1277.8,110.4 L1279.1,109.6 L1280.3,108.8 L1281.6,107.9 L1282.8,107.1 L1284.1,106.2 L1285.3,105.3 L1286.5,104.5 L1287.8,103.6 L1289.0,102.7 L1290.3,101.8 L1291.6,100.9 L1292.8,99.9 L1294.1,99.0 L1295.3,98.1 L1296.6,97.2 L1297.8,96.2 L1299.0,95.3 L1300.3,94.3 L1301.5,93.3 L1302.7,92.4" stroke="#0000ff" stroke-dasharray="26.5 37" stroke-dashoffset="5.49"/>
<path d="M1301.5,93.3 L1302.7,92.4 L1303.9,91.4 L1305.1,90.4 L1306.3,89.4 L1307.4,88.4 L1308.6,87.4 L1309.7,86.4 L1310.9,85.4 L1312.0,84.4 L1313.1,83.4 L1314.1,82.3 L1315.2,81.3 L1316.2,80.3 L1317.2,79.2 L1318.2,78.1 L1319.2,77.1 L1320.2,76.0 L1321.1,74.9 L1322.1,73.9 L1323.0,72.8 L1324.0,71.7 L1324.9,70.6 L1325.9,69.5 L1326.8,68.5 L1327.8,67.4 L1328.7,66.3 L1329.7,65.2 L1330.7,64.1 L1331.7,63.0 L1332.7,61.9 L1333.7,60.8 L1334.8,59.7 L1335.8,58.6 L1336.9,57.5 L1338.0,56.4 L1339.2,55.3" stroke="#0000ff" stroke-dasharray="26.5 37" stroke-dashoffset="43.72"/>
<path d="M1338.0,56.4 L1339.2,55.3 L1340.4,54.3 L1341.6,53.2 L1342.8,52.1 L1344.0,51.1 L1345.3,50.1 L1346.6,49.1 L1347.9,48.2 L1349.2,47.3 L1350.6,46.4 L1351.9,45.6 L1353.3,44.8 L1354.6,44.1 L1356.0,43.5 L1357.4,42.9 L1358.8,42.4 L1360.2,42.0 L1361.6,41.6 L1363.0,41.3 L1364.4,41.2 L1365.8,41.1 L1367.1,41.1 L1368.5,41.2 L1369.9,41.4 L1371.2,41.7 L1372.6,42.1 L1373.9,42.6 L1375.2,43.2" stroke="#0000ff" stroke-dasharray="26.5 37" stroke-dashoffset="56.50"/>
<path d="M1373.9,42.6 L1375.2,43.2 L1376.5,43.9 L1377.7,44.6 L1378.9,45.4 L1380.0,46.3 L1381.1,47.3 L1382.2,48.4 L1383.2,49.5 L1384.2,50.6 L1385.1,51.8 L1385.9,53.1 L1386.6,54.4 L1387.3,55.8 L1388.0,57.2 L1388.5,58.6" stroke="#0000ff" stroke-dasharray="26.5 37" stroke-dashoffset="54.75"/>
<path d="M1388.0,57.2 L1388.5,58.6 L1389.1,60.1 L1389.6,61.5 L1390.1,63.0 L1390.5,64.5 L1390.9,66.0 L1391.4,67.5 L1391.8,69.0 L1392.2,70.5 L1392.6,72.0 L1393.0,73.4 L1393.5,74.9 L1393.9,76.3 L1394.4,77.7 L1394.9,79.1 L1395.4,80.5 L1395.9,81.8 L1396.4,83.2 L1397.0,84.5 L1397.5,85.9 L1398.1,87.2 L1398.7,88.6" stroke="#0000ff" stroke-dasharray="26.5 37" stroke-dashoffset="13.95"/>
<path d="M1398.1,87.2 L1398.7,88.6 L1399.3,89.9 L1399.9,91.3 L1400.6,92.6 L1401.3,94.0 L1402.0,95.3 L1402.7,96.7 L1403.5,98.1 L1404.2,99.4 L1405.0,100.8 L1405.8,102.3 L1406.7,103.7 L1407.6,105.1 L1408.5,106.5 L1409.4,107.8 L1410.4,109.0 L1411.4,110.1 L1412.5,110.9 L1413.7,111.6 L1414.9,112.1" stroke="#0000ff" stroke-dasharray="26.5 37" stroke-dashoffset="41.92"/>
<path d="M1413.7,111.6 L1414.9,112.1 L1416.1,112.3 L1417.5,112.2 L1418.8,111.9 L1420.2,111.4 L1421.5,110.8 L1422.9,110.0 L1424.2,109.1 L1425.4,108.1 L1426.6,107.1 L1427.7,106.0 L1428.7,104.8 L1429.7,103.6 L1430.6,102.4 L1431.5,101.1 L1432.4,99.8 L1433.2,98.5 L1434.0,97.1 L1434.7,95.7 L1435.4,94.3 L1436.1,92.8" stroke="#0000ff" stroke-dasharray="26.5 37" stroke-dashoffset="16.56"/>
<path d="M1435.4,94.3 L1436.1,92.8 L1436.8,91.4 L1437.4,89.9 L1438.1,88.5 L1438.7,87.0 L1439.3,85.6 L1440.0,84.1 L1440.6,82.7 L1441.2,81.3 L1441.9,79.9 L1442.5,78.6 L1443.2,77.2 L1443.9,75.9 L1444.7,74.7 L1445.4,73.4 L1446.2,72.3 L1447.1,71.1 L1447.9,70.1 L1448.9,69.1 L1449.8,68.1 L1450.9,67.2 L1451.9,66.4 L1453.1,65.7 L1454.3,65.1 L1455.6,64.8 L1456.9,65.1 L1458.2,65.9 L1459.5,67.6 L1460.9,70.3" stroke="#0000ff" stroke-dasharray="26.5 37" stroke-dashoffset="41.75"/>
<path d="M270.9,944.6 L272.4,944.7 L273.9,944.7 L275.4,944.8 L276.9,944.9 L278.4,944.9 L279.9,945.0 L281.4,945.1 L282.9,945.1 L284.4,945.2 L285.9,945.2 L287.4,945.3 L288.9,945.3 L290.4,945.4 L291.9,945.4 L293.4,945.5 L294.9,945.5 L296.4,945.5 L297.9,945.6 L299.4,945.6 L300.9,945.6 L302.4,945.7 L303.9,945.7 L305.4,945.7 L306.9,945.8 L308.4,945.8 L309.9,945.8 L311.4,945.8 L312.9,945.9 L314.4,945.9 L315.9,945.9" stroke="#0000ff" stroke-dasharray="26.5 37" stroke-dashoffset="1.00"/>
<path d="M314.4,945.9 L315.9,945.9 L317.4,945.9 L318.9,945.9 L320.4,946.0 L321.9,946.0 L323.4,946.0 L324.9,946.0 L326.4,946.0 L327.9,946.1 L329.4,946.1 L330.9,946.1 L332.5,946.1 L334.0,946.1 L335.5,946.2 L337.0,946.2 L338.5,946.2 L340.0,946.2 L341.5,946.3 L343.0,946.3 L344.5,946.3 L346.0,946.3 L347.5,946.3" stroke="#0000ff" stroke-dasharray="26.5 37" stroke-dashoffset="43.96"/>
<path d="M346.0,946.3 L347.5,946.3 L349.0,946.4 L350.5,946.4 L352.0,946.4 L353.5,946.5 L355.0,946.5 L356.5,946.5 L358.0,946.6 L359.5,946.6 L361.0,946.6 L362.5,946.7 L364.0,946.7 L365.5,946.8 L367.0,946.8 L368.5,946.9 L370.0,946.9 L371.5,947.0 L373.0,947.0 L374.5,947.1 L376.0,947.1 L377.5,947.2 L379.0,947.2 L380.5,947.3" stroke="#0000ff" stroke-dasharray="26.5 37" stroke-dashoffset="11.48"/>
<path d="M379.0,947.2 L380.5,947.3 L382.0,947.3 L383.5,947.4 L385.0,947.5 L386.5,947.5 L388.0,947.6 L389.5,947.7 L391.0,947.7 L392.4,947.8 L393.9,947.9 L395.4,948.0 L396.9,948.0 L398.4,948.1 L399.9,948.2 L401.4,948.3 L402.9,948.3 L404.4,948.4 L405.9,948.5 L407.4,948.6 L408.9,948.7 L410.4,948.8 L411.9,948.8" stroke="#0000ff" stroke-dasharray="26.5 37" stroke-dashoffset="44.02"/>
<path d="M410.4,948.8 L411.9,948.8 L413.4,948.9 L414.9,949.0 L416.4,949.1 L417.9,949.2 L419.4,949.3 L420.9,949.4 L422.4,949.5 L423.9,949.6 L425.4,949.7 L426.9,949.8 L428.4,949.9 L429.9,949.9 L431.4,950.0 L432.9,950.1 L434.4,950.2 L435.9,950.3 L437.4,950.4 L438.9,950.5 L440.4,950.6 L441.9,950.7 L443.4,950.8" stroke="#0000ff" stroke-dasharray="26.5 37" stroke-dashoffset="14.49"/>
<path d="M441.9,950.7 L443.4,950.8 L444.9,951.0 L446.4,951.1 L447.9,951.2 L449.4,951.3 L450.9,951.4 L452.4,951.5 L453.9,951.6 L455.4,951.7 L457.0,951.8 L458.5,951.9 L460.0,952.0 L461.5,952.1 L463.0,952.2 L464.5,952.3 L466.0,952.4 L467.5,952.6 L469.0,952.7 L470.5,952.8 L472.0,953.0 L473.5,953.1 L475.0,953.3 L476.5,953.4 L478.0,953.6 L479.5,953.8 L481.0,954.0 L482.5,954.2 L483.9,954.5 L485.4,954.7 L486.9,955.0 L488.3,955.3 L489.8,955.6" stroke="#0000ff" stroke-dasharray="26.5 37" stroke-dashoffset="42.39"/>
<path d="M488.3,955.3 L489.8,955.6 L491.2,955.9 L492.7,956.3 L494.1,956.6 L495.6,957.0 L497.0,957.5 L498.4,957.9 L499.8,958.4 L501.2,958.9 L502.6,959.4 L503.9,960.0 L505.3,960.5 L506.7,961.1 L508.0,961.7 L509.4,962.4 L510.7,963.0 L512.1,963.7 L513.4,964.3 L514.7,965.0 L516.1,965.7 L517.4,966.4 L518.7,967.1 L520.0,967.8 L521.3,968.6 L522.6,969.3 L523.9,970.1 L525.2,970.8 L526.5,971.6 L527.8,972.4 L529.0,973.1 L530.3,973.9 L531.6,974.7" stroke="#0000ff" stroke-dasharray="26.5 37" stroke-dashoffset="63.27"/>
<path d="M530.3,973.9 L531.6,974.7 L532.9,975.5 L534.1,976.3 L535.4,977.1 L536.6,977.9 L537.9,978.8 L539.2,979.6 L540.4,980.4 L541.7,981.3 L542.9,982.1 L544.1,983.0 L545.4,983.8 L546.6,984.7 L547.9,985.5 L549.1,986.4 L550.3,987.3 L551.6,988.1 L552.8,989.0 L554.0,989.9 L555.3,990.7 L556.5,991.6 L557.7,992.5" stroke="#0000ff" stroke-dasharray="26.5 37" stroke-dashoffset="42.48"/>
<path d="M556.5,991.6 L557.7,992.5 L558.9,993.4 L560.2,994.3 L561.4,995.2 L562.6,996.0 L563.8,996.9 L565.1,997.8 L566.3,998.7 L567.5,999.6 L568.7,1000.5 L570.0,1001.4 L571.2,1002.3 L572.4,1003.1 L573.7,1004.0 L574.9,1004.9 L576.1,1005.8 L577.3,1006.7 L578.6,1007.5 L579.8,1008.4 L581.1,1009.3 L582.3,1010.1 L583.5,1011.0" stroke="#0000ff" stroke-dasharray="26.5 37" stroke-dashoffset="14.37"/>
<path d="M582.3,1010.1 L583.5,1011.0 L584.8,1011.9 L586.0,1012.7 L587.3,1013.5 L588.5,1014.4 L589.8,1015.2 L591.1,1016.0 L592.3,1016.8 L593.6,1017.7 L594.9,1018.5 L596.1,1019.2 L597.4,1020.0 L598.7,1020.8 L600.0,1021.6 L601.3,1022.3 L602.6,1023.1 L603.9,1023.8 L605.2,1024.5 L606.5,1025.2 L607.8,1025.9 L609.1,1026.6 L610.4,1027.3 L611.8,1028.0" stroke="#0000ff" stroke-dasharray="26.5 37" stroke-dashoffset="40.95"/>
<path d="M610.4,1027.3 L611.8,1028.0 L613.1,1028.6 L614.5,1029.2 L615.8,1029.9 L617.2,1030.5 L618.5,1031.1 L619.9,1031.7 L621.3,1032.2 L622.7,1032.8 L624.1,1033.3 L625.5,1033.8 L626.9,1034.3 L628.3,1034.8 L629.7,1035.2 L631.2,1035.7 L632.6,1036.1 L634.1,1036.5 L635.5,1036.9 L637.0,1037.3 L638.5,1037.6 L640.0,1038.0 L641.5,1038.3 L643.0,1038.6 L644.5,1038.8" stroke="#0000ff" stroke-dasharray="26.5 37" stroke-dashoffset="13.11"/>
<path d="M643.0,1038.6 L644.5,1038.8 L646.0,1039.1 L647.5,1039.3 L649.1,1039.5 L650.6,1039.7 L652.1,1039.8 L653.7,1039.9 L655.2,1040.0 L656.8,1040.1 L658.3,1040.1 L659.8,1040.1 L661.3,1040.0 L662.9,1039.9 L664.4,1039.8 L665.9,1039.7 L667.3,1039.5 L668.8,1039.3 L670.3,1039.0 L671.7,1038.7 L673.1,1038.3 L674.5,1037.9" stroke="#0000ff" stroke-dasharray="26.5 37" stroke-dashoffset="42.02"/>
<path d="M673.1,1038.3 L674.5,1037.9 L675.9,1037.5 L677.2,1037.0 L678.6,1036.4 L679.9,1035.9 L681.2,1035.2 L682.4,1034.6 L683.7,1033.9 L684.9,1033.1 L686.1,1032.4 L687.3,1031.6 L688.5,1030.7 L689.6,1029.9 L690.8,1029.0 L691.9,1028.0 L693.0,1027.1 L694.1,1026.1 L695.1,1025.0 L696.2,1024.0 L697.2,1022.9 L698.2,1021.8 L699.2,1020.7 L700.2,1019.5 L701.1,1018.4 L702.1,1017.2 L703.0,1016.0" stroke="#0000ff" stroke-dasharray="26.5 37" stroke-dashoffset="15.15"/>
<path d="M702.1,1017.2 L703.0,1016.0 L703.9,1014.8 L704.8,1013.5 L705.7,1012.3 L706.6,1011.0 L707.5,1009.7 L708.3,1008.4 L709.2,1007.1 L710.0,1005.8 L710.8,1004.5 L711.6,1003.2 L712.4,1001.8 L713.1,1000.5 L713.9,999.1 L714.6,997.8 L715.4,996.4 L716.1,995.1 L716.8,993.7 L717.5,992.3 L718.2,991.0 L718.9,989.6 L719.5,988.2 L720.2,986.9 L720.9,985.5" stroke="#0000ff" stroke-dasharray="26.5 37" stroke-dashoffset="37.36"/>
<path d="M720.2,986.9 L720.9,985.5 L721.5,984.1 L722.1,982.7 L722.8,981.3 L723.4,980.0 L724.0,978.6 L724.6,977.2 L725.2,975.8 L725.7,974.4 L726.3,973.0 L726.9,971.6 L727.5,970.2 L728.0,968.8 L728.6,967.4 L729.1,966.0 L729.6,964.6 L730.2,963.2 L730.7,961.8 L731.2,960.4 L731.7,959.0 L732.2,957.6 L732.7,956.2 L733.2,954.8" stroke="#0000ff" stroke-dasharray="26.5 37" stroke-dashoffset="14.37"/>
<path d="M732.7,956.2 L733.2,954.8 L733.7,953.4 L734.2,951.9 L734.7,950.5 L735.2,949.1 L735.7,947.7 L736.1,946.3 L736.6,944.9 L737.1,943.4 L737.5,942.0 L738.0,940.6 L738.5,939.2 L738.9,937.8 L739.4,936.3 L739.9,934.9 L740.3,933.5 L740.8,932.1 L741.2,930.6 L741.7,929.2 L742.1,927.8 L742.6,926.4 L743.0,924.9 L743.5,923.5" stroke="#0000ff" stroke-dasharray="26.5 37" stroke-dashoffset="41.05"/>
<path d="M743.0,924.9 L743.5,923.5 L743.9,922.1 L744.4,920.6 L744.8,919.2 L745.3,917.8 L745.7,916.3 L746.1,914.9 L746.6,913.5 L747.0,912.1 L747.4,910.6 L747.9,909.2 L748.3,907.8 L748.7,906.3 L749.2,904.9 L749.6,903.5 L750.0,902.0 L750.4,900.6 L750.9,899.1 L751.3,897.7 L751.7,896.3 L752.1,894.8 L752.5,893.4 L752.9,892.0" stroke="#0000ff" stroke-dasharray="26.5 37" stroke-dashoffset="14.54"/>
<path d="M752.5,893.4 L752.9,892.0 L753.4,890.5 L753.8,889.1 L754.2,887.6 L754.6,886.2 L755.0,884.8 L755.4,883.3 L755.8,881.9 L756.2,880.4 L756.6,879.0 L757.0,877.6 L757.4,876.1 L757.8,874.7 L758.2,873.2 L758.6,871.8 L759.0,870.3 L759.4,868.9 L759.8,867.4 L760.2,866.0 L760.6,864.5 L761.0,863.1 L761.4,861.7" stroke="#0000ff" stroke-dasharray="26.5 37" stroke-dashoffset="42.53"/>
<path d="M761.0,863.1 L761.4,861.7 L761.8,860.2 L762.2,858.8 L762.6,857.3 L762.9,855.9 L763.3,854.4 L763.7,853.0 L764.1,851.5 L764.5,850.1 L764.8,848.6 L765.2,847.2 L765.6,845.7 L766.0,844.3 L766.4,842.8 L766.7,841.4 L767.1,839.9 L767.5,838.4 L767.9,837.0 L768.2,835.5 L768.6,834.1 L769.0,832.6 L769.3,831.2" stroke="#0000ff" stroke-dasharray="26.5 37" stroke-dashoffset="16.01"/>
<path d="M769.0,832.6 L769.3,831.2 L769.7,829.7 L770.1,828.3 L770.4,826.8 L770.8,825.4 L771.2,823.9 L771.5,822.4 L771.9,821.0 L772.2,819.5 L772.6,818.1 L773.0,816.6 L773.3,815.2 L773.7,813.7 L774.0,812.2 L774.4,810.8 L774.7,809.3 L775.1,807.9 L775.4,806.4 L775.8,804.9 L776.1,803.5 L776.5,802.0 L776.8,800.6" stroke="#0000ff" stroke-dasharray="26.5 37" stroke-dashoffset="42.49"/>
<path d="M776.5,802.0 L776.8,800.6 L777.2,799.1 L777.5,797.6 L777.9,796.2 L778.2,794.7 L778.6,793.3 L778.9,791.8 L779.3,790.3 L779.6,788.9 L780.0,787.4 L780.3,785.9 L780.6,784.5 L781.0,783.0 L781.3,781.6 L781.7,780.1 L782.0,778.6 L782.3,777.2 L782.7,775.7 L783.0,774.2 L783.3,772.8 L783.7,771.3 L784.0,769.8" stroke="#0000ff" stroke-dasharray="26.5 37" stroke-dashoffset="14.48"/>
<path d="M783.7,771.3 L784.0,769.8 L784.3,768.4 L784.7,766.9 L785.0,765.4 L785.3,764.0 L785.7,762.5 L786.0,761.1 L786.3,759.6 L786.7,758.1 L787.0,756.7 L787.3,755.2 L787.7,753.7 L788.0,752.3 L788.3,750.8 L788.6,749.3 L789.0,747.9 L789.3,746.4 L789.6,744.9 L789.9,743.5 L790.3,742.0 L790.6,740.5 L790.9,739.0" stroke="#0000ff" stroke-dasharray="26.5 37" stroke-dashoffset="42.47"/>
<path d="M790.6,740.5 L790.9,739.0 L791.2,737.6 L791.6,736.1 L791.9,734.6 L792.2,733.2 L792.5,731.7 L792.9,730.2 L793.2,728.8 L793.5,727.3 L793.8,725.8 L794.1,724.4 L794.5,722.9 L794.8,721.4 L795.1,720.0 L795.4,718.5 L795.7,717.0 L796.1,715.6 L796.4,714.1 L796.7,712.6 L797.0,711.1 L797.3,709.7 L797.6,708.2" stroke="#0000ff" stroke-dasharray="26.5 37" stroke-dashoffset="14.47"/>
<path d="M797.3,709.7 L797.6,708.2 L798.0,706.7 L798.3,705.3 L798.6,703.8 L798.9,702.3 L799.2,700.9 L799.5,699.4 L799.9,697.9 L800.2,696.4 L800.5,695.0 L800.8,693.5 L801.1,692.0 L801.4,690.6 L801.7,689.1 L802.1,687.6 L802.4,686.2 L802.7,684.7 L803.0,683.2 L803.3,681.8 L803.6,680.3 L803.9,678.8 L804.3,677.3" stroke="#0000ff" stroke-dasharray="26.5 37" stroke-dashoffset="42.46"/>
<path d="M803.9,678.8 L804.3,677.3 L804.6,675.9 L804.9,674.4 L805.2,672.9 L805.5,671.5 L805.8,670.0 L806.1,668.5 L806.4,667.1 L806.8,665.6 L807.1,664.1 L807.4,662.6 L807.7,661.2 L808.0,659.7 L808.3,658.2 L808.6,656.8 L809.0,655.3 L809.3,653.8 L809.6,652.4 L809.9,650.9 L810.2,649.4 L810.5,648.0 L810.8,646.5" stroke="#0000ff" stroke-dasharray="26.5 37" stroke-dashoffset="14.48"/>
<path d="M810.5,648.0 L810.8,646.5 L811.2,645.0 L811.5,643.6 L811.8,642.1 L812.1,640.6 L812.4,639.2 L812.7,637.7 L813.0,636.2 L813.4,634.8 L813.7,633.3 L814.0,631.8 L814.3,630.4 L814.6,628.9 L814.9,627.4 L815.3,626.0 L815.6,624.5 L815.9,623.0 L816.2,621.6 L816.5,620.1 L816.8,618.6 L817.2,617.2 L817.5,615.7 L817.8,614.2" stroke="#0000ff" stroke-dasharray="26.5 37" stroke-dashoffset="40.99"/>
<path d="M817.5,615.7 L817.8,614.2 L818.1,612.8 L818.4,611.3 L818.8,609.8 L819.1,608.4 L819.4,606.9 L819.7,605.4 L820.0,604.0 L820.3,602.5 L820.7,601.0 L821.0,599.6 L821.3,598.1 L821.6,596.6 L821.9,595.2 L822.3,593.7 L822.6,592.3 L822.9,590.8 L823.2,589.3 L823.5,587.9 L823.9,586.4 L824.2,584.9 L824.5,583.5" stroke="#0000ff" stroke-dasharray="26.5 37" stroke-dashoffset="14.51"/>
<path d="M824.2,584.9 L824.5,583.5 L824.8,582.0 L825.2,580.5 L825.5,579.1 L825.8,577.6 L826.1,576.1 L826.4,574.7 L826.8,573.2 L827.1,571.8 L827.4,570.3 L827.7,568.8 L828.0,567.4 L828.4,565.9 L828.7,564.4 L829.0,563.0 L829.3,561.5 L829.6,560.0 L830.0,558.6 L830.3,557.1 L830.6,555.6 L830.9,554.2 L831.3,552.7 L831.6,551.3" stroke="#0000ff" stroke-dasharray="26.5 37" stroke-dashoffset="41.02"/>
<path d="M831.3,552.7 L831.6,551.3 L831.9,549.8 L832.2,548.3 L832.5,546.9 L832.9,545.4 L833.2,543.9 L833.5,542.5 L833.8,541.0 L834.1,539.5 L834.5,538.1 L834.8,536.6 L835.1,535.1 L835.4,533.7 L835.7,532.2 L836.1,530.8 L836.4,529.3 L836.7,527.8 L837.0,526.4 L837.3,524.9 L837.7,523.4 L838.0,522.0 L838.3,520.5 L838.6,519.0" stroke="#0000ff" stroke-dasharray="26.5 37" stroke-dashoffset="14.51"/>
<path d="M838.3,520.5 L838.6,519.0 L838.9,517.6 L839.3,516.1 L839.6,514.6 L839.9,513.2 L840.2,511.7 L840.5,510.2 L840.9,508.8 L841.2,507.3 L841.5,505.8 L841.8,504.4 L842.1,502.9 L842.4,501.4 L842.8,500.0 L843.1,498.5 L843.4,497.0 L843.7,495.6 L844.0,494.1 L844.3,492.6 L844.7,491.1 L845.0,489.7 L845.3,488.2" stroke="#0000ff" stroke-dasharray="26.5 37" stroke-dashoffset="42.49"/>
<path d="M845.0,489.7 L845.3,488.2 L845.6,486.7 L845.9,485.3 L846.2,483.8 L846.6,482.3 L846.9,480.9 L847.2,479.4 L847.5,477.9 L847.8,476.4 L848.1,475.0 L848.4,473.5 L848.8,472.0 L849.1,470.6 L849.4,469.1 L849.7,467.6 L850.0,466.1 L850.3,464.7 L850.6,463.2 L850.9,461.7 L851.3,460.3 L851.6,458.8" stroke="#0000ff" stroke-dasharray="26.5 37" stroke-dashoffset="15.97"/>
<path d="M851.3,460.3 L851.6,458.8 L851.9,457.3 L852.2,455.8 L852.5,454.4 L852.8,452.9 L853.2,451.4 L853.5,450.0 L853.8,448.5 L854.1,447.0 L854.4,445.6 L854.8,444.1 L855.1,442.6 L855.4,441.1 L855.7,439.7 L856.1,438.2 L856.4,436.8 L856.7,435.3 L857.0,433.8 L857.4,432.4 L857.7,430.9 L858.0,429.4 L858.4,428.0" stroke="#0000ff" stroke-dasharray="26.5 37" stroke-dashoffset="40.95"/>
<path d="M858.0,429.4 L858.4,428.0 L858.7,426.5 L859.1,425.1 L859.4,423.6 L859.8,422.1 L860.1,420.7 L860.5,419.2 L860.8,417.8 L861.2,416.3 L861.5,414.9 L861.9,413.4 L862.2,412.0 L862.6,410.5 L863.0,409.1 L863.3,407.6 L863.7,406.2 L864.1,404.7 L864.4,403.3 L864.8,401.8 L865.2,400.4 L865.6,398.9 L866.0,397.5 L866.3,396.0" stroke="#0000ff" stroke-dasharray="26.5 37" stroke-dashoffset="14.52"/>
<path d="M866.0,397.5 L866.3,396.0 L866.7,394.6 L867.1,393.2 L867.5,391.7 L867.8,390.3 L868.2,388.8 L868.6,387.4 L869.0,385.9 L869.4,384.5 L869.7,383.0 L870.1,381.6 L870.5,380.1 L870.9,378.7 L871.3,377.2 L871.6,375.8 L872.0,374.3 L872.4,372.9 L872.8,371.4 L873.1,369.9 L873.5,368.5 L873.9,367.0 L874.3,365.6" stroke="#0000ff" stroke-dasharray="26.5 37" stroke-dashoffset="42.55"/>
<path d="M873.9,367.0 L874.3,365.6 L874.6,364.1 L875.0,362.6 L875.4,361.2 L875.8,359.7 L876.1,358.3 L876.5,356.8 L876.9,355.3 L877.3,353.9 L877.6,352.4 L878.0,351.0 L878.4,349.5 L878.8,348.0 L879.2,346.6 L879.5,345.1 L879.9,343.6 L880.3,342.2 L880.7,340.7 L881.1,339.3 L881.4,337.8 L881.8,336.4 L882.2,334.9" stroke="#0000ff" stroke-dasharray="26.5 37" stroke-dashoffset="14.42"/>
<path d="M881.8,336.4 L882.2,334.9 L882.6,333.4 L883.0,332.0 L883.4,330.5 L883.8,329.1 L884.2,327.6 L884.6,326.2 L884.9,324.7 L885.3,323.3 L885.7,321.8 L886.1,320.4 L886.5,318.9 L887.0,317.5 L887.4,316.1 L887.8,314.6 L888.2,313.2 L888.6,311.7 L889.0,310.3 L889.4,308.9 L889.8,307.4 L890.3,306.0 L890.7,304.6" stroke="#0000ff" stroke-dasharray="26.5 37" stroke-dashoffset="40.95"/>
<path d="M890.3,306.0 L890.7,304.6 L891.1,303.1 L891.5,301.7 L892.0,300.3 L892.4,298.9 L892.8,297.4 L893.3,296.0 L893.7,294.6 L894.1,293.2 L894.6,291.7 L895.0,290.3 L895.5,288.9 L895.9,287.5 L896.4,286.1 L896.8,284.6 L897.3,283.2 L897.8,281.8 L898.2,280.4 L898.7,279.0 L899.1,277.6 L899.6,276.1 L900.1,274.7" stroke="#0000ff" stroke-dasharray="26.5 37" stroke-dashoffset="14.59"/>
<path d="M899.6,276.1 L900.1,274.7 L900.6,273.3 L901.0,271.9 L901.5,270.5 L902.0,269.1 L902.5,267.7 L903.0,266.2 L903.5,264.8 L903.9,263.4 L904.4,262.0 L904.9,260.6 L905.4,259.2 L905.9,257.8 L906.5,256.4 L907.0,254.9 L907.5,253.5 L908.0,252.1 L908.5,250.7 L909.0,249.3 L909.5,247.9 L910.1,246.5 L910.6,245.1" stroke="#0000ff" stroke-dasharray="26.5 37" stroke-dashoffset="42.57"/>
<path d="M910.1,246.5 L910.6,245.1 L911.1,243.6 L911.7,242.2 L912.2,240.8 L912.7,239.4 L913.3,238.0 L913.8,236.6 L914.4,235.1 L914.9,233.7 L915.5,232.3 L916.1,230.9 L916.6,229.5 L917.2,228.0 L917.8,226.6 L918.3,225.2 L918.9,223.8 L919.5,222.4 L920.1,221.0 L920.7,219.6 L921.3,218.2 L921.9,216.8" stroke="#0000ff" stroke-dasharray="26.5 37" stroke-dashoffset="14.34"/>
<path d="M921.3,218.2 L921.9,216.8 L922.6,215.4 L923.2,214.0 L923.9,212.6 L924.5,211.3 L925.2,209.9 L925.9,208.6 L926.6,207.2 L927.3,205.9 L928.0,204.6 L928.8,203.2 L929.5,202.0 L930.3,200.7 L931.1,199.4 L931.9,198.1 L932.8,196.9 L933.6,195.7 L934.5,194.5 L935.4,193.3 L936.3,192.1 L937.2,190.9" stroke="#0000ff" stroke-dasharray="26.5 37" stroke-dashoffset="42.30"/>
<path d="M936.3,192.1 L937.2,190.9 L938.1,189.8 L939.1,188.7 L940.1,187.6 L941.1,186.5 L942.2,185.4 L943.3,184.4 L944.3,183.3 L945.5,182.3 L946.6,181.4 L947.8,180.4 L949.0,179.5 L950.2,178.6 L951.5,177.7 L952.7,176.9 L954.0,176.1 L955.3,175.3 L956.7,174.5 L958.0,173.8 L959.4,173.1 L960.7,172.4" stroke="#0000ff" stroke-dasharray="26.5 37" stroke-dashoffset="16.08"/>
<path d="M959.4,173.1 L960.7,172.4 L962.1,171.8 L963.5,171.2 L965.0,170.6 L966.4,170.1 L967.8,169.6 L969.3,169.2 L970.7,168.8 L972.2,168.4 L973.7,168.1 L975.2,167.8 L976.6,167.5 L978.1,167.3 L979.6,167.2 L981.1,167.0 L982.6,167.0 L984.1,167.0 L985.5,167.0 L987.0,167.1 L988.5,167.2 L989.9,167.4 L991.4,167.6 L992.9,167.9 L994.3,168.2" stroke="#0000ff" stroke-dasharray="26.5 37" stroke-dashoffset="40.79"/>
<path d="M992.9,167.9 L994.3,168.2 L995.7,168.6 L997.1,169.0 L998.6,169.4 L1000.0,169.9 L1001.4,170.5 L1002.7,171.1 L1004.1,171.7 L1005.5,172.3 L1006.8,172.9 L1008.2,173.6 L1009.5,174.3 L1010.8,175.0 L1012.1,175.7 L1013.4,176.5 L1014.7,177.2 L1016.0,178.0 L1017.3,178.8 L1018.5,179.6 L1019.8,180.4 L1021.0,181.3" stroke="#0000ff" stroke-dasharray="26.5 37" stroke-dashoffset="14.61"/>
<path d="M1019.8,180.4 L1021.0,181.3 L1022.3,182.2 L1023.5,183.0 L1024.7,183.9 L1025.9,184.8 L1027.1,185.7 L1028.3,186.7 L1029.5,187.6 L1030.7,188.6 L1031.9,189.5 L1033.0,190.5 L1034.2,191.5 L1035.3,192.5 L1036.5,193.5 L1037.6,194.5 L1038.7,195.6 L1039.9,196.6 L1041.0,197.6 L1042.1,198.7 L1043.2,199.7 L1044.3,200.8" stroke="#0000ff" stroke-dasharray="26.5 37" stroke-dashoffset="43.85"/>
<path d="M1043.2,199.7 L1044.3,200.8 L1045.4,201.9 L1046.5,202.9 L1047.6,204.0 L1048.7,205.1 L1049.7,206.2 L1050.8,207.3 L1051.9,208.3 L1052.9,209.4 L1054.0,210.5 L1055.1,211.6 L1056.1,212.7 L1057.2,213.8 L1058.2,214.9 L1059.2,216.0 L1060.3,217.1 L1061.3,218.2 L1062.3,219.3 L1063.4,220.4 L1064.4,221.5 L1065.4,222.6 L1066.4,223.7" stroke="#0000ff" stroke-dasharray="26.5 37" stroke-dashoffset="14.24"/>
<path d="M1065.4,222.6 L1066.4,223.7 L1067.4,224.8 L1068.4,225.9 L1069.4,227.1 L1070.4,228.2 L1071.4,229.3 L1072.4,230.4 L1073.4,231.5 L1074.4,232.6 L1075.4,233.7 L1076.4,234.9 L1077.4,236.0 L1078.4,237.1 L1079.4,238.2 L1080.3,239.4 L1081.3,240.5 L1082.3,241.6 L1083.3,242.7 L1084.2,243.9 L1085.2,245.0 L1086.2,246.1 L1087.1,247.2" stroke="#0000ff" stroke-dasharray="26.5 37" stroke-dashoffset="41.05"/>
<path d="M1086.2,246.1 L1087.1,247.2 L1088.1,248.4 L1089.1,249.5 L1090.0,250.6 L1091.0,251.8 L1091.9,252.9 L1092.9,254.1 L1093.9,255.2 L1094.8,256.3 L1095.8,257.5 L1096.7,258.6 L1097.7,259.8 L1098.6,260.9 L1099.6,262.1 L1100.5,263.2 L1101.5,264.3 L1102.5,265.5 L1103.4,266.6 L1104.4,267.8 L1105.3,268.9 L1106.3,270.1 L1107.2,271.2 L1108.2,272.4" stroke="#0000ff" stroke-dasharray="26.5 37" stroke-dashoffset="14.62"/>
<path d="M1107.2,271.2 L1108.2,272.4 L1109.1,273.6 L1110.1,274.7 L1111.0,275.9 L1112.0,277.0 L1112.9,278.2 L1113.9,279.3 L1114.8,280.5 L1115.8,281.7 L1116.8,282.8 L1117.7,284.0 L1118.7,285.2 L1119.6,286.3 L1120.6,287.5 L1121.6,288.7 L1122.5,289.8 L1123.5,291.0 L1124.5,292.1 L1125.5,293.3 L1126.4,294.5 L1127.4,295.6 L1128.4,296.8" stroke="#0000ff" stroke-dasharray="26.5 37" stroke-dashoffset="40.96"/>
<path d="M1127.4,295.6 L1128.4,296.8 L1129.4,297.9 L1130.4,299.1 L1131.4,300.2 L1132.4,301.3 L1133.4,302.4 L1134.4,303.5 L1135.5,304.6 L1136.5,305.7 L1137.5,306.8 L1138.6,307.9 L1139.6,309.0 L1140.7,310.0 L1141.8,311.1 L1142.9,312.1 L1144.0,313.1 L1145.1,314.1 L1146.2,315.1" stroke="#0000ff" stroke-dasharray="26.5 37" stroke-dashoffset="14.39"/>
<path d="M1145.1,314.1 L1146.2,315.1 L1147.3,316.1 L1148.5,317.0 L1149.6,318.0 L1150.8,318.9 L1152.0,319.8 L1153.2,320.7 L1154.4,321.5 L1155.6,322.4 L1156.8,323.2 L1158.1,324.0 L1159.4,324.8 L1160.6,325.6 L1161.9,326.3 L1163.2,327.1 L1164.5,327.8 L1165.8,328.5 L1167.2,329.2 L1168.5,329.9" stroke="#0000ff" stroke-dasharray="26.5 37" stroke-dashoffset="47.11"/>
<path d="M1167.2,329.2 L1168.5,329.9 L1169.8,330.6 L1171.2,331.3 L1172.5,332.0 L1173.8,332.7 L1175.2,333.4 L1176.5,334.1 L1177.9,334.8 L1179.2,335.4 L1180.5,336.1 L1181.9,336.8 L1183.2,337.6 L1184.5,338.3 L1185.8,339.0 L1187.1,339.7" stroke="#0000ff" stroke-dasharray="26.5 37" stroke-dashoffset="14.45"/>
<path d="M1185.8,339.0 L1187.1,339.7 L1188.4,340.5 L1189.7,341.2 L1191.0,342.0 L1192.3,342.7 L1193.6,343.5 L1194.9,344.3 L1196.2,345.0 L1197.5,345.8 L1198.8,346.6 L1200.0,347.4 L1201.3,348.2 L1202.6,349.0 L1203.8,349.8 L1205.1,350.6 L1206.4,351.5 L1207.6,352.3" stroke="#0000ff" stroke-dasharray="26.5 37" stroke-dashoffset="51.49"/>
<path d="M1206.4,351.5 L1207.6,352.3 L1208.9,353.1 L1210.1,354.0 L1211.4,354.8 L1212.6,355.6 L1213.9,356.5 L1215.1,357.3 L1216.3,358.2 L1217.6,359.0 L1218.8,359.9 L1220.1,360.7 L1221.3,361.6 L1222.5,362.4 L1223.8,363.3 L1225.0,364.2 L1226.2,365.0 L1227.5,365.9 L1228.7,366.7 L1229.9,367.6 L1231.2,368.5" stroke="#0000ff" stroke-dasharray="26.5 37" stroke-dashoffset="14.47"/>
<path d="M1229.9,367.6 L1231.2,368.5 L1232.4,369.3 L1233.6,370.2 L1234.9,371.0 L1236.1,371.9 L1237.3,372.7 L1238.6,373.6 L1239.8,374.4 L1241.0,375.3 L1242.3,376.1 L1243.5,377.0 L1244.8,377.8 L1246.0,378.7 L1247.2,379.5 L1248.5,380.3 L1249.7,381.2 L1251.0,382.0 L1252.2,382.9 L1253.4,383.7 L1254.7,384.5 L1255.9,385.4 L1257.1,386.3 L1258.3,387.1 L1259.6,388.0 L1260.8,388.9 L1262.0,389.8 L1263.1,390.7 L1264.3,391.6 L1265.5,392.5 L1266.7,393.4" stroke="#0000ff" stroke-dasharray="26.5 37" stroke-dashoffset="43.98"/>
<path d="M1265.5,392.5 L1266.7,393.4 L1267.8,394.4 L1269.0,395.3 L1270.2,396.3 L1271.3,397.2 L1272.5,398.2 L1273.6,399.1 L1274.7,400.1 L1275.9,401.1 L1277.0,402.1 L1278.1,403.1 L1279.3,404.1 L1280.4,405.1 L1281.5,406.1 L1282.7,407.1 L1283.8,408.1 L1284.9,409.1 L1286.0,410.1 L1287.2,411.1 L1288.3,412.1 L1289.4,413.1 L1290.5,414.1 L1291.7,415.1 L1292.8,416.1 L1293.9,417.1 L1295.0,418.2 L1296.2,419.2 L1297.3,420.2 L1298.4,421.2 L1299.5,422.3 L1300.6,423.3" stroke="#0000ff" stroke-dasharray="26.5 37" stroke-dashoffset="0.97"/>
<path d="M1299.5,422.3 L1300.6,423.3 L1301.7,424.3 L1302.8,425.4 L1303.9,426.4 L1304.9,427.5 L1306.0,428.6 L1307.1,429.6 L1308.1,430.7 L1309.2,431.8 L1310.2,432.9 L1311.2,434.0 L1312.2,435.1 L1313.2,436.2 L1314.2,437.3 L1315.2,438.5 L1316.2,439.6 L1317.1,440.8 L1318.0,441.9 L1319.0,443.1 L1319.9,444.3 L1320.8,445.5 L1321.6,446.7 L1322.5,447.9 L1323.4,449.1 L1324.2,450.3 L1325.0,451.6 L1325.8,452.8 L1326.6,454.1" stroke="#0000ff" stroke-dasharray="26.5 37" stroke-dashoffset="40.92"/>
<path d="M1325.8,452.8 L1326.6,454.1 L1327.4,455.4 L1328.1,456.6 L1328.9,457.9 L1329.6,459.2 L1330.3,460.5 L1331.0,461.9 L1331.7,463.2 L1332.4,464.5 L1333.1,465.8 L1333.7,467.2 L1334.4,468.5 L1335.1,469.9 L1335.7,471.2 L1336.4,472.5 L1337.1,473.9 L1337.7,475.2 L1338.4,476.6 L1339.1,477.9" stroke="#0000ff" stroke-dasharray="26.5 37" stroke-dashoffset="7.10"/>
<path d="M1338.4,476.6 L1339.1,477.9 L1339.7,479.3 L1340.4,480.6 L1341.1,481.9 L1341.7,483.3 L1342.4,484.6 L1343.1,486.0 L1343.7,487.3 L1344.4,488.7 L1345.1,490.0 L1345.7,491.4 L1346.4,492.7 L1347.1,494.1" stroke="#0000ff" stroke-dasharray="26.5 37" stroke-dashoffset="56.00"/>
<path d="M1346.4,492.7 L1347.1,494.1 L1347.7,495.4 L1348.4,496.7 L1349.1,498.1 L1349.7,499.4 L1350.4,500.8 L1351.1,502.1 L1351.7,503.5 L1352.4,504.8 L1353.1,506.2 L1353.7,507.5 L1354.4,508.9 L1355.0,510.2 L1355.7,511.6 L1356.4,512.9 L1357.0,514.3 L1357.7,515.6 L1358.3,517.0 L1359.0,518.3 L1359.6,519.7 L1360.3,521.1 L1360.9,522.4" stroke="#0000ff" stroke-dasharray="26.5 37" stroke-dashoffset="15.98"/>
<path d="M1360.3,521.1 L1360.9,522.4 L1361.6,523.8 L1362.2,525.1 L1362.9,526.5 L1363.5,527.8 L1364.2,529.2 L1364.8,530.5 L1365.5,531.9 L1366.1,533.3 L1366.8,534.6 L1367.4,536.0 L1368.0,537.4 L1368.7,538.7 L1369.3,540.1 L1369.9,541.4 L1370.6,542.8 L1371.2,544.2 L1371.8,545.5 L1372.5,546.9 L1373.1,548.3 L1373.7,549.6 L1374.3,551.0 L1374.9,552.4 L1375.5,553.7 L1376.2,555.1 L1376.8,556.5 L1377.4,557.9 L1378.0,559.2 L1378.6,560.6 L1379.2,562.0" stroke="#0000ff" stroke-dasharray="26.5 37" stroke-dashoffset="42.46"/>
<path d="M1378.6,560.6 L1379.2,562.0 L1379.8,563.4 L1380.4,564.7 L1381.0,566.1 L1381.6,567.5 L1382.2,568.9 L1382.7,570.3 L1383.3,571.6 L1383.9,573.0 L1384.5,574.4 L1385.1,575.8 L1385.6,577.2 L1386.2,578.6 L1386.8,580.0 L1387.3,581.4 L1387.9,582.7 L1388.5,584.1 L1389.0,585.5 L1389.6,586.9 L1390.1,588.3 L1390.7,589.7 L1391.2,591.1 L1391.7,592.5 L1392.3,593.9 L1392.8,595.3 L1393.3,596.7 L1393.9,598.1 L1394.4,599.5 L1394.9,600.9 L1395.4,602.3 L1396.0,603.7" stroke="#0000ff" stroke-dasharray="26.5 37" stroke-dashoffset="0.99"/>
<path d="M1395.4,602.3 L1396.0,603.7 L1396.5,605.2 L1397.0,606.6 L1397.5,608.0 L1398.0,609.4 L1398.5,610.8 L1399.0,612.2 L1399.5,613.6 L1400.0,615.0 L1400.5,616.5 L1400.9,617.9 L1401.4,619.3 L1401.9,620.7 L1402.4,622.1 L1402.9,623.6 L1403.3,625.0 L1403.8,626.4 L1404.3,627.8 L1404.7,629.3 L1405.2,630.7 L1405.7,632.1 L1406.1,633.5" stroke="#0000ff" stroke-dasharray="26.5 37" stroke-dashoffset="42.51"/>
<path d="M1405.7,632.1 L1406.1,633.5 L1406.6,635.0 L1407.0,636.4 L1407.5,637.8 L1407.9,639.3 L1408.4,640.7 L1408.8,642.1 L1409.3,643.5 L1409.7,645.0 L1410.2,646.4 L1410.6,647.9 L1411.0,649.3 L1411.5,650.7 L1411.9,652.2 L1412.3,653.6 L1412.7,655.0 L1413.2,656.5 L1413.6,657.9 L1414.0,659.4 L1414.4,660.8 L1414.8,662.2 L1415.3,663.7 L1415.7,665.1" stroke="#0000ff" stroke-dasharray="26.5 37" stroke-dashoffset="14.50"/>
<path d="M1415.3,663.7 L1415.7,665.1 L1416.1,666.6 L1416.5,668.0 L1416.9,669.5 L1417.3,670.9 L1417.7,672.4 L1418.1,673.8 L1418.5,675.3 L1418.9,676.7 L1419.3,678.2 L1419.7,679.6 L1420.1,681.1 L1420.5,682.5 L1420.9,684.0 L1421.3,685.4 L1421.6,686.9 L1422.0,688.3 L1422.4,689.8 L1422.8,691.2 L1423.2,692.7 L1423.6,694.1 L1423.9,695.6" stroke="#0000ff" stroke-dasharray="26.5 37" stroke-dashoffset="42.48"/>
<path d="M1423.6,694.1 L1423.9,695.6 L1424.3,697.0 L1424.7,698.5 L1425.1,699.9 L1425.4,701.4 L1425.8,702.9 L1426.2,704.3 L1426.5,705.8 L1426.9,707.2 L1427.3,708.7 L1427.6,710.1 L1428.0,711.6 L1428.4,713.1 L1428.7,714.5 L1429.1,716.0 L1429.5,717.4 L1429.8,718.9 L1430.2,720.4 L1430.5,721.8 L1430.9,723.3 L1431.2,724.7 L1431.6,726.2" stroke="#0000ff" stroke-dasharray="26.5 37" stroke-dashoffset="15.97"/>
<path d="M1431.2,724.7 L1431.6,726.2 L1432.0,727.7 L1432.3,729.1 L1432.7,730.6 L1433.0,732.0 L1433.4,733.5 L1433.7,735.0 L1434.1,736.4 L1434.4,737.9 L1434.8,739.4 L1435.1,740.8 L1435.5,742.3 L1435.8,743.7 L1436.2,745.2 L1436.5,746.7 L1436.8,748.1 L1437.2,749.6 L1437.5,751.1 L1437.9,752.5 L1438.2,754.0 L1438.6,755.4 L1438.9,756.9" stroke="#0000ff" stroke-dasharray="26.5 37" stroke-dashoffset="42.46"/>
<path d="M1438.6,755.4 L1438.9,756.9 L1439.2,758.4 L1439.6,759.8 L1439.9,761.3 L1440.2,762.8 L1440.6,764.2 L1440.9,765.7 L1441.2,767.2 L1441.6,768.6 L1441.9,770.1 L1442.2,771.6 L1442.5,773.0 L1442.9,774.5 L1443.2,776.0 L1443.5,777.4 L1443.8,778.9 L1444.1,780.4 L1444.4,781.8 L1444.7,783.3 L1445.0,784.8 L1445.4,786.2 L1445.7,787.7" stroke="#0000ff" stroke-dasharray="26.5 37" stroke-dashoffset="14.48"/>
<path d="M1445.4,786.2 L1445.7,787.7 L1446.0,789.2 L1446.3,790.6 L1446.5,792.1 L1446.8,793.6 L1447.1,795.1 L1447.4,796.5 L1447.7,798.0 L1448.0,799.5 L1448.3,800.9 L1448.5,802.4 L1448.8,803.9 L1449.1,805.4 L1449.4,806.8 L1449.6,808.3 L1449.9,809.8 L1450.1,811.3 L1450.4,812.7 L1450.6,814.2 L1450.9,815.7 L1451.1,817.2 L1451.4,818.6 L1451.6,820.1" stroke="#0000ff" stroke-dasharray="26.5 37" stroke-dashoffset="41.01"/>
<path d="M1451.4,818.6 L1451.6,820.1 L1451.9,821.6 L1452.1,823.1 L1452.3,824.6 L1452.5,826.0 L1452.8,827.5 L1453.0,829.0 L1453.2,830.5 L1453.4,832.0 L1453.6,833.5 L1453.8,834.9 L1454.0,836.4 L1454.2,837.9 L1454.4,839.4 L1454.5,840.9 L1454.7,842.4 L1454.9,843.9 L1455.1,845.3 L1455.2,846.8 L1455.4,848.3 L1455.5,849.8 L1455.7,851.3 L1455.8,852.8" stroke="#0000ff" stroke-dasharray="26.5 37" stroke-dashoffset="14.53"/>
<path d="M1455.7,851.3 L1455.8,852.8 L1456.0,854.3 L1456.1,855.8 L1456.3,857.3 L1456.4,858.8 L1456.5,860.3 L1456.6,861.8 L1456.7,863.3 L1456.8,864.8 L1456.9,866.3 L1457.0,867.8 L1457.1,869.3 L1457.2,870.8 L1457.3,872.3 L1457.3,873.8 L1457.4,875.3 L1457.5,876.8 L1457.5,878.3 L1457.6,879.8 L1457.6,881.3 L1457.7,882.8 L1457.7,884.3 L1457.7,885.8 L1457.7,887.3 L1457.8,888.8 L1457.8,890.3 L1457.8,891.8 L1457.8,893.4 L1457.7,894.9 L1457.7,896.4 L1457.7,897.9" stroke="#0000ff" stroke-dasharray="26.5 37" stroke-dashoffset="42.50"/>
<path d="M266.0,999.6 L267.3,1000.0 L268.5,1000.5 L269.8,1001.0 L271.1,1001.5 L272.3,1002.1 L273.6,1002.8 L274.9,1003.4 L276.2,1004.1 L277.5,1004.8 L278.9,1005.6 L280.2,1006.3 L281.5,1007.1 L282.9,1007.9 L284.2,1008.7 L285.6,1009.4 L286.9,1010.2 L288.3,1011.0 L289.7,1011.8 L291.1,1012.6 L292.5,1013.3 L293.9,1014.1 L295.3,1014.8 L296.8,1015.5 L298.2,1016.2 L299.7,1016.8 L301.1,1017.4 L302.6,1018.0 L304.1,1018.5 L305.6,1018.9 L307.1,1019.4 L308.6,1019.7 L310.1,1020.0 L311.6,1020.3 L313.2,1020.5 L314.7,1020.6 L316.3,1020.7 L317.8,1020.7 L319.3,1020.6 L320.8,1020.5 L322.3,1020.3 L323.7,1020.0 L325.1,1019.6 L326.5,1019.2 L327.8,1018.7 L329.1,1018.2 L330.3,1017.5 L331.4,1016.8 L332.5,1016.0 L333.5,1015.2 L334.5,1014.3 L335.3,1013.3 L336.1,1012.2 L336.8,1011.1 L337.5,1009.9 L338.1,1008.6 L338.6,1007.3 L339.1,1006.0 L339.6,1004.6 L340.0,1003.2 L340.3,1001.7 L340.7,1000.2 L341.0,998.7 L341.2,997.2 L341.5,995.6 L341.7,994.0 L341.9,992.4 L342.1,990.9 L342.2,989.3 L342.4,987.7 L342.5,986.1 L342.7,984.5 L342.8,982.9 L343.0,981.3 L343.1,979.8 L343.3,978.2 L343.4,976.7 L343.6,975.1 L343.7,973.6 L343.9,972.0 L344.0,970.5 L344.1,969.0 L344.3,967.5 L344.4,966.0 L344.5,964.4 L344.7,962.9 L344.8,961.4 L344.9,959.9 L345.0,958.4 L345.2,956.9 L345.3,955.4 L345.4,953.9 L345.5,952.5 L345.7,951.0 L345.8,949.5 L345.9,948.0 L346.0,946.5 L346.2,945.0 L346.3,943.5 L346.4,942.0 L346.5,940.6 L346.7,939.1 L346.8,937.6 L346.9,936.1 L347.0,934.6 L347.2,933.1 L347.3,931.6 L347.4,930.1 L347.5,928.7 L347.7,927.2 L347.8,925.7 L347.9,924.2 L348.0,922.7 L348.2,921.2 L348.3,919.7 L348.4,918.2 L348.5,916.8 L348.7,915.3 L348.8,913.8 L348.9,912.3 L349.0,910.8 L349.2,909.3 L349.3,907.8 L349.4,906.3 L349.5,904.8 L349.7,903.4 L349.8,901.9 L349.9,900.4 L350.0,898.9 L350.2,897.4 L350.3,895.9 L350.4,894.4 L350.5,892.9 L350.7,891.4 L350.8,890.0 L350.9,888.5 L351.0,887.0 L351.1,885.5 L351.3,884.0 L351.4,882.5 L351.5,881.0 L351.6,879.5 L351.8,878.0 L351.9,876.5 L352.0,875.1 L352.1,873.6 L352.3,872.1 L352.4,870.6 L352.5,869.1 L352.6,867.6 L352.8,866.1 L352.9,864.6 L353.0,863.1 L353.1,861.6 L353.3,860.2 L353.4,858.7 L353.5,857.2 L353.6,855.7 L353.8,854.2 L353.9,852.7 L354.0,851.2 L354.1,849.7 L354.2,848.2 L354.4,846.7 L354.5,845.2 L354.6,843.7 L354.7,842.3 L354.9,840.8 L355.0,839.3 L355.1,837.8 L355.2,836.3 L355.4,834.8 L355.5,833.3 L355.6,831.8 L355.7,830.3 L355.9,828.8 L356.0,827.3 L356.1,825.8 L356.2,824.3 L356.3,822.9 L356.5,821.4 L356.6,819.9 L356.7,818.4 L356.8,816.9 L357.0,815.4 L357.1,813.9 L357.2,812.4 L357.3,810.9 L357.4,809.4 L357.6,807.9 L357.7,806.4 L357.8,804.9 L357.9,803.4 L358.1,802.0 L358.2,800.5 L358.3,799.0 L358.4,797.5 L358.5,796.0 L358.7,794.5 L358.8,793.0 L358.9,791.5 L359.0,790.0 L359.2,788.5 L359.3,787.0 L359.4,785.5 L359.5,784.0 L359.6,782.5 L359.8,781.0 L359.9,779.5 L360.0,778.0 L360.1,776.6 L360.2,775.1 L360.4,773.6 L360.5,772.1 L360.6,770.6 L360.7,769.1 L360.8,767.6 L361.0,766.1 L361.1,764.6 L361.2,763.1 L361.3,761.6 L361.4,760.1 L361.6,758.6 L361.7,757.1 L361.8,755.6 L361.9,754.1 L362.0,752.6 L362.2,751.1 L362.3,749.6 L362.4,748.2 L362.5,746.7 L362.6,745.2 L362.8,743.7 L362.9,742.2 L363.0,740.7 L363.1,739.2 L363.2,737.7 L363.3,736.2 L363.5,734.7 L363.6,733.2 L363.7,731.7 L363.8,730.2 L363.9,728.7 L364.1,727.2 L364.2,725.7 L364.3,724.2 L364.4,722.7 L364.5,721.2 L364.6,719.7 L364.8,718.2 L364.9,716.7 L365.0,715.2 L365.1,713.7 L365.2,712.2 L365.3,710.7 L365.5,709.3 L365.6,707.8 L365.7,706.3 L365.8,704.8 L365.9,703.3 L366.0,701.8 L366.1,700.3 L366.3,698.8 L366.4,697.3 L366.5,695.8 L366.6,694.3 L366.7,692.8 L366.8,691.3 L366.9,689.8 L367.1,688.3 L367.2,686.8 L367.3,685.3 L367.4,683.8 L367.5,682.3 L367.6,680.8 L367.7,679.3 L367.9,677.8 L368.0,676.3 L368.1,674.8 L368.2,673.3 L368.3,671.8 L368.4,670.3 L368.5,668.8 L368.6,667.3 L368.8,665.8 L368.9,664.3 L369.0,662.8 L369.1,661.3 L369.2,659.8 L369.3,658.3 L369.4,656.8 L369.5,655.3 L369.6,653.8 L369.8,652.3 L369.9,650.8 L370.0,649.4 L370.1,647.9 L370.2,646.4 L370.3,644.9 L370.4,643.4 L370.5,641.9 L370.6,640.4 L370.7,638.9 L370.9,637.4 L371.0,635.9 L371.1,634.4 L371.2,632.9 L371.3,631.4 L371.4,629.9 L371.5,628.4 L371.6,626.9 L371.7,625.4 L371.8,623.9 L371.9,622.4 L372.0,620.9 L372.1,619.4 L372.2,617.9 L372.4,616.4 L372.5,614.9 L372.6,613.4 L372.7,611.9 L372.8,610.4 L372.9,608.9 L373.0,607.4 L373.1,605.9 L373.2,604.4 L373.3,602.9 L373.4,601.4 L373.5,599.9 L373.6,598.4 L373.7,596.9 L373.8,595.4 L373.9,593.9 L374.0,592.4 L374.1,590.9 L374.2,589.4 L374.3,587.9 L374.4,586.4 L374.5,584.9 L374.6,583.4 L374.7,581.9 L374.9,580.4 L375.0,578.9 L375.1,577.4 L375.2,575.9 L375.3,574.4 L375.4,572.9 L375.5,571.4 L375.6,569.9 L375.7,568.4 L375.8,566.9 L375.9,565.4 L376.0,563.9 L376.1,562.4 L376.2,560.9 L376.3,559.4 L376.4,557.9 L376.5,556.4 L376.6,554.9 L376.7,553.4 L376.8,551.9 L376.9,550.4 L377.0,548.9 L377.1,547.4 L377.2,545.9 L377.3,544.4 L377.4,542.9 L377.5,541.4 L377.6,539.9 L377.7,538.4 L377.8,536.9 L377.9,535.4 L377.9,533.9 L378.0,532.4 L378.1,530.9 L378.2,529.4 L378.3,527.9 L378.4,526.4 L378.5,524.9 L378.6,523.4 L378.7,521.9 L378.8,520.4 L378.9,518.9 L379.0,517.4 L379.1,515.9 L379.2,514.4 L379.3,512.9 L379.4,511.4 L379.5,509.9 L379.6,508.4 L379.7,506.9 L379.8,505.4 L379.9,503.9 L380.0,502.4 L380.1,500.9 L380.2,499.4 L380.3,497.9 L380.4,496.4 L380.5,494.9 L380.6,493.4 L380.7,491.9 L380.8,490.4 L380.9,488.9 L381.0,487.4 L381.1,485.9 L381.1,484.4 L381.2,482.9 L381.3,481.4 L381.4,479.9 L381.5,478.4 L381.6,476.9 L381.7,475.4 L381.8,473.9 L381.9,472.4 L382.0,470.9 L382.1,469.4 L382.2,467.9 L382.3,466.4 L382.4,464.9 L382.5,463.4 L382.6,461.9 L382.7,460.4 L382.8,458.9 L382.9,457.4 L383.0,455.9 L383.1,454.4 L383.2,452.9 L383.3,451.4 L383.3,449.9 L383.4,448.4 L383.5,446.9 L383.6,445.4 L383.7,443.9 L383.8,442.4 L383.9,440.9 L384.0,439.4 L384.1,437.9 L384.2,436.4 L384.3,435.0 L384.4,433.5 L384.5,432.0 L384.6,430.5 L384.7,429.0 L384.8,427.5 L384.9,426.0 L385.0,424.5 L385.1,423.0 L385.2,421.5 L385.3,420.0 L385.4,418.5 L385.5,417.0 L385.6,415.5 L385.6,414.0 L385.7,412.5 L385.8,411.0 L385.9,409.5 L386.0,408.0 L386.1,406.5 L386.2,405.0 L386.3,403.5 L386.4,402.0 L386.5,400.5 L386.6,399.0 L386.7,397.5 L386.8,396.0 L386.9,394.5 L387.0,393.0 L387.1,391.5 L387.2,390.0 L387.3,388.5 L387.4,387.0 L387.5,385.5 L387.6,384.0 L387.7,382.5 L387.8,381.0 L387.9,379.5 L388.0,378.0 L388.1,376.5 L388.2,375.0 L388.3,373.5 L388.4,372.1 L388.5,370.6 L388.6,369.1 L388.7,367.6 L388.8,366.1 L388.9,364.6 L389.0,363.1 L389.1,361.6 L389.2,360.1 L389.3,358.6 L389.4,357.1 L389.5,355.6 L389.6,354.1 L389.7,352.6 L389.8,351.1 L389.9,349.6 L390.0,348.1 L390.1,346.6 L390.2,345.1 L390.3,343.6 L390.4,342.1 L390.5,340.6 L390.6,339.1 L390.7,337.6 L390.8,336.2 L390.9,334.7 L391.0,333.2 L391.1,331.7 L391.2,330.2 L391.3,328.7 L391.4,327.2 L391.5,325.7 L391.6,324.2 L391.7,322.7 L391.8,321.2 L391.9,319.7 L392.0,318.2 L392.1,316.7 L392.2,315.2 L392.3,313.7 L392.4,312.2 L392.5,310.8 L392.6,309.3 L392.7,307.8 L392.8,306.3 L392.9,304.8 L393.0,303.3 L393.1,301.8 L393.2,300.3 L393.3,298.8 L393.4,297.3 L393.5,295.8 L393.6,294.3 L393.7,292.8 L393.9,291.3 L394.0,289.8 L394.1,288.4 L394.2,286.9 L394.3,285.4 L394.4,283.9 L394.5,282.4 L394.6,280.9 L394.7,279.4 L394.8,277.9 L394.9,276.4 L395.0,274.9 L395.1,273.4 L395.3,271.9 L395.4,270.5 L395.5,269.0 L395.6,267.5 L395.7,266.0 L395.8,264.5 L395.9,263.0 L396.0,261.5 L396.1,260.0 L396.2,258.5 L396.3,257.0 L396.5,255.5 L396.6,254.1 L396.7,252.6 L396.8,251.1 L396.9,249.6 L397.0,248.1 L397.1,246.6 L397.2,245.1 L397.4,243.6 L397.5,242.1 L397.6,240.7 L397.7,239.2 L397.8,237.7 L397.9,236.2 L398.0,234.7 L398.2,233.2 L398.3,231.7 L398.4,230.2 L398.5,228.7 L398.6,227.3 L398.7,225.8 L398.8,224.3 L399.0,222.8 L399.1,221.3 L399.2,219.8 L399.3,218.3 L399.4,216.8 L399.6,215.4 L399.7,213.9 L399.8,212.4 L399.9,210.9 L400.0,209.4 L400.1,207.9 L400.3,206.4 L400.4,204.9 L400.5,203.5 L400.6,202.0 L400.7,200.5 L400.9,199.0 L401.0,197.5 L401.1,196.0 L401.2,194.5 L401.4,193.1 L401.5,191.6 L401.6,190.1 L401.7,188.6 L401.8,187.1 L402.0,185.6 L402.1,184.1 L402.2,182.6 L402.3,181.1 L402.5,179.7 L402.6,178.2 L402.7,176.7 L402.8,175.2 L403.0,173.7 L403.1,172.2 L403.2,170.7 L403.3,169.2 L403.5,167.7 L403.6,166.2 L403.7,164.7 L403.8,163.2 L404.0,161.7 L404.1,160.2 L404.2,158.7 L404.4,157.2 L404.5,155.7 L404.6,154.1 L404.7,152.6 L404.9,151.1 L405.0,149.6 L405.1,148.1 L405.3,146.6 L405.4,145.0 L405.5,143.5 L405.6,142.0 L405.8,140.4 L405.9,138.9 L406.0,137.4 L406.2,135.8 L406.3,134.3 L406.4,132.8 L406.5,131.2 L406.7,129.7 L406.8,128.1 L406.9,126.6 L407.1,125.0 L407.2,123.5 L407.3,121.9 L407.5,120.3 L407.6,118.8 L407.7,117.2 L407.9,115.6 L408.0,114.1 L408.2,112.5 L408.3,110.9 L408.5,109.4 L408.7,107.8 L408.9,106.3 L409.2,104.8 L409.4,103.3 L409.7,101.8 L410.0,100.3 L410.4,98.9 L410.8,97.4 L411.2,96.0 L411.7,94.7 L412.2,93.3 L412.8,92.0 L413.4,90.7 L414.1,89.4 L414.9,88.2 L415.6,87.0 L416.5,85.8 L417.4,84.7 L418.4,83.6 L419.4,82.6 L420.5,81.6 L421.7,80.8 L422.8,79.9 L424.1,79.2 L425.3,78.6 L426.5,78.1 L427.8,77.6 L429.1,77.3 L430.4,77.1 L431.7,77.0 L433.0,77.0 L434.3,77.1 L435.6,77.2 L437.0,77.4 L438.3,77.7 L439.7,78.1 L441.0,78.5 L442.4,79.0 L443.8,79.6 L445.2,80.2 L446.5,80.8 L447.9,81.5 L449.3,82.2 L450.7,82.9 L452.1,83.6 L453.5,84.4 L454.9,85.2 L456.3,86.0 L457.8,86.8 L459.2,87.6 L460.6,88.4 L462.0,89.2 L463.4,90.0 L464.8,90.7 L466.2,91.5 L467.6,92.2 L469.0,92.9 L470.4,93.6 L471.8,94.2 L473.2,94.9 L474.6,95.5 L476.0,96.1 L477.4,96.7 L478.8,97.3 L480.2,97.9 L481.5,98.4 L482.9,99.0 L484.3,99.5 L485.7,100.0 L487.1,100.6 L488.5,101.1 L489.9,101.6 L491.3,102.1 L492.7,102.5 L494.1,103.0 L495.4,103.5 L496.8,104.0 L498.2,104.4 L499.6,104.9 L501.0,105.3 L502.4,105.8 L503.8,106.2 L505.2,106.6 L506.6,107.1 L508.0,107.5 L509.4,108.0 L510.8,108.4 L512.2,108.8 L513.6,109.3 L515.0,109.7 L516.4,110.2 L517.8,110.6 L519.3,111.0 L520.7,111.5 L522.1,111.9 L523.5,112.4 L524.9,112.8 L526.3,113.2 L527.8,113.7 L529.2,114.1 L530.6,114.6 L532.0,115.0 L533.4,115.4 L534.9,115.9 L536.3,116.3 L537.7,116.8 L539.1,117.2 L540.6,117.7 L542.0,118.1 L543.4,118.5 L544.8,119.0 L546.3,119.4 L547.7,119.9 L549.1,120.3 L550.6,120.8 L552.0,121.2 L553.4,121.7 L554.9,122.1 L556.3,122.5 L557.7,123.0 L559.2,123.4 L560.6,123.9 L562.0,124.3 L563.5,124.8 L564.9,125.2 L566.3,125.7 L567.8,126.2 L569.2,126.6 L570.6,127.1 L572.1,127.5 L573.5,128.0 L575.0,128.4 L576.4,128.9 L577.8,129.4 L579.3,129.8 L580.7,130.3 L582.1,130.7 L583.6,131.2 L585.0,131.7 L586.4,132.1 L587.9,132.6 L589.3,133.1 L590.7,133.6 L592.2,134.0 L593.6,134.5 L595.0,135.0 L596.4,135.5 L597.9,135.9 L599.3,136.4 L600.7,136.9 L602.2,137.4 L603.6,137.9 L605.0,138.3 L606.4,138.8 L607.9,139.3 L609.3,139.8 L610.7,140.3 L612.1,140.8 L613.6,141.3 L615.0,141.8 L616.4,142.3 L617.8,142.8 L619.2,143.3 L620.6,143.8 L622.1,144.3 L623.5,144.8 L624.9,145.3 L626.3,145.8 L627.7,146.3 L629.1,146.8 L630.6,147.3 L632.0,147.9 L633.4,148.4 L634.8,148.9 L636.2,149.4 L637.6,149.9 L639.0,150.4 L640.4,151.0 L641.8,151.5 L643.2,152.0 L644.7,152.5 L646.1,153.0 L647.5,153.6 L648.9,154.1 L650.3,154.6 L651.7,155.2 L653.1,155.7 L654.5,156.2 L655.9,156.8 L657.3,157.3 L658.7,157.8 L660.1,158.4 L661.5,158.9 L662.9,159.4 L664.3,160.0 L665.7,160.5 L667.1,161.1 L668.5,161.6 L669.9,162.2 L671.3,162.7 L672.7,163.3 L674.1,163.8 L675.5,164.4 L676.9,164.9 L678.3,165.5 L679.7,166.0 L681.0,166.6 L682.4,167.1 L683.8,167.7 L685.2,168.2 L686.6,168.8 L688.0,169.3 L689.4,169.9 L690.8,170.5 L692.2,171.0 L693.6,171.6 L695.0,172.2 L696.3,172.7 L697.7,173.3 L699.1,173.8 L700.5,174.4 L701.9,175.0 L703.3,175.6 L704.7,176.1 L706.1,176.7 L707.4,177.3 L708.8,177.8 L710.2,178.4 L711.6,179.0 L713.0,179.6 L714.4,180.1 L715.7,180.7 L717.1,181.3 L718.5,181.9 L719.9,182.4 L721.3,183.0 L722.7,183.6 L724.0,184.2 L725.4,184.8 L726.8,185.4 L728.2,185.9 L729.6,186.5 L730.9,187.1 L732.3,187.7 L733.7,188.3 L735.1,188.9 L736.5,189.5 L737.8,190.0 L739.2,190.6 L740.6,191.2 L742.0,191.8 L743.3,192.4 L744.7,193.0 L746.1,193.6 L747.5,194.2 L748.9,194.8 L750.2,195.4 L751.6,196.0 L753.0,196.6 L754.4,197.2 L755.7,197.8 L757.1,198.4 L758.5,199.0 L759.9,199.5 L761.2,200.1 L762.6,200.7 L764.0,201.3 L765.4,201.9 L766.7,202.5 L768.1,203.2 L769.5,203.8 L770.8,204.4 L772.2,205.0 L773.6,205.6 L775.0,206.2 L776.3,206.8 L777.7,207.4 L779.1,208.0 L780.5,208.6 L781.8,209.2 L783.2,209.8 L784.6,210.4 L785.9,211.0 L787.3,211.6 L788.7,212.2 L790.1,212.8 L791.4,213.4 L792.8,214.1 L794.2,214.7 L795.6,215.3 L796.9,215.9 L798.3,216.5 L799.7,217.1 L801.0,217.7 L802.4,218.3 L803.8,218.9 L805.1,219.6 L806.5,220.2 L807.9,220.8 L809.3,221.4 L810.6,222.0 L812.0,222.6 L813.4,223.2 L814.7,223.8 L816.1,224.5 L817.5,225.1 L818.8,225.7 L820.2,226.3 L821.6,226.9 L823.0,227.5 L824.3,228.2 L825.7,228.8 L827.1,229.4 L828.4,230.0 L829.8,230.6 L831.2,231.3 L832.5,231.9 L833.9,232.5 L835.3,233.1 L836.6,233.7 L838.0,234.4 L839.4,235.0 L840.7,235.6 L842.1,236.2 L843.5,236.9 L844.8,237.5 L846.2,238.1 L847.6,238.7 L848.9,239.3 L850.3,240.0 L851.7,240.6 L853.0,241.2 L854.4,241.8 L855.8,242.5 L857.1,243.1 L858.5,243.7 L859.9,244.4 L861.2,245.0 L862.6,245.6 L864.0,246.2 L865.3,246.9 L866.7,247.5 L868.0,248.1 L869.4,248.7 L870.8,249.4 L872.1,250.0 L873.5,250.6 L874.9,251.3 L876.2,251.9 L877.6,252.5 L879.0,253.2 L880.3,253.8 L881.7,254.4 L883.0,255.1 L884.4,255.7 L885.8,256.3 L887.1,257.0 L888.5,257.6 L889.9,258.2 L891.2,258.9 L892.6,259.5 L893.9,260.1 L895.3,260.8 L896.7,261.4 L898.0,262.0 L899.4,262.7 L900.7,263.3 L902.1,263.9 L903.5,264.6 L904.8,265.2 L906.2,265.8 L907.5,266.5 L908.9,267.1 L910.3,267.8 L911.6,268.4 L913.0,269.0 L914.3,269.7 L915.7,270.3 L917.0,270.9 L918.4,271.6 L919.8,272.2 L921.1,272.9 L922.5,273.5 L923.8,274.1 L925.2,274.8 L926.5,275.4 L927.9,276.1 L929.3,276.7 L930.6,277.3 L932.0,278.0 L933.3,278.6 L934.7,279.3 L936.0,279.9 L937.4,280.6 L938.8,281.2 L940.1,281.8 L941.5,282.5 L942.8,283.1 L944.2,283.8 L945.5,284.4 L946.9,285.1 L948.2,285.7 L949.6,286.4 L950.9,287.0 L952.3,287.6 L953.6,288.3 L955.0,288.9 L956.4,289.6 L957.7,290.2 L959.1,290.9 L960.4,291.5 L961.8,292.2 L963.1,292.8 L964.5,293.5 L965.8,294.1 L967.2,294.8 L968.5,295.4 L969.9,296.1 L971.2,296.7 L972.6,297.3 L973.9,298.0 L975.3,298.6 L976.6,299.3 L978.0,299.9 L979.3,300.6 L980.7,301.2 L982.0,301.9 L983.4,302.5 L984.7,303.2 L986.1,303.8 L987.4,304.5 L988.7,305.2 L990.1,305.8 L991.4,306.5 L992.8,307.1 L994.1,307.8 L995.5,308.4 L996.8,309.1 L998.2,309.7 L999.5,310.4 L1000.9,311.0 L1002.2,311.7 L1003.6,312.4 L1004.9,313.0 L1006.2,313.7 L1007.6,314.3 L1008.9,315.0 L1010.3,315.6 L1011.6,316.3 L1013.0,317.0 L1014.3,317.6 L1015.7,318.3 L1017.0,319.0 L1018.3,319.6 L1019.7,320.3 L1021.0,320.9 L1022.4,321.6 L1023.7,322.3 L1025.0,322.9 L1026.4,323.6 L1027.7,324.3 L1029.1,324.9 L1030.4,325.6 L1031.7,326.3 L1033.1,327.0 L1034.4,327.6 L1035.8,328.3 L1037.1,329.0 L1038.4,329.7 L1039.8,330.3 L1041.1,331.0 L1042.5,331.7 L1043.8,332.4 L1045.1,333.0 L1046.5,333.7 L1047.8,334.4 L1049.1,335.1 L1050.5,335.8 L1051.8,336.5 L1053.2,337.1 L1054.5,337.8 L1055.8,338.5 L1057.2,339.2 L1058.5,339.9 L1059.8,340.6 L1061.2,341.3 L1062.5,342.0 L1063.8,342.7 L1065.2,343.3 L1066.5,344.0 L1067.8,344.7 L1069.2,345.4 L1070.5,346.1 L1071.8,346.8 L1073.2,347.5 L1074.5,348.2 L1075.8,348.9 L1077.2,349.6 L1078.5,350.3 L1079.8,351.1 L1081.2,351.8 L1082.5,352.5 L1083.8,353.2 L1085.1,353.9 L1086.5,354.6 L1087.8,355.3 L1089.1,356.1 L1090.4,356.8 L1091.8,357.5 L1093.1,358.2 L1094.4,359.0 L1095.7,359.7 L1097.0,360.4 L1098.4,361.1 L1099.7,361.9 L1101.0,362.6 L1102.3,363.4 L1103.6,364.1 L1104.9,364.8 L1106.2,365.6 L1107.5,366.3 L1108.8,367.1 L1110.1,367.8 L1111.4,368.6 L1112.7,369.4 L1114.0,370.1 L1115.3,370.9 L1116.6,371.7 L1117.9,372.4 L1119.2,373.2 L1120.5,374.0 L1121.8,374.8 L1123.1,375.5 L1124.4,376.3 L1125.6,377.1 L1126.9,377.9 L1128.2,378.7 L1129.5,379.5 L1130.7,380.3 L1132.0,381.1 L1133.3,381.9 L1134.5,382.7 L1135.8,383.5 L1137.0,384.4 L1138.3,385.2 L1139.6,386.0 L1140.8,386.8 L1142.1,387.7 L1143.3,388.5 L1144.5,389.3 L1145.8,390.2 L1147.0,391.0 L1148.2,391.9 L1149.5,392.7 L1150.7,393.6 L1151.9,394.5 L1153.1,395.3 L1154.4,396.2 L1155.6,397.1 L1156.8,398.0 L1158.0,398.8 L1159.2,399.7 L1160.4,400.6 L1161.6,401.5 L1162.8,402.4 L1164.0,403.3 L1165.1,404.3 L1166.3,405.2 L1167.5,406.1 L1168.7,407.0 L1169.8,407.9 L1171.0,408.9 L1172.2,409.8 L1173.3,410.8 L1174.5,411.7 L1175.6,412.7 L1176.8,413.6 L1177.9,414.6 L1179.0,415.6 L1180.2,416.6 L1181.3,417.5 L1182.4,418.5 L1183.5,419.5 L1184.6,420.5 L1185.7,421.5 L1186.9,422.5 L1188.0,423.5 L1189.0,424.6 L1190.1,425.6 L1191.2,426.6 L1192.3,427.6 L1193.4,428.7 L1194.5,429.7 L1195.5,430.8 L1196.6,431.8 L1197.6,432.9 L1198.7,434.0 L1199.7,435.0 L1200.8,436.1 L1201.8,437.2 L1202.9,438.3 L1203.9,439.3 L1204.9,440.4 L1205.9,441.5 L1207.0,442.6 L1208.0,443.7 L1209.0,444.9 L1210.0,446.0 L1211.0,447.1 L1212.0,448.2 L1213.0,449.3 L1214.0,450.5 L1214.9,451.6 L1215.9,452.7 L1216.9,453.9 L1217.8,455.0 L1218.8,456.2 L1219.8,457.3 L1220.7,458.5 L1221.7,459.7 L1222.6,460.8 L1223.6,462.0 L1224.5,463.2 L1225.4,464.4 L1226.3,465.6 L1227.3,466.7 L1228.2,467.9 L1229.1,469.1 L1230.0,470.3 L1230.9,471.5 L1231.8,472.7 L1232.7,473.9 L1233.6,475.2 L1234.5,476.4 L1235.3,477.6 L1236.2,478.8 L1237.1,480.0 L1238.0,481.3 L1238.8,482.5 L1239.7,483.7 L1240.5,485.0 L1241.4,486.2 L1242.2,487.5 L1243.1,488.7 L1243.9,489.9 L1244.7,491.2 L1245.5,492.5 L1246.4,493.7 L1247.2,495.0 L1248.0,496.2 L1248.8,497.5 L1249.6,498.8 L1250.4,500.1 L1251.2,501.3 L1252.0,502.6 L1252.7,503.9 L1253.5,505.2 L1254.3,506.5 L1255.1,507.7 L1255.8,509.0 L1256.6,510.3 L1257.3,511.6 L1258.1,512.9 L1258.8,514.2 L1259.6,515.5 L1260.3,516.8 L1261.0,518.1 L1261.8,519.4 L1262.5,520.7 L1263.2,522.1 L1263.9,523.4 L1264.6,524.7 L1265.4,526.0 L1266.1,527.3 L1266.8,528.6 L1267.5,530.0 L1268.2,531.3 L1268.9,532.6 L1269.5,533.9 L1270.2,535.3 L1270.9,536.6 L1271.6,537.9 L1272.3,539.3 L1272.9,540.6 L1273.6,542.0 L1274.3,543.3 L1274.9,544.6 L1275.6,546.0 L1276.3,547.3 L1276.9,548.7 L1277.6,550.0 L1278.2,551.4 L1278.9,552.7 L1279.5,554.1 L1280.2,555.4 L1280.8,556.8 L1281.5,558.1 L1282.1,559.5 L1282.7,560.8 L1283.4,562.2 L1284.0,563.6 L1284.6,564.9 L1285.3,566.3 L1285.9,567.6 L1286.5,569.0 L1287.1,570.4 L1287.8,571.7 L1288.4,573.1 L1289.0,574.5 L1289.6,575.8 L1290.3,577.2 L1290.9,578.6 L1291.5,579.9 L1292.1,581.3 L1292.7,582.7 L1293.4,584.1 L1294.0,585.4 L1294.6,586.8 L1295.2,588.2 L1295.8,589.5 L1296.4,590.9 L1297.0,592.3 L1297.7,593.7 L1298.3,595.0 L1298.9,596.4 L1299.5,597.8 L1300.1,599.2 L1300.7,600.5 L1301.4,601.9 L1302.0,603.3 L1302.6,604.7 L1303.2,606.0 L1303.8,607.4 L1304.4,608.8 L1305.0,610.2 L1305.6,611.6 L1306.3,612.9 L1306.9,614.3 L1307.5,615.7 L1308.1,617.1 L1308.7,618.5 L1309.3,619.8 L1309.9,621.2 L1310.5,622.6 L1311.1,624.0 L1311.7,625.4 L1312.3,626.7 L1312.9,628.1 L1313.5,629.5 L1314.1,630.9 L1314.7,632.3 L1315.3,633.7 L1315.9,635.0 L1316.5,636.4 L1317.1,637.8 L1317.7,639.2 L1318.3,640.6 L1318.9,642.0 L1319.4,643.4 L1320.0,644.8 L1320.6,646.2 L1321.2,647.6 L1321.7,648.9 L1322.3,650.3 L1322.9,651.7 L1323.4,653.1 L1324.0,654.5 L1324.6,655.9 L1325.1,657.3 L1325.7,658.7 L1326.2,660.1 L1326.8,661.5 L1327.3,662.9 L1327.8,664.3 L1328.4,665.7 L1328.9,667.1 L1329.4,668.5 L1330.0,669.9 L1330.5,671.4 L1331.0,672.8 L1331.5,674.2 L1332.0,675.6 L1332.5,677.0 L1333.0,678.4 L1333.5,679.8 L1334.0,681.2 L1334.5,682.6 L1335.0,684.1 L1335.5,685.5 L1335.9,686.9 L1336.4,688.3 L1336.9,689.7 L1337.3,691.2 L1337.8,692.6 L1338.3,694.0 L1338.7,695.4 L1339.2,696.9 L1339.6,698.3 L1340.0,699.7 L1340.5,701.2 L1340.9,702.6 L1341.3,704.0 L1341.7,705.5 L1342.1,706.9 L1342.6,708.3 L1343.0,709.8 L1343.4,711.2 L1343.8,712.6 L1344.2,714.1 L1344.6,715.5 L1344.9,717.0 L1345.3,718.4 L1345.7,719.9 L1346.1,721.3 L1346.4,722.7 L1346.8,724.2 L1347.2,725.6 L1347.5,727.1 L1347.9,728.5 L1348.2,730.0 L1348.6,731.4 L1348.9,732.9 L1349.3,734.4 L1349.6,735.8 L1350.0,737.3 L1350.3,738.7 L1350.6,740.2 L1350.9,741.6 L1351.3,743.1 L1351.6,744.6 L1351.9,746.0 L1352.2,747.5 L1352.5,748.9 L1352.8,750.4 L1353.1,751.9 L1353.4,753.3 L1353.7,754.8 L1354.0,756.3 L1354.3,757.7 L1354.6,759.2 L1354.9,760.7 L1355.1,762.1 L1355.4,763.6 L1355.7,765.1 L1356.0,766.5 L1356.2,768.0 L1356.5,769.5 L1356.8,771.0 L1357.0,772.4 L1357.3,773.9 L1357.5,775.4 L1357.8,776.9 L1358.0,778.3 L1358.3,779.8 L1358.5,781.3 L1358.8,782.8 L1359.0,784.3 L1359.3,785.7 L1359.5,787.2 L1359.7,788.7 L1359.9,790.2 L1360.2,791.7 L1360.4,793.1 L1360.6,794.6 L1360.8,796.1 L1361.1,797.6 L1361.3,799.1 L1361.5,800.6 L1361.7,802.1 L1361.9,803.5 L1362.1,805.0 L1362.3,806.5 L1362.5,808.0 L1362.7,809.5 L1362.9,811.0 L1363.1,812.5 L1363.3,814.0 L1363.5,815.4 L1363.7,816.9 L1363.9,818.4 L1364.1,819.9 L1364.3,821.4 L1364.5,822.9 L1364.7,824.4 L1364.9,825.9 L1365.0,827.4 L1365.2,828.9 L1365.4,830.4 L1365.6,831.9 L1365.8,833.4 L1365.9,834.9 L1366.1,836.3 L1366.3,837.8 L1366.4,839.3 L1366.6,840.8 L1366.8,842.3 L1367.0,843.8 L1367.1,845.3 L1367.3,846.8 L1367.4,848.3 L1367.6,849.8 L1367.8,851.3 L1367.9,852.8 L1368.1,854.3 L1368.3,855.8 L1368.4,857.3 L1368.6,858.8 L1368.7,860.3 L1368.9,861.8 L1369.0,863.3 L1369.2,864.8 L1369.3,866.3 L1369.5,867.8 L1369.7,869.3 L1369.8,870.8 L1370.0,872.3 L1370.1,873.8 L1370.3,875.3 L1370.4,876.8 L1370.6,878.3 L1370.7,879.8 L1370.9,881.3 L1371.0,882.8 L1371.1,884.3 L1371.3,885.8 L1371.4,887.3 L1371.6,888.8 L1371.7,890.3 L1371.9,891.8 L1372.0,893.3 L1372.2,894.8 L1372.3,896.3 L1372.5,897.8 L1372.6,899.3 L1372.8,900.8 L1372.9,902.3 L1373.1,903.8 L1373.2,905.3 L1373.3,906.8 L1373.5,908.3 L1373.6,909.8 L1373.8,911.3 L1373.9,912.8 L1374.1,914.3 L1374.2,915.8 L1374.4,917.3 L1374.5,918.8 L1374.7,920.3 L1374.8,921.8 L1375.0,923.3 L1375.1,924.7 L1375.3,926.2 L1375.4,927.7 L1375.6,929.2 L1375.7,930.7 L1375.9,932.2 L1376.1,933.7 L1376.2,935.2 L1376.4,936.7 L1376.5,938.2 L1376.7,939.7 L1376.8,941.2 L1377.0,942.7 L1377.2,944.2 L1377.3,945.7 L1377.5,947.2 L1377.7,948.7 L1377.8,950.1 L1378.0,951.6 L1378.2,953.1 L1378.3,954.6 L1378.5,956.1 L1378.7,957.6 L1378.8,959.1 L1379.0,960.6 L1379.2,962.1 L1379.4,963.5 L1379.6,965.0 L1379.7,966.5 L1379.9,968.0 L1380.1,969.5 L1380.3,971.0 L1380.5,972.5 L1380.7,973.9 L1380.8,975.4 L1381.0,976.9 L1381.2,978.4 L1381.4,979.9 L1381.6,981.4 L1381.8,982.8 L1382.0,984.3 L1382.2,985.8 L1382.4,987.3 L1382.6,988.8 L1382.8,990.2 L1383.0,991.7 L1383.3,993.2 L1383.5,994.7 L1383.7,996.1 L1383.9,997.6 L1384.1,999.1 L1384.3,1000.6 L1384.6,1002.0 L1384.8,1003.5" stroke="#00ff00"/>
<path d="M266.3,155.7 L267.7,155.3 L269.2,154.9 L270.6,154.5 L272.1,154.1 L273.5,153.7 L275.0,153.4 L276.4,153.0 L277.9,152.7 L279.3,152.3 L280.8,152.0 L282.2,151.7 L283.7,151.3 L285.2,151.0 L286.6,150.7 L288.1,150.4 L289.5,150.1 L291.0,149.8 L292.5,149.5 L294.0,149.3 L295.4,149.0 L296.9,148.7 L298.4,148.5 L299.9,148.2 L301.3,148.0 L302.8,147.7 L304.3,147.5 L305.8,147.2 L307.3,147.0 L308.8,146.8 L310.2,146.6 L311.7,146.4 L313.2,146.1 L314.7,145.9 L316.2,145.7 L317.7,145.5 L319.2,145.3 L320.7,145.2 L322.2,145.0 L323.7,144.8 L325.2,144.6 L326.7,144.4 L328.2,144.3 L329.7,144.1 L331.2,143.9 L332.7,143.8 L334.2,143.6 L335.7,143.4 L337.2,143.3 L338.7,143.1 L340.2,143.0 L341.7,142.8 L343.2,142.7 L344.7,142.5 L346.2,142.4 L347.7,142.2 L349.2,142.1 L350.7,141.9 L352.2,141.8 L353.8,141.7 L355.3,141.5 L356.8,141.4 L358.3,141.3 L359.8,141.1 L361.3,141.0 L362.8,140.8 L364.3,140.7 L365.8,140.6 L367.3,140.4 L368.8,140.3 L370.3,140.2 L371.9,140.0 L373.4,139.9 L374.9,139.8 L376.4,139.6 L377.9,139.5 L379.4,139.3 L380.9,139.2 L382.4,139.0 L383.9,138.9 L385.4,138.7 L386.9,138.6 L388.4,138.4 L389.9,138.3 L391.4,138.1 L392.9,138.0 L394.4,137.8 L395.9,137.7 L397.4,137.5 L398.9,137.3 L400.4,137.1 L401.9,137.0 L403.4,136.8 L404.9,136.6 L406.4,136.4 L407.9,136.2 L409.4,136.0 L410.9,135.9 L412.4,135.7 L413.9,135.4 L415.4,135.2 L416.8,135.0 L418.3,134.8 L419.8,134.6 L421.3,134.4 L422.8,134.1 L424.3,133.9 L425.7,133.6 L427.2,133.4 L428.7,133.1 L430.2,132.9 L431.6,132.6 L433.1,132.4 L434.6,132.1 L436.0,131.8 L437.5,131.5 L439.0,131.2 L440.4,130.9 L441.9,130.6 L443.4,130.3 L444.8,130.0 L446.3,129.7 L447.7,129.3 L449.2,129.0 L450.6,128.6 L452.1,128.3 L453.5,127.9 L455.0,127.5 L456.4,127.2 L457.8,126.8 L459.3,126.4 L460.7,126.0 L462.1,125.6 L463.6,125.1 L465.0,124.7 L466.4,124.3 L467.8,123.8 L469.3,123.4 L470.7,122.9 L472.1,122.5 L473.5,122.0 L474.9,121.5 L476.3,121.0 L477.7,120.5 L479.1,120.0 L480.5,119.5 L481.9,119.0 L483.3,118.4 L484.7,117.9 L486.1,117.4 L487.5,116.8 L488.9,116.3 L490.3,115.7 L491.7,115.2 L493.1,114.6 L494.5,114.0 L495.9,113.4 L497.3,112.9 L498.7,112.3 L500.0,111.7 L501.4,111.1 L502.8,110.5 L504.2,109.9 L505.6,109.3 L506.9,108.7 L508.3,108.1 L509.7,107.5 L511.1,106.8 L512.4,106.2 L513.8,105.6 L515.2,105.0 L516.6,104.3 L517.9,103.7 L519.3,103.1 L520.7,102.4 L522.0,101.8 L523.4,101.2 L524.8,100.5 L526.2,99.9 L527.5,99.2 L528.9,98.6 L530.3,97.9 L531.6,97.3 L533.0,96.7 L534.4,96.0 L535.7,95.4 L537.1,94.7 L538.5,94.1 L539.9,93.4 L541.2,92.8 L542.6,92.2 L544.0,91.5 L545.3,90.9 L546.7,90.2 L548.1,89.6 L549.5,89.0 L550.8,88.3 L552.2,87.7 L553.6,87.1 L555.0,86.5 L556.3,85.8 L557.7,85.2 L559.1,84.6 L560.5,84.0 L561.9,83.4 L563.2,82.8 L564.6,82.2 L566.0,81.6 L567.4,81.0 L568.8,80.4 L570.2,79.8 L571.5,79.2 L572.9,78.6 L574.3,78.0 L575.7,77.5 L577.1,76.9 L578.5,76.4 L579.9,75.8 L581.3,75.3 L582.7,74.7 L584.1,74.2 L585.5,73.7 L586.9,73.1 L588.3,72.6 L589.7,72.1 L591.2,71.6 L592.6,71.1 L594.0,70.6 L595.4,70.1 L596.8,69.7 L598.3,69.2 L599.7,68.7 L601.1,68.3 L602.5,67.8 L604.0,67.4 L605.4,66.9 L606.8,66.5 L608.3,66.1 L609.7,65.7 L611.1,65.2 L612.6,64.8 L614.0,64.4 L615.4,64.0 L616.9,63.6 L618.3,63.2 L619.8,62.8 L621.2,62.4 L622.7,62.0 L624.1,61.6 L625.5,61.2 L627.0,60.8 L628.4,60.4 L629.9,60.0 L631.3,59.6 L632.8,59.3 L634.2,58.9 L635.6,58.5 L637.1,58.1 L638.5,57.7 L640.0,57.3 L641.4,57.0 L642.9,56.6 L644.3,56.2 L645.8,55.8 L647.2,55.5 L648.7,55.1 L650.1,54.7 L651.6,54.4 L653.0,54.0 L654.5,53.7 L655.9,53.3 L657.4,53.0 L658.8,52.6 L660.3,52.3 L661.7,51.9 L663.2,51.6 L664.7,51.2 L666.1,50.9 L667.6,50.6 L669.0,50.3 L670.5,49.9 L672.0,49.6 L673.4,49.3 L674.9,49.0 L676.4,48.7 L677.8,48.4 L679.3,48.1 L680.8,47.8 L682.2,47.5 L683.7,47.3 L685.2,47.0 L686.7,46.7 L688.1,46.5 L689.6,46.2 L691.1,46.0 L692.6,45.7 L694.1,45.5 L695.6,45.2 L697.1,45.0 L698.5,44.8 L700.0,44.6 L701.5,44.4 L703.0,44.2 L704.5,44.0 L706.0,43.8 L707.5,43.6 L709.0,43.4 L710.5,43.2 L712.0,43.0 L713.5,42.9 L715.0,42.7 L716.5,42.6 L718.0,42.4 L719.5,42.3 L721.0,42.1 L722.5,42.0 L724.0,41.9 L725.5,41.7 L727.1,41.6 L728.6,41.5 L730.1,41.4 L731.6,41.3 L733.1,41.2 L734.6,41.1 L736.1,41.0 L737.6,41.0 L739.1,40.9 L740.7,40.8 L742.2,40.8 L743.7,40.7 L745.2,40.7 L746.7,40.6 L748.2,40.6 L749.7,40.6 L751.3,40.5 L752.8,40.5 L754.3,40.5 L755.8,40.5 L757.3,40.5 L758.8,40.5 L760.3,40.5 L761.9,40.5 L763.4,40.5 L764.9,40.5 L766.4,40.6 L767.9,40.6 L769.4,40.6 L770.9,40.7 L772.4,40.7 L774.0,40.8 L775.5,40.9 L777.0,40.9 L778.5,41.0 L780.0,41.1 L781.5,41.2 L783.0,41.3 L784.5,41.4 L786.0,41.5 L787.5,41.6 L789.0,41.7 L790.5,41.8 L792.0,41.9 L793.5,42.1 L795.0,42.2 L796.5,42.4 L798.0,42.5 L799.5,42.7 L801.0,42.8 L802.5,43.0 L804.0,43.2 L805.5,43.3 L806.9,43.5 L808.4,43.7 L809.9,43.9 L811.4,44.1 L812.9,44.3 L814.4,44.5 L815.9,44.7 L817.3,44.9 L818.8,45.1 L820.3,45.4 L821.8,45.6 L823.3,45.8 L824.7,46.1 L826.2,46.3 L827.7,46.6 L829.2,46.8 L830.6,47.1 L832.1,47.3 L833.6,47.6 L835.0,47.9 L836.5,48.2 L838.0,48.4 L839.4,48.7 L840.9,49.0 L842.4,49.3 L843.8,49.6 L845.3,49.9 L846.8,50.2 L848.2,50.5 L849.7,50.8 L851.2,51.1 L852.6,51.5 L854.1,51.8 L855.5,52.1 L857.0,52.5 L858.4,52.8 L859.9,53.1 L861.4,53.5 L862.8,53.8 L864.3,54.2 L865.7,54.5 L867.2,54.9 L868.6,55.2 L870.1,55.6 L871.5,56.0 L873.0,56.3 L874.4,56.7 L875.9,57.1 L877.3,57.5 L878.8,57.8 L880.2,58.2 L881.7,58.6 L883.1,59.0 L884.6,59.4 L886.0,59.8 L887.5,60.2 L888.9,60.6 L890.3,61.0 L891.8,61.4 L893.2,61.8 L894.7,62.2 L896.1,62.6 L897.6,63.0 L899.0,63.5 L900.4,63.9 L901.9,64.3 L903.3,64.7 L904.8,65.2 L906.2,65.6 L907.6,66.0 L909.1,66.4 L910.5,66.9 L912.0,67.3 L913.4,67.7 L914.8,68.2 L916.3,68.6 L917.7,69.1 L919.2,69.5 L920.6,70.0 L922.0,70.4 L923.5,70.9 L924.9,71.3 L926.3,71.8 L927.8,72.2 L929.2,72.7 L930.6,73.1 L932.1,73.6 L933.5,74.0 L934.9,74.5 L936.4,75.0 L937.8,75.4 L939.2,75.9 L940.7,76.3 L942.1,76.8 L943.6,77.3 L945.0,77.7 L946.4,78.2 L947.9,78.7 L949.3,79.1 L950.7,79.6 L952.2,80.1 L953.6,80.5 L955.0,81.0 L956.5,81.5 L957.9,82.0 L959.3,82.4 L960.8,82.9 L962.2,83.4 L963.6,83.8 L965.1,84.3 L966.5,84.8 L967.9,85.2 L969.4,85.7 L970.8,86.2 L972.2,86.7 L973.7,87.1 L975.1,87.6 L976.5,88.1 L978.0,88.5 L979.4,89.0 L980.8,89.5 L982.3,89.9 L983.7,90.4 L985.1,90.9 L986.6,91.3 L988.0,91.8 L989.5,92.3 L990.9,92.7 L992.3,93.2 L993.8,93.7 L995.2,94.1 L996.6,94.6 L998.1,95.1 L999.5,95.5 L1001.0,96.0 L1002.4,96.4 L1003.8,96.9 L1005.3,97.3 L1006.7,97.8 L1008.2,98.2 L1009.6,98.7 L1011.0,99.1 L1012.5,99.6 L1013.9,100.0 L1015.4,100.5 L1016.8,100.9 L1018.3,101.4 L1019.7,101.8 L1021.2,102.2 L1022.6,102.7 L1024.0,103.1 L1025.5,103.5 L1026.9,104.0 L1028.4,104.4 L1029.8,104.8 L1031.3,105.2 L1032.7,105.6 L1034.2,106.0 L1035.6,106.4 L1037.1,106.8 L1038.5,107.2 L1040.0,107.5 L1041.5,107.9 L1042.9,108.3 L1044.4,108.6 L1045.8,109.0 L1047.3,109.3 L1048.7,109.6 L1050.2,109.9 L1051.7,110.2 L1053.1,110.5 L1054.6,110.8 L1056.1,111.1 L1057.5,111.3 L1059.0,111.6 L1060.5,111.8 L1061.9,112.1 L1063.4,112.3 L1064.9,112.5 L1066.4,112.7 L1067.8,112.8 L1069.3,113.0 L1070.8,113.1 L1072.3,113.3 L1073.8,113.4 L1075.3,113.5 L1076.7,113.5 L1078.2,113.6 L1079.7,113.6 L1081.2,113.7 L1082.7,113.7 L1084.2,113.7 L1085.7,113.7 L1087.2,113.6 L1088.7,113.6 L1090.2,113.5 L1091.7,113.4 L1093.2,113.3 L1094.7,113.2 L1096.2,113.1 L1097.7,113.0 L1099.2,112.8 L1100.7,112.6 L1102.2,112.5 L1103.7,112.3 L1105.2,112.1 L1106.7,111.9 L1108.2,111.6 L1109.7,111.4 L1111.2,111.2 L1112.7,110.9 L1114.2,110.7 L1115.7,110.4 L1117.2,110.1 L1118.7,109.8 L1120.2,109.5 L1121.6,109.2 L1123.1,108.9 L1124.6,108.6 L1126.1,108.2 L1127.6,107.9 L1129.0,107.5 L1130.5,107.1 L1132.0,106.8 L1133.4,106.4 L1134.9,106.0 L1136.3,105.6 L1137.8,105.1 L1139.2,104.7 L1140.7,104.3 L1142.1,103.8 L1143.6,103.3 L1145.0,102.9 L1146.4,102.4 L1147.8,101.9 L1149.2,101.4 L1150.7,100.9 L1152.1,100.3 L1153.5,99.8 L1154.9,99.2 L1156.2,98.7 L1157.6,98.1 L1159.0,97.5 L1160.4,96.9 L1161.7,96.3 L1163.1,95.6 L1164.4,95.0 L1165.8,94.4 L1167.1,93.7 L1168.4,93.0 L1169.7,92.3 L1171.0,91.6 L1172.3,90.9 L1173.6,90.2 L1174.9,89.4 L1176.2,88.7 L1177.5,87.9 L1178.7,87.2 L1180.0,86.4 L1181.2,85.6 L1182.5,84.8 L1183.8,84.0 L1185.0,83.2 L1186.2,82.4 L1187.5,81.6 L1188.7,80.8 L1190.0,79.9 L1191.2,79.1 L1192.4,78.3 L1193.6,77.4 L1194.9,76.6 L1196.1,75.7 L1197.3,74.9 L1198.6,74.0 L1199.8,73.2 L1201.0,72.3 L1202.2,71.5 L1203.5,70.6 L1204.7,69.7 L1205.9,68.9 L1207.2,68.0 L1208.4,67.2 L1209.7,66.4 L1210.9,65.5 L1212.2,64.7 L1213.4,63.8 L1214.7,63.0 L1216.0,62.2 L1217.2,61.4 L1218.5,60.6 L1219.8,59.8 L1221.1,59.0 L1222.4,58.2 L1223.7,57.4 L1225.0,56.6 L1226.4,55.9 L1227.7,55.1 L1229.0,54.4 L1230.4,53.6 L1231.8,52.9 L1233.1,52.2 L1234.5,51.5 L1235.9,50.8 L1237.3,50.2 L1238.7,49.5 L1240.1,48.9 L1241.6,48.3 L1243.0,47.7 L1244.5,47.1 L1245.9,46.5 L1247.4,46.0 L1248.8,45.5 L1250.3,45.0 L1251.8,44.6 L1253.2,44.1 L1254.7,43.7 L1256.2,43.4 L1257.7,43.1 L1259.1,42.8 L1260.6,42.5 L1262.1,42.3 L1263.5,42.1 L1265.0,42.0 L1266.5,41.9 L1267.9,41.9 L1269.3,41.9 L1270.8,41.9 L1272.2,42.0 L1273.6,42.2 L1275.0,42.4 L1276.4,42.7 L1277.8,43.0 L1279.1,43.4 L1280.5,43.8 L1281.8,44.3 L1283.1,44.8 L1284.4,45.4 L1285.7,46.1 L1287.0,46.7 L1288.3,47.5 L1289.5,48.3 L1290.8,49.1 L1292.0,49.9 L1293.2,50.8 L1294.4,51.8 L1295.6,52.7 L1296.8,53.7 L1298.0,54.7 L1299.1,55.8 L1300.3,56.8 L1301.4,57.9 L1302.5,59.0 L1303.6,60.2 L1304.7,61.3 L1305.8,62.5 L1306.9,63.6 L1308.0,64.8 L1309.0,66.0 L1310.1,67.2 L1311.1,68.4 L1312.1,69.6 L1313.1,70.8 L1314.2,72.0 L1315.1,73.1 L1316.1,74.3 L1317.1,75.5 L1318.1,76.6 L1319.1,77.7 L1320.1,78.7 L1321.2,79.7 L1322.3,80.7 L1323.4,81.6 L1324.5,82.4 L1325.7,83.2 L1327.0,83.8 L1328.3,84.4 L1329.7,84.9 L1331.1,85.2 L1332.6,85.5 L1334.1,85.6 L1335.6,85.5 L1337.0,85.3 L1338.3,84.9 L1339.6,84.4 L1340.8,83.7 L1342.0,82.9 L1343.1,82.0 L1344.1,81.0 L1345.1,79.9 L1346.0,78.7 L1347.0,77.4 L1347.8,76.1 L1348.6,74.7 L1349.4,73.3 L1350.2,71.9 L1350.9,70.4 L1351.6,69.0 L1352.3,67.5 L1352.9,66.1 L1353.5,64.7 L1354.1,63.3 L1354.7,61.9 L1355.3,60.5 L1355.9,59.2 L1356.5,57.9 L1357.1,56.6 L1357.7,55.3 L1358.4,54.0 L1359.0,52.7 L1359.7,51.4 L1360.4,50.2 L1361.2,48.9 L1362.0,47.7 L1362.8,46.4 L1363.7,45.2 L1364.6,43.9 L1365.6,42.7 L1366.1,44.1 L1366.5,45.6 L1366.9,47.1 L1367.3,48.5 L1367.7,50.0 L1368.1,51.5 L1368.4,52.9 L1368.8,54.4 L1369.1,55.9 L1369.4,57.4 L1369.8,58.9 L1370.0,60.4 L1370.3,61.9 L1370.6,63.3 L1370.9,64.8 L1371.1,66.4 L1371.4,67.9 L1371.6,69.4 L1371.8,70.9 L1372.0,72.4 L1372.2,73.9 L1372.4,75.4 L1372.6,76.9 L1372.8,78.5 L1372.9,80.0 L1373.1,81.5 L1373.2,83.0 L1373.4,84.6 L1373.5,86.1 L1373.7,87.6 L1373.8,89.2 L1373.9,90.7 L1374.0,92.2 L1374.1,93.8 L1374.2,95.3 L1374.3,96.8 L1374.4,98.4 L1374.5,99.9 L1374.6,101.4 L1374.7,103.0 L1374.8,104.5 L1374.9,106.1 L1375.0,107.6 L1375.1,109.1 L1375.2,110.7 L1375.3,112.2 L1375.4,113.7 L1375.4,115.3 L1375.5,116.8 L1375.6,118.3 L1375.7,119.9 L1375.8,121.4 L1375.9,122.9 L1376.0,124.4 L1376.1,126.0 L1376.2,127.5 L1376.3,129.0 L1376.4,130.5 L1376.5,132.1 L1376.6,133.6 L1376.8,135.1 L1376.9,136.6 L1377.3,137.7 L1377.7,138.8 L1378.1,139.9 L1378.4,141.1 L1378.8,142.2 L1379.2,143.3 L1379.6,144.4 L1380.0,145.5 L1380.4,145.2 L1380.8,145.0 L1381.2,144.7 L1381.7,144.4 L1382.1,144.2 L1382.5,143.9 L1382.9,143.7 L1383.3,143.4 L1383.4,145.0 L1383.5,146.6 L1383.5,148.1 L1383.6,149.7 L1383.7,151.3 L1383.7,152.9 L1383.8,154.4 L1383.9,156.0 L1383.9,157.6 L1384.0,159.2 L1384.0,160.7 L1384.1,162.3 L1384.1,163.9 L1384.2,165.5 L1384.2,167.0 L1384.3,168.6 L1384.3,170.2 L1384.4,171.8 L1384.4,173.3 L1384.5,174.9 L1384.5,176.5 L1384.5,178.1 L1384.6,179.7 L1384.6,181.2 L1384.7,182.8 L1384.7,184.4 L1384.8,186.0 L1384.8,187.5 L1384.8,189.1 L1384.9,190.7 L1384.9,192.3 L1385.0,193.8 L1385.0,195.4 L1385.0,197.0 L1385.1,198.6 L1385.1,200.1 L1385.2,201.7 L1385.2,203.3" stroke="#00ff00"/>
</g>
<g stroke="#000" stroke-width="3.7" fill="none" stroke-linecap="butt">
<path d="M229.0,1057.0 L229.0,38.7 L1489.0,38.7 L1489.0,1057.0 Z" stroke-linejoin="miter"/>
<line x1="229.00" y1="1057.0" x2="229.00" y2="1067.0"/>
<line x1="303.12" y1="1057.0" x2="303.12" y2="1077.0"/>
<line x1="377.24" y1="1057.0" x2="377.24" y2="1067.0"/>
<line x1="451.35" y1="1057.0" x2="451.35" y2="1077.0"/>
<line x1="525.47" y1="1057.0" x2="525.47" y2="1067.0"/>
<line x1="599.59" y1="1057.0" x2="599.59" y2="1077.0"/>
<line x1="673.71" y1="1057.0" x2="673.71" y2="1067.0"/>
<line x1="747.82" y1="1057.0" x2="747.82" y2="1077.0"/>
<line x1="821.94" y1="1057.0" x2="821.94" y2="1067.0"/>
<line x1="896.06" y1="1057.0" x2="896.06" y2="1077.0"/>
<line x1="970.18" y1="1057.0" x2="970.18" y2="1067.0"/>
<line x1="1044.29" y1="1057.0" x2="1044.29" y2="1077.0"/>
<line x1="1118.41" y1="1057.0" x2="1118.41" y2="1067.0"/>
<line x1="1192.53" y1="1057.0" x2="1192.53" y2="1077.0"/>
<line x1="1266.65" y1="1057.0" x2="1266.65" y2="1067.0"/>
<line x1="1340.76" y1="1057.0" x2="1340.76" y2="1077.0"/>
<line x1="1414.88" y1="1057.0" x2="1414.88" y2="1067.0"/>
<line x1="1489.00" y1="1057.0" x2="1489.00" y2="1077.0"/>
<line x1="229.0" y1="165.99" x2="239.0" y2="165.99"/>
<line x1="229.0" y1="293.27" x2="249.0" y2="293.27"/>
<line x1="229.0" y1="420.56" x2="239.0" y2="420.56"/>
<line x1="229.0" y1="547.85" x2="249.0" y2="547.85"/>
<line x1="229.0" y1="675.14" x2="239.0" y2="675.14"/>
<line x1="229.0" y1="802.43" x2="249.0" y2="802.43"/>
<line x1="229.0" y1="929.71" x2="239.0" y2="929.71"/>
<line x1="1489.0" y1="102.34" x2="1479.0" y2="102.34"/>
<line x1="1489.0" y1="165.99" x2="1469.0" y2="165.99"/>
<line x1="1489.0" y1="229.63" x2="1479.0" y2="229.63"/>
<line x1="1489.0" y1="293.27" x2="1469.0" y2="293.27"/>
<line x1="1489.0" y1="356.92" x2="1479.0" y2="356.92"/>
<line x1="1489.0" y1="420.56" x2="1469.0" y2="420.56"/>
<line x1="1489.0" y1="484.21" x2="1479.0" y2="484.21"/>
<line x1="1489.0" y1="547.85" x2="1469.0" y2="547.85"/>
<line x1="1489.0" y1="611.49" x2="1479.0" y2="611.49"/>
<line x1="1489.0" y1="675.14" x2="1469.0" y2="675.14"/>
<line x1="1489.0" y1="738.78" x2="1479.0" y2="738.78"/>
<line x1="1489.0" y1="802.43" x2="1469.0" y2="802.43"/>
<line x1="1489.0" y1="866.07" x2="1479.0" y2="866.07"/>
<line x1="1489.0" y1="929.71" x2="1469.0" y2="929.71"/>
<line x1="1489.0" y1="993.36" x2="1479.0" y2="993.36"/>
</g>
<g font-size="58" fill="#000">
<text x="207" y="55.9" text-anchor="end">0</text>
<text x="207" y="310.5" text-anchor="end">5</text>
<text transform="translate(143.96,306.68) scale(1.1226,0.8)">−</text>
<text x="207" y="565.1" text-anchor="end">10</text>
<text transform="translate(115.36,561.26) scale(1.1226,0.8)">−</text>
<text x="207" y="819.6" text-anchor="end">15</text>
<text transform="translate(115.26,815.83) scale(1.1226,0.8)">−</text>
<text x="207" y="1074.2" text-anchor="end">20</text>
<text transform="translate(115.06,1070.41) scale(1.1226,0.8)">−</text>
<text x="1509" y="55.9">200</text>
<text x="1509" y="183.2">150</text>
<text x="1509" y="310.5">100</text>
<text x="1509" y="437.8">50</text>
<text x="1509" y="565.1">0</text>
<text x="1541.7" y="692.3">50</text>
<text transform="translate(1508.16,688.55) scale(1.1226,0.8)">−</text>
<text x="1541.7" y="819.6">100</text>
<text transform="translate(1508.16,815.83) scale(1.1226,0.8)">−</text>
<text x="1541.7" y="946.9">150</text>
<text transform="translate(1508.16,943.12) scale(1.1226,0.8)">−</text>
<text x="1541.7" y="1074.2">200</text>
<text transform="translate(1508.16,1070.41) scale(1.1226,0.8)">−</text>
<text x="303.1" y="1135.5" text-anchor="middle">2</text>
<text x="451.4" y="1135.5" text-anchor="middle">4</text>
<text x="599.6" y="1135.5" text-anchor="middle">6</text>
<text x="747.8" y="1135.5" text-anchor="middle">8</text>
<text x="896.1" y="1135.5" text-anchor="middle">10</text>
<text x="1044.3" y="1135.5" text-anchor="middle">12</text>
<text x="1192.5" y="1135.5" text-anchor="middle">14</text>
<text x="1340.8" y="1135.5" text-anchor="middle">16</text>
<text x="1489.0" y="1135.5" text-anchor="middle">18</text>
</g>
<text font-size="53.5" x="860.5" y="1228.1" text-anchor="middle" letter-spacing="2.6"><tspan font-style="italic">l</tspan>(mm)</text>
<text font-size="58" transform="translate(58.5,554.5) rotate(-90)" text-anchor="middle">Transmission coefficient(dB)</text>
<text font-size="58" transform="translate(1691.3,548) rotate(-90)" text-anchor="middle">Transmission phase(°)</text>
<rect x="884.3" y="715.1" width="352.5" height="222.4" fill="#fff" stroke="#3a3a3a" stroke-width="1.5"/>
<g fill="none" stroke-width="6" stroke-linecap="round">
<line x1="891.8" y1="755" x2="1020.9" y2="755" stroke="#ff0000" stroke-dasharray="19.1 15.5 0.01 15.5"/>
<line x1="891.8" y1="826.3" x2="1020.9" y2="826.3" stroke="#00ff00"/>
<line x1="891.8" y1="897.9" x2="1020.9" y2="897.9" stroke="#0000ff" stroke-dasharray="27 36.6"/>
</g>
<g font-size="58" letter-spacing="-0.35">
<text x="1035.8" y="774.4">5.3 GHz</text>
<text x="1035.8" y="845.4">5.8 GHz</text>
<text x="1035.8" y="916.9">6.2 GHz</text>
</g>
</svg>
</body></html>
